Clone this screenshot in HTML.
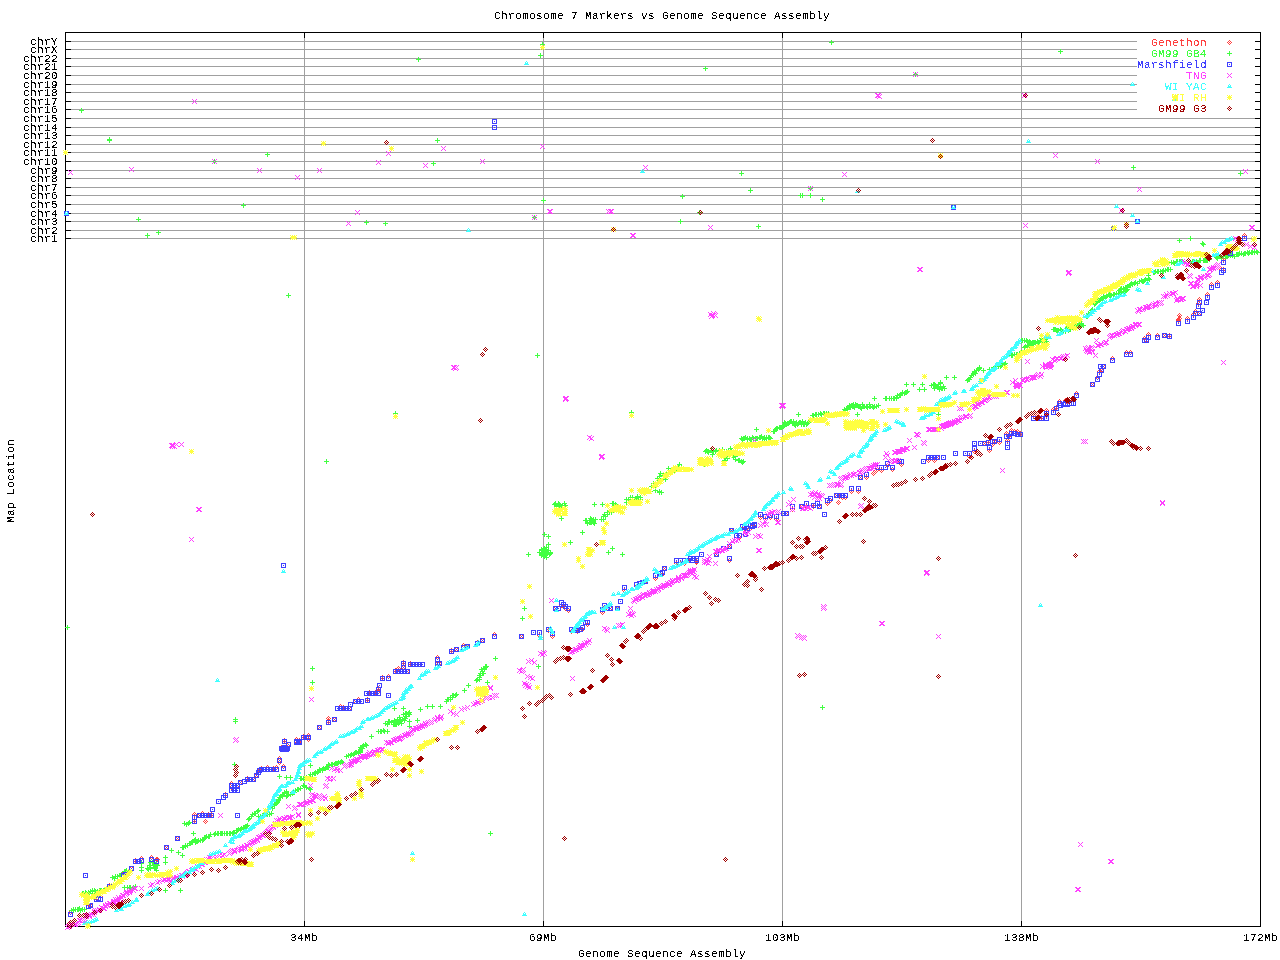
<!DOCTYPE html>
<html lang="en"><head><meta charset="utf-8">
<title>Chromosome 7 Markers vs Genome Sequence Assembly</title>
<style>
html,body{margin:0;padding:0;background:#fff}
body{width:1280px;height:960px;overflow:hidden;position:relative}
svg,#m{position:absolute;left:0;top:0;display:block;width:1280px;height:960px}
text{font-family:"Liberation Mono",monospace;font-size:11px;letter-spacing:0.4px;fill:#000}
.g{fill:#a0a0a0}.k{fill:#000}
i{position:absolute;display:block;width:5px;height:5px}
.a{background:linear-gradient(#ff4040,#ff4040) 2px 0px/1px 1px no-repeat,linear-gradient(#ff4040,#ff4040) 1px 1px/1px 1px no-repeat,linear-gradient(#ff4040,#ff4040) 3px 1px/1px 1px no-repeat,linear-gradient(#ff4040,#ff4040) 0px 2px/1px 1px no-repeat,linear-gradient(#ff4040,#ff4040) 2px 2px/1px 1px no-repeat,linear-gradient(#ff4040,#ff4040) 4px 2px/1px 1px no-repeat,linear-gradient(#ff4040,#ff4040) 1px 3px/1px 1px no-repeat,linear-gradient(#ff4040,#ff4040) 3px 3px/1px 1px no-repeat,linear-gradient(#ff4040,#ff4040) 2px 4px/1px 1px no-repeat}
.b{background:linear-gradient(#40ff40,#40ff40) 2px 0px/1px 1px no-repeat,linear-gradient(#40ff40,#40ff40) 2px 1px/1px 1px no-repeat,linear-gradient(#40ff40,#40ff40) 0px 2px/5px 1px no-repeat,linear-gradient(#40ff40,#40ff40) 2px 3px/1px 1px no-repeat,linear-gradient(#40ff40,#40ff40) 2px 4px/1px 1px no-repeat}
.c{background:linear-gradient(#4040ff,#4040ff) 0px 0px/5px 1px no-repeat,linear-gradient(#4040ff,#4040ff) 0px 1px/1px 1px no-repeat,linear-gradient(#4040ff,#4040ff) 4px 1px/1px 1px no-repeat,linear-gradient(#4040ff,#4040ff) 0px 2px/1px 1px no-repeat,linear-gradient(#4040ff,#4040ff) 2px 2px/1px 1px no-repeat,linear-gradient(#4040ff,#4040ff) 4px 2px/1px 1px no-repeat,linear-gradient(#4040ff,#4040ff) 0px 3px/1px 1px no-repeat,linear-gradient(#4040ff,#4040ff) 4px 3px/1px 1px no-repeat,linear-gradient(#4040ff,#4040ff) 0px 4px/5px 1px no-repeat}
.d{background:linear-gradient(#ff40ff,#ff40ff) 0px 0px/1px 1px no-repeat,linear-gradient(#ff40ff,#ff40ff) 4px 0px/1px 1px no-repeat,linear-gradient(#ff40ff,#ff40ff) 1px 1px/1px 1px no-repeat,linear-gradient(#ff40ff,#ff40ff) 3px 1px/1px 1px no-repeat,linear-gradient(#ff40ff,#ff40ff) 2px 2px/1px 1px no-repeat,linear-gradient(#ff40ff,#ff40ff) 1px 3px/1px 1px no-repeat,linear-gradient(#ff40ff,#ff40ff) 3px 3px/1px 1px no-repeat,linear-gradient(#ff40ff,#ff40ff) 0px 4px/1px 1px no-repeat,linear-gradient(#ff40ff,#ff40ff) 4px 4px/1px 1px no-repeat}
.e{background:linear-gradient(#40ffff,#40ffff) 2px 0px/1px 1px no-repeat,linear-gradient(#40ffff,#40ffff) 1px 1px/1px 1px no-repeat,linear-gradient(#40ffff,#40ffff) 3px 1px/1px 1px no-repeat,linear-gradient(#40ffff,#40ffff) 1px 2px/3px 1px no-repeat,linear-gradient(#40ffff,#40ffff) 0px 3px/5px 1px no-repeat}
.f{background:linear-gradient(#ffff40,#ffff40) 0px 0px/1px 1px no-repeat,linear-gradient(#ffff40,#ffff40) 2px 0px/1px 1px no-repeat,linear-gradient(#ffff40,#ffff40) 4px 0px/1px 1px no-repeat,linear-gradient(#ffff40,#ffff40) 1px 1px/3px 1px no-repeat,linear-gradient(#ffff40,#ffff40) 0px 2px/5px 1px no-repeat,linear-gradient(#ffff40,#ffff40) 1px 3px/3px 1px no-repeat,linear-gradient(#ffff40,#ffff40) 0px 4px/1px 1px no-repeat,linear-gradient(#ffff40,#ffff40) 2px 4px/1px 1px no-repeat,linear-gradient(#ffff40,#ffff40) 4px 4px/1px 1px no-repeat}
.g{background:linear-gradient(#a00000,#a00000) 2px 0px/1px 1px no-repeat,linear-gradient(#a00000,#a00000) 1px 1px/1px 1px no-repeat,linear-gradient(#a00000,#a00000) 3px 1px/1px 1px no-repeat,linear-gradient(#a00000,#a00000) 0px 2px/1px 1px no-repeat,linear-gradient(#a00000,#a00000) 2px 2px/1px 1px no-repeat,linear-gradient(#a00000,#a00000) 4px 2px/1px 1px no-repeat,linear-gradient(#a00000,#a00000) 1px 3px/1px 1px no-repeat,linear-gradient(#a00000,#a00000) 3px 3px/1px 1px no-repeat,linear-gradient(#a00000,#a00000) 2px 4px/1px 1px no-repeat}
</style></head><body>
<svg width="1280" height="960" viewBox="0 0 1280 960" shape-rendering="crispEdges">
<rect width="1280" height="960" fill="#fff"/>
<path class="g" d="M66 41h1071v1h-1071zM66 49h1071v1h-1071zM66 58h1071v1h-1071zM66 66h1071v1h-1071zM66 75h1071v1h-1071zM66 84h1071v1h-1071zM66 92h1071v1h-1071zM66 101h1071v1h-1071zM66 109h1071v1h-1071zM66 118h1194v1h-1194zM66 127h1194v1h-1194zM66 135h1194v1h-1194zM66 144h1194v1h-1194zM66 152h1194v1h-1194zM66 161h1194v1h-1194zM66 170h1194v1h-1194zM66 178h1194v1h-1194zM66 187h1194v1h-1194zM66 195h1194v1h-1194zM66 204h1194v1h-1194zM66 213h1194v1h-1194zM66 221h1194v1h-1194zM66 230h1194v1h-1194zM66 238h1194v1h-1194zM304 33h1v893h-1zM543 33h1v893h-1zM782 33h1v893h-1zM1021 33h1v893h-1z"/>
<path class="k" d="M65 32h1196v1h-1196zM65 926h1196v1h-1196zM65 32h1v895h-1zM1260 32h1v895h-1zM66 41h5v1h-5zM1255 41h5v1h-5zM66 49h5v1h-5zM1255 49h5v1h-5zM66 58h5v1h-5zM1255 58h5v1h-5zM66 66h5v1h-5zM1255 66h5v1h-5zM66 75h5v1h-5zM1255 75h5v1h-5zM66 84h5v1h-5zM1255 84h5v1h-5zM66 92h5v1h-5zM1255 92h5v1h-5zM66 101h5v1h-5zM1255 101h5v1h-5zM66 109h5v1h-5zM1255 109h5v1h-5zM66 118h5v1h-5zM1255 118h5v1h-5zM66 127h5v1h-5zM1255 127h5v1h-5zM66 135h5v1h-5zM1255 135h5v1h-5zM66 144h5v1h-5zM1255 144h5v1h-5zM66 152h5v1h-5zM1255 152h5v1h-5zM66 161h5v1h-5zM1255 161h5v1h-5zM66 170h5v1h-5zM1255 170h5v1h-5zM66 178h5v1h-5zM1255 178h5v1h-5zM66 187h5v1h-5zM1255 187h5v1h-5zM66 195h5v1h-5zM1255 195h5v1h-5zM66 204h5v1h-5zM1255 204h5v1h-5zM66 213h5v1h-5zM1255 213h5v1h-5zM66 221h5v1h-5zM1255 221h5v1h-5zM66 230h5v1h-5zM1255 230h5v1h-5zM66 238h5v1h-5zM1255 238h5v1h-5zM304 33h1v5h-1zM304 921h1v5h-1zM543 33h1v5h-1zM543 921h1v5h-1zM782 33h1v5h-1zM782 921h1v5h-1zM1021 33h1v5h-1zM1021 921h1v5h-1z"/>
</svg>
<div id="m">
<i class=a style=left:68px;top:910px></i><i class=a style=left:94px;top:896px></i><i class=a style=left:96px;top:894px></i><i class=a style=left:98px;top:894px></i><i class=a style=left:86px;top:902px></i><i class=a style=left:88px;top:903px></i><i class=a style=left:107px;top:883px></i><i class=a style=left:121px;top:871px></i><i class=a style=left:129px;top:866px></i><i class=a style=left:133px;top:858px></i><i class=a style=left:139px;top:856px></i><i class=a style=left:149px;top:855px></i><i class=a style=left:154px;top:857px></i><i class=a style=left:164px;top:845px></i><i class=a style=left:175px;top:836px></i><i class=a style=left:192px;top:812px></i><i class=a style=left:192px;top:818px></i><i class=a style=left:197px;top:813px></i><i class=a style=left:200px;top:811px></i><i class=a style=left:203px;top:813px></i><i class=a style=left:206px;top:812px></i><i class=a style=left:209px;top:812px></i><i class=a style=left:223px;top:792px></i><i class=a style=left:229px;top:781px></i><i class=a style=left:232px;top:783px></i><i class=a style=left:235px;top:783px></i><i class=a style=left:229px;top:785px></i><i class=a style=left:232px;top:788px></i><i class=a style=left:238px;top:780px></i><i class=a style=left:245px;top:776px></i><i class=a style=left:251px;top:777px></i><i class=a style=left:254px;top:773px></i><i class=a style=left:256px;top:769px></i><i class=a style=left:257px;top:767px></i><i class=a style=left:259px;top:766px></i><i class=a style=left:262px;top:767px></i><i class=a style=left:265px;top:765px></i><i class=a style=left:268px;top:767px></i><i class=a style=left:271px;top:766px></i><i class=a style=left:274px;top:765px></i><i class=a style=left:281px;top:764px></i><i class=a style=left:277px;top:756px></i><i class=a style=left:279px;top:745px></i><i class=a style=left:281px;top:746px></i><i class=a style=left:283px;top:746px></i><i class=a style=left:285px;top:743px></i><i class=a style=left:284px;top:747px></i><i class=a style=left:282px;top:738px></i><i class=a style=left:294px;top:737px></i><i class=a style=left:297px;top:739px></i><i class=a style=left:294px;top:739px></i><i class=a style=left:297px;top:738px></i><i class=a style=left:301px;top:734px></i><i class=a style=left:304px;top:735px></i><i class=a style=left:306px;top:733px></i><i class=a style=left:317px;top:725px></i><i class=a style=left:326px;top:719px></i><i class=a style=left:332px;top:717px></i><i class=a style=left:338px;top:704px></i><i class=a style=left:341px;top:705px></i><i class=a style=left:344px;top:706px></i><i class=a style=left:347px;top:706px></i><i class=a style=left:353px;top:699px></i><i class=a style=left:356px;top:697px></i><i class=a style=left:365px;top:697px></i><i class=a style=left:367px;top:690px></i><i class=a style=left:370px;top:691px></i><i class=a style=left:373px;top:690px></i><i class=a style=left:376px;top:689px></i><i class=a style=left:376px;top:686px></i><i class=a style=left:380px;top:675px></i><i class=a style=left:386px;top:674px></i><i class=a style=left:393px;top:668px></i><i class=a style=left:396px;top:666px></i><i class=a style=left:399px;top:669px></i><i class=a style=left:402px;top:669px></i><i class=a style=left:405px;top:669px></i><i class=a style=left:401px;top:660px></i><i class=a style=left:401px;top:665px></i><i class=a style=left:408px;top:661px></i><i class=a style=left:411px;top:662px></i><i class=a style=left:414px;top:662px></i><i class=a style=left:435px;top:655px></i><i class=a style=left:435px;top:661px></i><i class=a style=left:437px;top:661px></i><i class=a style=left:449px;top:648px></i><i class=a style=left:454px;top:647px></i><i class=a style=left:461px;top:643px></i><i class=a style=left:465px;top:644px></i><i class=a style=left:475px;top:640px></i><i class=a style=left:480px;top:638px></i><i class=a style=left:492px;top:632px></i><i class=a style=left:519px;top:634px></i><i class=a style=left:537px;top:633px></i><i class=a style=left:546px;top:628px></i><i class=a style=left:550px;top:634px></i><i class=a style=left:553px;top:606px></i><i class=a style=left:559px;top:603px></i><i class=a style=left:561px;top:604px></i><i class=a style=left:563px;top:606px></i><i class=a style=left:566px;top:608px></i><i class=a style=left:569px;top:629px></i><i class=a style=left:572px;top:628px></i><i class=a style=left:575px;top:629px></i><i class=a style=left:580px;top:627px></i><i class=a style=left:585px;top:622px></i><i class=a style=left:600px;top:610px></i><i class=a style=left:602px;top:605px></i><i class=a style=left:605px;top:606px></i><i class=a style=left:608px;top:606px></i><i class=a style=left:615px;top:606px></i><i class=a style=left:622px;top:588px></i><i class=a style=left:634px;top:584px></i><i class=a style=left:637px;top:581px></i><i class=a style=left:640px;top:580px></i><i class=a style=left:643px;top:579px></i><i class=a style=left:653px;top:576px></i><i class=a style=left:660px;top:572px></i><i class=a style=left:662px;top:566px></i><i class=a style=left:674px;top:561px></i><i class=a style=left:678px;top:561px></i><i class=a style=left:682px;top:561px></i><i class=a style=left:686px;top:558px></i><i class=a style=left:694px;top:560px></i><i class=a style=left:691px;top:556px></i><i class=a style=left:694px;top:559px></i><i class=a style=left:714px;top:552px></i><i class=a style=left:727px;top:544px></i><i class=a style=left:727px;top:558px></i><i class=a style=left:729px;top:528px></i><i class=a style=left:737px;top:535px></i><i class=a style=left:742px;top:526px></i><i class=a style=left:745px;top:529px></i><i class=a style=left:750px;top:524px></i><i class=a style=left:740px;top:526px></i><i class=a style=left:748px;top:526px></i><i class=a style=left:752px;top:524px></i><i class=a style=left:758px;top:515px></i><i class=a style=left:763px;top:517px></i><i class=a style=left:768px;top:515px></i><i class=a style=left:774px;top:517px></i><i class=a style=left:784px;top:511px></i><i class=a style=left:790px;top:507px></i><i class=a style=left:799px;top:504px></i><i class=a style=left:804px;top:504px></i><i class=a style=left:811px;top:504px></i><i class=a style=left:817px;top:504px></i><i class=a style=left:825px;top:501px></i><i class=a style=left:828px;top:498px></i><i class=a style=left:834px;top:493px></i><i class=a style=left:837px;top:494px></i><i class=a style=left:840px;top:495px></i><i class=a style=left:843px;top:495px></i><i class=a style=left:849px;top:489px></i><i class=a style=left:856px;top:489px></i><i class=a style=left:858px;top:475px></i><i class=a style=left:864px;top:475px></i><i class=a style=left:875px;top:467px></i><i class=a style=left:879px;top:468px></i><i class=a style=left:885px;top:463px></i><i class=a style=left:890px;top:467px></i><i class=a style=left:897px;top:460px></i><i class=a style=left:899px;top:462px></i><i class=a style=left:926px;top:458px></i><i class=a style=left:932px;top:458px></i><i class=a style=left:935px;top:455px></i><i class=a style=left:967px;top:454px></i><i class=a style=left:972px;top:449px></i><i class=a style=left:982px;top:441px></i><i class=a style=left:986px;top:441px></i><i class=a style=left:990px;top:442px></i><i class=a style=left:992px;top:439px></i><i class=a style=left:987px;top:448px></i><i class=a style=left:997px;top:440px></i><i class=a style=left:1004px;top:431px></i><i class=a style=left:1007px;top:433px></i><i class=a style=left:1005px;top:438px></i><i class=a style=left:1009px;top:428px></i><i class=a style=left:1012px;top:429px></i><i class=a style=left:1015px;top:429px></i><i class=a style=left:1018px;top:431px></i><i class=a style=left:1031px;top:413px></i><i class=a style=left:1035px;top:413px></i><i class=a style=left:1039px;top:415px></i><i class=a style=left:1044px;top:408px></i><i class=a style=left:1044px;top:413px></i><i class=a style=left:1051px;top:407px></i><i class=a style=left:1054px;top:405px></i><i class=a style=left:1063px;top:398px></i><i class=a style=left:1067px;top:399px></i><i class=a style=left:1071px;top:398px></i><i class=a style=left:1074px;top:391px></i><i class=a style=left:1090px;top:382px></i><i class=a style=left:1095px;top:375px></i><i class=a style=left:1097px;top:369px></i><i class=a style=left:1099px;top:368px></i><i class=a style=left:1101px;top:364px></i><i class=a style=left:1110px;top:356px></i><i class=a style=left:1124px;top:350px></i><i class=a style=left:1128px;top:350px></i><i class=a style=left:1142px;top:336px></i><i class=a style=left:1144px;top:338px></i><i class=a style=left:1146px;top:332px></i><i class=a style=left:1155px;top:333px></i><i class=a style=left:1162px;top:333px></i><i class=a style=left:1167px;top:333px></i><i class=a style=left:1176px;top:318px></i><i class=a style=left:1185px;top:316px></i><i class=a style=left:1191px;top:312px></i><i class=a style=left:1193px;top:309px></i><i class=a style=left:1197px;top:311px></i><i class=a style=left:1196px;top:301px></i><i class=a style=left:1197px;top:297px></i><i class=a style=left:1205px;top:292px></i><i class=a style=left:1209px;top:282px></i><i class=a style=left:1215px;top:280px></i><i class=a style=left:1219px;top:267px></i><i class=a style=left:1221px;top:267px></i><i class=a style=left:1221px;top:257px></i><i class=a style=left:1228px;top:250px></i><i class=a style=left:1242px;top:233px></i><i class=a style=left:1057px;top:399px></i><i class=a style=left:1065px;top:400px></i><i class=a style=left:203px;top:819px></i><i class=a style=left:277px;top:760px></i><i class=a style=left:326px;top:716px></i><i class=a style=left:306px;top:737px></i><i class=a style=left:836px;top:500px></i><i class=a style=left:872px;top:470px></i><i class=a style=left:871px;top:471px></i><i class=a style=left:1177px;top:313px></i><i class=a style=left:1177px;top:316px></i><i class=a style=left:1176px;top:317px></i><i class=a style=left:155px;top:857px></i><i class=a style=left:64px;top:211px></i>
<i class=b style=left:69px;top:908px></i><i class=b style=left:71px;top:908px></i><i class=b style=left:71px;top:907px></i><i class=b style=left:73px;top:907px></i><i class=b style=left:75px;top:907px></i><i class=b style=left:76px;top:907px></i><i class=b style=left:77px;top:906px></i><i class=b style=left:78px;top:908px></i><i class=b style=left:80px;top:907px></i><i class=b style=left:80px;top:907px></i><i class=b style=left:82px;top:907px></i><i class=b style=left:80px;top:891px></i><i class=b style=left:81px;top:891px></i><i class=b style=left:83px;top:890px></i><i class=b style=left:84px;top:891px></i><i class=b style=left:86px;top:890px></i><i class=b style=left:87px;top:891px></i><i class=b style=left:88px;top:889px></i><i class=b style=left:90px;top:889px></i><i class=b style=left:90px;top:888px></i><i class=b style=left:92px;top:888px></i><i class=b style=left:92px;top:889px></i><i class=b style=left:93px;top:889px></i><i class=b style=left:95px;top:889px></i><i class=b style=left:97px;top:888px></i><i class=b style=left:98px;top:888px></i><i class=b style=left:99px;top:888px></i><i class=b style=left:101px;top:888px></i><i class=b style=left:103px;top:888px></i><i class=b style=left:104px;top:886px></i><i class=b style=left:105px;top:887px></i><i class=b style=left:110px;top:875px></i><i class=b style=left:112px;top:876px></i><i class=b style=left:113px;top:874px></i><i class=b style=left:113px;top:874px></i><i class=b style=left:115px;top:874px></i><i class=b style=left:117px;top:873px></i><i class=b style=left:118px;top:873px></i><i class=b style=left:118px;top:873px></i><i class=b style=left:119px;top:872px></i><i class=b style=left:119px;top:872px></i><i class=b style=left:121px;top:871px></i><i class=b style=left:122px;top:869px></i><i class=b style=left:123px;top:869px></i><i class=b style=left:124px;top:868px></i><i class=b style=left:122px;top:885px></i><i class=b style=left:125px;top:885px></i><i class=b style=left:127px;top:885px></i><i class=b style=left:128px;top:885px></i><i class=b style=left:131px;top:885px></i><i class=b style=left:133px;top:884px></i><i class=b style=left:139px;top:861px></i><i class=b style=left:139px;top:865px></i><i class=b style=left:139px;top:868px></i><i class=b style=left:163px;top:855px></i><i class=b style=left:163px;top:860px></i><i class=b style=left:169px;top:848px></i><i class=b style=left:176px;top:850px></i><i class=b style=left:180px;top:853px></i><i class=b style=left:191px;top:831px></i><i class=b style=left:178px;top:888px></i><i class=b style=left:163px;top:888px></i><i class=b style=left:148px;top:866px></i><i class=b style=left:153px;top:866px></i><i class=b style=left:150px;top:860px></i><i class=b style=left:154px;top:862px></i><i class=b style=left:154px;top:868px></i><i class=b style=left:154px;top:863px></i><i class=b style=left:155px;top:863px></i><i class=b style=left:148px;top:865px></i><i class=b style=left:152px;top:865px></i><i class=b style=left:151px;top:863px></i><i class=b style=left:154px;top:863px></i><i class=b style=left:152px;top:860px></i><i class=b style=left:146px;top:867px></i><i class=b style=left:147px;top:863px></i><i class=b style=left:145px;top:866px></i><i class=b style=left:148px;top:860px></i><i class=b style=left:180px;top:845px></i><i class=b style=left:181px;top:845px></i><i class=b style=left:183px;top:844px></i><i class=b style=left:183px;top:843px></i><i class=b style=left:185px;top:843px></i><i class=b style=left:185px;top:843px></i><i class=b style=left:187px;top:841px></i><i class=b style=left:188px;top:841px></i><i class=b style=left:189px;top:840px></i><i class=b style=left:190px;top:840px></i><i class=b style=left:190px;top:839px></i><i class=b style=left:192px;top:838px></i><i class=b style=left:193px;top:837px></i><i class=b style=left:182px;top:821px></i><i class=b style=left:184px;top:822px></i><i class=b style=left:186px;top:821px></i><i class=b style=left:187px;top:820px></i><i class=b style=left:193px;top:840px></i><i class=b style=left:194px;top:839px></i><i class=b style=left:195px;top:839px></i><i class=b style=left:196px;top:838px></i><i class=b style=left:198px;top:838px></i><i class=b style=left:200px;top:838px></i><i class=b style=left:200px;top:838px></i><i class=b style=left:201px;top:837px></i><i class=b style=left:202px;top:835px></i><i class=b style=left:203px;top:835px></i><i class=b style=left:204px;top:834px></i><i class=b style=left:206px;top:834px></i><i class=b style=left:207px;top:834px></i><i class=b style=left:208px;top:832px></i><i class=b style=left:212px;top:832px></i><i class=b style=left:213px;top:831px></i><i class=b style=left:215px;top:831px></i><i class=b style=left:216px;top:831px></i><i class=b style=left:218px;top:831px></i><i class=b style=left:219px;top:831px></i><i class=b style=left:220px;top:831px></i><i class=b style=left:222px;top:831px></i><i class=b style=left:222px;top:831px></i><i class=b style=left:224px;top:831px></i><i class=b style=left:225px;top:831px></i><i class=b style=left:227px;top:831px></i><i class=b style=left:228px;top:831px></i><i class=b style=left:230px;top:831px></i><i class=b style=left:231px;top:830px></i><i class=b style=left:232px;top:831px></i><i class=b style=left:234px;top:828px></i><i class=b style=left:235px;top:828px></i><i class=b style=left:236px;top:827px></i><i class=b style=left:238px;top:827px></i><i class=b style=left:239px;top:826px></i><i class=b style=left:241px;top:825px></i><i class=b style=left:242px;top:825px></i><i class=b style=left:243px;top:824px></i><i class=b style=left:244px;top:824px></i><i class=b style=left:245px;top:823px></i><i class=b style=left:246px;top:817px></i><i class=b style=left:247px;top:816px></i><i class=b style=left:249px;top:814px></i><i class=b style=left:250px;top:812px></i><i class=b style=left:252px;top:811px></i><i class=b style=left:253px;top:811px></i><i class=b style=left:255px;top:809px></i><i class=b style=left:256px;top:808px></i><i class=b style=left:256px;top:814px></i><i class=b style=left:258px;top:814px></i><i class=b style=left:260px;top:813px></i><i class=b style=left:261px;top:813px></i><i class=b style=left:264px;top:812px></i><i class=b style=left:265px;top:812px></i><i class=b style=left:267px;top:812px></i><i class=b style=left:269px;top:811px></i><i class=b style=left:270px;top:806px></i><i class=b style=left:269px;top:804px></i><i class=b style=left:270px;top:804px></i><i class=b style=left:272px;top:803px></i><i class=b style=left:272px;top:802px></i><i class=b style=left:273px;top:801px></i><i class=b style=left:274px;top:801px></i><i class=b style=left:275px;top:800px></i><i class=b style=left:275px;top:799px></i><i class=b style=left:276px;top:798px></i><i class=b style=left:276px;top:797px></i><i class=b style=left:277px;top:795px></i><i class=b style=left:278px;top:795px></i><i class=b style=left:280px;top:794px></i><i class=b style=left:280px;top:793px></i><i class=b style=left:280px;top:792px></i><i class=b style=left:282px;top:791px></i><i class=b style=left:282px;top:790px></i><i class=b style=left:284px;top:790px></i><i class=b style=left:284px;top:789px></i><i class=b style=left:284px;top:794px></i><i class=b style=left:285px;top:793px></i><i class=b style=left:286px;top:792px></i><i class=b style=left:288px;top:792px></i><i class=b style=left:288px;top:792px></i><i class=b style=left:290px;top:791px></i><i class=b style=left:291px;top:790px></i><i class=b style=left:292px;top:790px></i><i class=b style=left:293px;top:788px></i><i class=b style=left:295px;top:787px></i><i class=b style=left:296px;top:787px></i><i class=b style=left:296px;top:787px></i><i class=b style=left:298px;top:786px></i><i class=b style=left:277px;top:774px></i><i class=b style=left:284px;top:775px></i><i class=b style=left:288px;top:775px></i><i class=b style=left:232px;top:762px></i><i class=b style=left:308px;top:763px></i><i class=b style=left:298px;top:776px></i><i class=b style=left:299px;top:776px></i><i class=b style=left:301px;top:776px></i><i class=b style=left:302px;top:777px></i><i class=b style=left:304px;top:775px></i><i class=b style=left:306px;top:776px></i><i class=b style=left:307px;top:776px></i><i class=b style=left:301px;top:783px></i><i class=b style=left:302px;top:784px></i><i class=b style=left:304px;top:785px></i><i class=b style=left:307px;top:786px></i><i class=b style=left:308px;top:787px></i><i class=b style=left:307px;top:774px></i><i class=b style=left:308px;top:772px></i><i class=b style=left:310px;top:772px></i><i class=b style=left:310px;top:772px></i><i class=b style=left:312px;top:771px></i><i class=b style=left:313px;top:771px></i><i class=b style=left:313px;top:770px></i><i class=b style=left:315px;top:770px></i><i class=b style=left:316px;top:769px></i><i class=b style=left:317px;top:767px></i><i class=b style=left:318px;top:768px></i><i class=b style=left:320px;top:768px></i><i class=b style=left:320px;top:767px></i><i class=b style=left:321px;top:766px></i><i class=b style=left:323px;top:766px></i><i class=b style=left:324px;top:765px></i><i class=b style=left:325px;top:765px></i><i class=b style=left:326px;top:765px></i><i class=b style=left:326px;top:763px></i><i class=b style=left:326px;top:762px></i><i class=b style=left:327px;top:763px></i><i class=b style=left:329px;top:762px></i><i class=b style=left:330px;top:762px></i><i class=b style=left:332px;top:762px></i><i class=b style=left:333px;top:761px></i><i class=b style=left:334px;top:761px></i><i class=b style=left:335px;top:761px></i><i class=b style=left:336px;top:760px></i><i class=b style=left:338px;top:760px></i><i class=b style=left:339px;top:759px></i><i class=b style=left:340px;top:760px></i><i class=b style=left:344px;top:754px></i><i class=b style=left:349px;top:752px></i><i class=b style=left:354px;top:750px></i><i class=b style=left:356px;top:751px></i><i class=b style=left:357px;top:749px></i><i class=b style=left:358px;top:748px></i><i class=b style=left:359px;top:746px></i><i class=b style=left:360px;top:746px></i><i class=b style=left:364px;top:743px></i><i class=b style=left:310px;top:666px></i><i class=b style=left:310px;top:680px></i><i class=b style=left:369px;top:734px></i><i class=b style=left:344px;top:754px></i><i class=b style=left:346px;top:753px></i><i class=b style=left:348px;top:753px></i><i class=b style=left:349px;top:752px></i><i class=b style=left:349px;top:752px></i><i class=b style=left:351px;top:752px></i><i class=b style=left:352px;top:751px></i><i class=b style=left:353px;top:750px></i><i class=b style=left:356px;top:750px></i><i class=b style=left:356px;top:749px></i><i class=b style=left:358px;top:750px></i><i class=b style=left:358px;top:749px></i><i class=b style=left:358px;top:747px></i><i class=b style=left:359px;top:745px></i><i class=b style=left:358px;top:745px></i><i class=b style=left:360px;top:744px></i><i class=b style=left:361px;top:743px></i><i class=b style=left:363px;top:742px></i><i class=b style=left:376px;top:729px></i><i class=b style=left:378px;top:729px></i><i class=b style=left:379px;top:729px></i><i class=b style=left:381px;top:728px></i><i class=b style=left:382px;top:729px></i><i class=b style=left:385px;top:729px></i><i class=b style=left:386px;top:719px></i><i class=b style=left:387px;top:720px></i><i class=b style=left:392px;top:719px></i><i class=b style=left:383px;top:721px></i><i class=b style=left:392px;top:720px></i><i class=b style=left:385px;top:722px></i><i class=b style=left:392px;top:718px></i><i class=b style=left:383px;top:721px></i><i class=b style=left:387px;top:720px></i><i class=b style=left:387px;top:719px></i><i class=b style=left:391px;top:722px></i><i class=b style=left:389px;top:720px></i><i class=b style=left:392px;top:722px></i><i class=b style=left:393px;top:722px></i><i class=b style=left:394px;top:722px></i><i class=b style=left:394px;top:720px></i><i class=b style=left:396px;top:721px></i><i class=b style=left:397px;top:720px></i><i class=b style=left:395px;top:717px></i><i class=b style=left:399px;top:721px></i><i class=b style=left:398px;top:718px></i><i class=b style=left:397px;top:715px></i><i class=b style=left:400px;top:717px></i><i class=b style=left:400px;top:717px></i><i class=b style=left:402px;top:718px></i><i class=b style=left:402px;top:716px></i><i class=b style=left:403px;top:716px></i><i class=b style=left:401px;top:712px></i><i class=b style=left:403px;top:714px></i><i class=b style=left:404px;top:714px></i><i class=b style=left:403px;top:711px></i><i class=b style=left:404px;top:711px></i><i class=b style=left:407px;top:712px></i><i class=b style=left:406px;top:711px></i><i class=b style=left:407px;top:710px></i><i class=b style=left:392px;top:706px></i><i class=b style=left:401px;top:706px></i><i class=b style=left:407px;top:719px></i><i class=b style=left:407px;top:724px></i><i class=b style=left:415px;top:718px></i><i class=b style=left:418px;top:707px></i><i class=b style=left:425px;top:704px></i><i class=b style=left:430px;top:704px></i><i class=b style=left:438px;top:704px></i><i class=b style=left:462px;top:688px></i><i class=b style=left:466px;top:683px></i><i class=b style=left:485px;top:680px></i><i class=b style=left:493px;top:656px></i><i class=b style=left:444px;top:699px></i><i class=b style=left:445px;top:697px></i><i class=b style=left:446px;top:697px></i><i class=b style=left:448px;top:697px></i><i class=b style=left:448px;top:695px></i><i class=b style=left:450px;top:695px></i><i class=b style=left:450px;top:693px></i><i class=b style=left:451px;top:693px></i><i class=b style=left:453px;top:693px></i><i class=b style=left:454px;top:692px></i><i class=b style=left:474px;top:678px></i><i class=b style=left:475px;top:677px></i><i class=b style=left:477px;top:677px></i><i class=b style=left:477px;top:675px></i><i class=b style=left:477px;top:675px></i><i class=b style=left:477px;top:673px></i><i class=b style=left:478px;top:673px></i><i class=b style=left:478px;top:671px></i><i class=b style=left:480px;top:671px></i><i class=b style=left:478px;top:671px></i><i class=b style=left:481px;top:671px></i><i class=b style=left:480px;top:669px></i><i class=b style=left:479px;top:667px></i><i class=b style=left:482px;top:667px></i><i class=b style=left:482px;top:666px></i><i class=b style=left:483px;top:665px></i><i class=b style=left:483px;top:664px></i><i class=b style=left:484px;top:664px></i><i class=b style=left:522px;top:606px></i><i class=b style=left:520px;top:616px></i><i class=b style=left:536px;top:664px></i><i class=b style=left:526px;top:552px></i><i class=b style=left:542px;top:532px></i><i class=b style=left:546px;top:534px></i><i class=b style=left:546px;top:542px></i><i class=b style=left:568px;top:540px></i><i class=b style=left:559px;top:516px></i><i class=b style=left:580px;top:530px></i><i class=b style=left:592px;top:502px></i><i class=b style=left:600px;top:502px></i><i class=b style=left:648px;top:489px></i><i class=b style=left:653px;top:484px></i><i class=b style=left:657px;top:489px></i><i class=b style=left:704px;top:448px></i><i class=b style=left:710px;top:452px></i><i class=b style=left:702px;top:462px></i><i class=b style=left:706px;top:450px></i><i class=b style=left:722px;top:458px></i><i class=b style=left:606px;top:550px></i><i class=b style=left:610px;top:546px></i><i class=b style=left:620px;top:552px></i><i class=b style=left:535px;top:353px></i><i class=b style=left:629px;top:410px></i><i class=b style=left:544px;top:551px></i><i class=b style=left:539px;top:548px></i><i class=b style=left:537px;top:550px></i><i class=b style=left:540px;top:550px></i><i class=b style=left:548px;top:550px></i><i class=b style=left:540px;top:552px></i><i class=b style=left:546px;top:548px></i><i class=b style=left:543px;top:553px></i><i class=b style=left:539px;top:552px></i><i class=b style=left:541px;top:549px></i><i class=b style=left:544px;top:555px></i><i class=b style=left:540px;top:548px></i><i class=b style=left:540px;top:552px></i><i class=b style=left:543px;top:553px></i><i class=b style=left:539px;top:553px></i><i class=b style=left:541px;top:547px></i><i class=b style=left:544px;top:548px></i><i class=b style=left:542px;top:554px></i><i class=b style=left:547px;top:552px></i><i class=b style=left:544px;top:545px></i><i class=b style=left:541px;top:553px></i><i class=b style=left:542px;top:552px></i><i class=b style=left:544px;top:549px></i><i class=b style=left:541px;top:550px></i><i class=b style=left:548px;top:551px></i><i class=b style=left:539px;top:547px></i><i class=b style=left:542px;top:546px></i><i class=b style=left:544px;top:547px></i><i class=b style=left:543px;top:548px></i><i class=b style=left:543px;top:550px></i><i class=b style=left:540px;top:551px></i><i class=b style=left:548px;top:551px></i><i class=b style=left:548px;top:550px></i><i class=b style=left:543px;top:549px></i><i class=b style=left:556px;top:503px></i><i class=b style=left:563px;top:503px></i><i class=b style=left:559px;top:505px></i><i class=b style=left:556px;top:501px></i><i class=b style=left:556px;top:501px></i><i class=b style=left:558px;top:503px></i><i class=b style=left:554px;top:504px></i><i class=b style=left:557px;top:502px></i><i class=b style=left:562px;top:501px></i><i class=b style=left:560px;top:503px></i><i class=b style=left:552px;top:502px></i><i class=b style=left:557px;top:503px></i><i class=b style=left:553px;top:502px></i><i class=b style=left:553px;top:501px></i><i class=b style=left:553px;top:502px></i><i class=b style=left:558px;top:505px></i><i class=b style=left:559px;top:505px></i><i class=b style=left:562px;top:503px></i><i class=b style=left:589px;top:520px></i><i class=b style=left:592px;top:521px></i><i class=b style=left:584px;top:518px></i><i class=b style=left:588px;top:516px></i><i class=b style=left:589px;top:519px></i><i class=b style=left:589px;top:520px></i><i class=b style=left:588px;top:520px></i><i class=b style=left:583px;top:518px></i><i class=b style=left:591px;top:520px></i><i class=b style=left:593px;top:517px></i><i class=b style=left:585px;top:521px></i><i class=b style=left:591px;top:517px></i><i class=b style=left:588px;top:516px></i><i class=b style=left:589px;top:517px></i><i class=b style=left:590px;top:518px></i><i class=b style=left:587px;top:520px></i><i class=b style=left:599px;top:517px></i><i class=b style=left:601px;top:517px></i><i class=b style=left:601px;top:517px></i><i class=b style=left:601px;top:514px></i><i class=b style=left:603px;top:514px></i><i class=b style=left:602px;top:512px></i><i class=b style=left:605px;top:512px></i><i class=b style=left:605px;top:510px></i><i class=b style=left:607px;top:510px></i><i class=b style=left:607px;top:509px></i><i class=b style=left:609px;top:510px></i><i class=b style=left:610px;top:501px></i><i class=b style=left:611px;top:501px></i><i class=b style=left:613px;top:502px></i><i class=b style=left:614px;top:503px></i><i class=b style=left:615px;top:504px></i><i class=b style=left:624px;top:500px></i><i class=b style=left:624px;top:497px></i><i class=b style=left:626px;top:497px></i><i class=b style=left:628px;top:497px></i><i class=b style=left:628px;top:495px></i><i class=b style=left:630px;top:495px></i><i class=b style=left:632px;top:499px></i><i class=b style=left:633px;top:497px></i><i class=b style=left:634px;top:496px></i><i class=b style=left:635px;top:494px></i><i class=b style=left:638px;top:497px></i><i class=b style=left:638px;top:495px></i><i class=b style=left:655px;top:476px></i><i class=b style=left:658px;top:478px></i><i class=b style=left:657px;top:474px></i><i class=b style=left:658px;top:471px></i><i class=b style=left:661px;top:473px></i><i class=b style=left:663px;top:475px></i><i class=b style=left:664px;top:472px></i><i class=b style=left:669px;top:470px></i><i class=b style=left:670px;top:469px></i><i class=b style=left:670px;top:467px></i><i class=b style=left:672px;top:468px></i><i class=b style=left:673px;top:465px></i><i class=b style=left:676px;top:466px></i><i class=b style=left:676px;top:465px></i><i class=b style=left:677px;top:462px></i><i class=b style=left:679px;top:465px></i><i class=b style=left:703px;top:449px></i><i class=b style=left:705px;top:449px></i><i class=b style=left:706px;top:449px></i><i class=b style=left:709px;top:448px></i><i class=b style=left:711px;top:449px></i><i class=b style=left:713px;top:449px></i><i class=b style=left:714px;top:448px></i><i class=b style=left:717px;top:448px></i><i class=b style=left:718px;top:450px></i><i class=b style=left:720px;top:447px></i><i class=b style=left:722px;top:450px></i><i class=b style=left:724px;top:449px></i><i class=b style=left:726px;top:449px></i><i class=b style=left:728px;top:446px></i><i class=b style=left:723px;top:455px></i><i class=b style=left:725px;top:456px></i><i class=b style=left:731px;top:455px></i><i class=b style=left:733px;top:457px></i><i class=b style=left:736px;top:458px></i><i class=b style=left:739px;top:459px></i><i class=b style=left:741px;top:459px></i><i class=b style=left:653px;top:488px></i><i class=b style=left:657px;top:490px></i><i class=b style=left:659px;top:490px></i><i class=b style=left:651px;top:481px></i><i class=b style=left:649px;top:484px></i><i class=b style=left:663px;top:477px></i><i class=b style=left:666px;top:466px></i><i class=b style=left:720px;top:449px></i><i class=b style=left:729px;top:448px></i><i class=b style=left:737px;top:458px></i><i class=b style=left:740px;top:460px></i><i class=b style=left:724px;top:449px></i><i class=b style=left:733px;top:454px></i><i class=b style=left:754px;top:427px></i><i class=b style=left:796px;top:412px></i><i class=b style=left:872px;top:396px></i><i class=b style=left:855px;top:412px></i><i class=b style=left:739px;top:436px></i><i class=b style=left:740px;top:437px></i><i class=b style=left:741px;top:436px></i><i class=b style=left:742px;top:436px></i><i class=b style=left:743px;top:435px></i><i class=b style=left:745px;top:437px></i><i class=b style=left:745px;top:436px></i><i class=b style=left:747px;top:436px></i><i class=b style=left:748px;top:437px></i><i class=b style=left:749px;top:437px></i><i class=b style=left:750px;top:435px></i><i class=b style=left:751px;top:436px></i><i class=b style=left:753px;top:436px></i><i class=b style=left:754px;top:436px></i><i class=b style=left:755px;top:436px></i><i class=b style=left:757px;top:435px></i><i class=b style=left:758px;top:435px></i><i class=b style=left:759px;top:434px></i><i class=b style=left:760px;top:436px></i><i class=b style=left:762px;top:437px></i><i class=b style=left:762px;top:435px></i><i class=b style=left:764px;top:435px></i><i class=b style=left:764px;top:436px></i><i class=b style=left:766px;top:435px></i><i class=b style=left:767px;top:435px></i><i class=b style=left:768px;top:436px></i><i class=b style=left:771px;top:429px></i><i class=b style=left:772px;top:429px></i><i class=b style=left:773px;top:427px></i><i class=b style=left:774px;top:426px></i><i class=b style=left:775px;top:426px></i><i class=b style=left:775px;top:426px></i><i class=b style=left:777px;top:425px></i><i class=b style=left:778px;top:425px></i><i class=b style=left:779px;top:425px></i><i class=b style=left:780px;top:424px></i><i class=b style=left:781px;top:424px></i><i class=b style=left:782px;top:423px></i><i class=b style=left:782px;top:420px></i><i class=b style=left:783px;top:421px></i><i class=b style=left:784px;top:422px></i><i class=b style=left:785px;top:421px></i><i class=b style=left:786px;top:421px></i><i class=b style=left:787px;top:420px></i><i class=b style=left:788px;top:419px></i><i class=b style=left:789px;top:419px></i><i class=b style=left:790px;top:421px></i><i class=b style=left:791px;top:419px></i><i class=b style=left:792px;top:422px></i><i class=b style=left:793px;top:423px></i><i class=b style=left:794px;top:420px></i><i class=b style=left:795px;top:422px></i><i class=b style=left:796px;top:421px></i><i class=b style=left:797px;top:420px></i><i class=b style=left:798px;top:420px></i><i class=b style=left:799px;top:422px></i><i class=b style=left:800px;top:419px></i><i class=b style=left:801px;top:422px></i><i class=b style=left:802px;top:422px></i><i class=b style=left:803px;top:420px></i><i class=b style=left:804px;top:422px></i><i class=b style=left:805px;top:421px></i><i class=b style=left:806px;top:420px></i><i class=b style=left:807px;top:419px></i><i class=b style=left:808px;top:418px></i><i class=b style=left:810px;top:413px></i><i class=b style=left:811px;top:413px></i><i class=b style=left:813px;top:412px></i><i class=b style=left:814px;top:412px></i><i class=b style=left:816px;top:412px></i><i class=b style=left:818px;top:411px></i><i class=b style=left:819px;top:412px></i><i class=b style=left:821px;top:411px></i><i class=b style=left:822px;top:411px></i><i class=b style=left:824px;top:411px></i><i class=b style=left:826px;top:411px></i><i class=b style=left:827px;top:412px></i><i class=b style=left:842px;top:407px></i><i class=b style=left:843px;top:408px></i><i class=b style=left:844px;top:406px></i><i class=b style=left:845px;top:406px></i><i class=b style=left:846px;top:405px></i><i class=b style=left:847px;top:405px></i><i class=b style=left:848px;top:405px></i><i class=b style=left:850px;top:404px></i><i class=b style=left:851px;top:403px></i><i class=b style=left:851px;top:402px></i><i class=b style=left:853px;top:402px></i><i class=b style=left:847px;top:403px></i><i class=b style=left:848px;top:404px></i><i class=b style=left:849px;top:403px></i><i class=b style=left:850px;top:403px></i><i class=b style=left:851px;top:404px></i><i class=b style=left:852px;top:405px></i><i class=b style=left:853px;top:403px></i><i class=b style=left:854px;top:403px></i><i class=b style=left:855px;top:403px></i><i class=b style=left:856px;top:404px></i><i class=b style=left:857px;top:404px></i><i class=b style=left:858px;top:405px></i><i class=b style=left:859px;top:406px></i><i class=b style=left:860px;top:402px></i><i class=b style=left:861px;top:404px></i><i class=b style=left:862px;top:404px></i><i class=b style=left:864px;top:404px></i><i class=b style=left:864px;top:404px></i><i class=b style=left:865px;top:405px></i><i class=b style=left:867px;top:402px></i><i class=b style=left:867px;top:404px></i><i class=b style=left:868px;top:404px></i><i class=b style=left:870px;top:404px></i><i class=b style=left:870px;top:404px></i><i class=b style=left:871px;top:405px></i><i class=b style=left:872px;top:404px></i><i class=b style=left:874px;top:404px></i><i class=b style=left:874px;top:404px></i><i class=b style=left:876px;top:403px></i><i class=b style=left:883px;top:396px></i><i class=b style=left:884px;top:396px></i><i class=b style=left:887px;top:396px></i><i class=b style=left:889px;top:396px></i><i class=b style=left:891px;top:396px></i><i class=b style=left:892px;top:396px></i><i class=b style=left:894px;top:396px></i><i class=b style=left:894px;top:395px></i><i class=b style=left:895px;top:393px></i><i class=b style=left:897px;top:393px></i><i class=b style=left:898px;top:393px></i><i class=b style=left:898px;top:392px></i><i class=b style=left:900px;top:391px></i><i class=b style=left:900px;top:390px></i><i class=b style=left:902px;top:391px></i><i class=b style=left:903px;top:390px></i><i class=b style=left:904px;top:390px></i><i class=b style=left:905px;top:389px></i><i class=b style=left:904px;top:382px></i><i class=b style=left:911px;top:382px></i><i class=b style=left:920px;top:382px></i><i class=b style=left:917px;top:387px></i><i class=b style=left:922px;top:387px></i><i class=b style=left:936px;top:412px></i><i class=b style=left:938px;top:380px></i><i class=b style=left:942px;top:386px></i><i class=b style=left:944px;top:375px></i><i class=b style=left:952px;top:375px></i><i class=b style=left:981px;top:368px></i><i class=b style=left:931px;top:383px></i><i class=b style=left:933px;top:383px></i><i class=b style=left:936px;top:385px></i><i class=b style=left:936px;top:382px></i><i class=b style=left:929px;top:383px></i><i class=b style=left:931px;top:382px></i><i class=b style=left:938px;top:385px></i><i class=b style=left:938px;top:381px></i><i class=b style=left:937px;top:387px></i><i class=b style=left:933px;top:383px></i><i class=b style=left:940px;top:386px></i><i class=b style=left:935px;top:385px></i><i class=b style=left:935px;top:384px></i><i class=b style=left:939px;top:386px></i><i class=b style=left:941px;top:384px></i><i class=b style=left:931px;top:383px></i><i class=b style=left:932px;top:382px></i><i class=b style=left:932px;top:386px></i><i class=b style=left:965px;top:378px></i><i class=b style=left:966px;top:377px></i><i class=b style=left:967px;top:377px></i><i class=b style=left:968px;top:375px></i><i class=b style=left:968px;top:375px></i><i class=b style=left:969px;top:373px></i><i class=b style=left:969px;top:373px></i><i class=b style=left:971px;top:372px></i><i class=b style=left:971px;top:371px></i><i class=b style=left:972px;top:370px></i><i class=b style=left:973px;top:371px></i><i class=b style=left:972px;top:369px></i><i class=b style=left:974px;top:368px></i><i class=b style=left:974px;top:368px></i><i class=b style=left:976px;top:367px></i><i class=b style=left:977px;top:366px></i><i class=b style=left:977px;top:365px></i><i class=b style=left:987px;top:367px></i><i class=b style=left:989px;top:367px></i><i class=b style=left:991px;top:366px></i><i class=b style=left:991px;top:366px></i><i class=b style=left:992px;top:365px></i><i class=b style=left:994px;top:364px></i><i class=b style=left:996px;top:364px></i><i class=b style=left:998px;top:364px></i><i class=b style=left:999px;top:363px></i><i class=b style=left:1000px;top:362px></i><i class=b style=left:1002px;top:362px></i><i class=b style=left:1003px;top:361px></i><i class=b style=left:1009px;top:353px></i><i class=b style=left:1010px;top:353px></i><i class=b style=left:1012px;top:352px></i><i class=b style=left:1014px;top:352px></i><i class=b style=left:1015px;top:352px></i><i class=b style=left:1017px;top:352px></i><i class=b style=left:1017px;top:351px></i><i class=b style=left:1019px;top:350px></i><i class=b style=left:1020px;top:350px></i><i class=b style=left:1019px;top:338px></i><i class=b style=left:1020px;top:338px></i><i class=b style=left:1022px;top:338px></i><i class=b style=left:1024px;top:338px></i><i class=b style=left:1025px;top:339px></i><i class=b style=left:1027px;top:339px></i><i class=b style=left:1028px;top:340px></i><i class=b style=left:1030px;top:340px></i><i class=b style=left:1032px;top:340px></i><i class=b style=left:1033px;top:340px></i><i class=b style=left:1036px;top:340px></i><i class=b style=left:1022px;top:345px></i><i class=b style=left:1023px;top:344px></i><i class=b style=left:1025px;top:343px></i><i class=b style=left:1026px;top:343px></i><i class=b style=left:1027px;top:343px></i><i class=b style=left:1029px;top:343px></i><i class=b style=left:1030px;top:341px></i><i class=b style=left:1031px;top:340px></i><i class=b style=left:1033px;top:341px></i><i class=b style=left:1033px;top:340px></i><i class=b style=left:1035px;top:339px></i><i class=b style=left:1037px;top:340px></i><i class=b style=left:1038px;top:338px></i><i class=b style=left:1039px;top:339px></i><i class=b style=left:1040px;top:338px></i><i class=b style=left:1041px;top:337px></i><i class=b style=left:1043px;top:337px></i><i class=b style=left:1051px;top:327px></i><i class=b style=left:1053px;top:327px></i><i class=b style=left:1054px;top:328px></i><i class=b style=left:1056px;top:328px></i><i class=b style=left:1058px;top:327px></i><i class=b style=left:1066px;top:328px></i><i class=b style=left:1067px;top:327px></i><i class=b style=left:1068px;top:327px></i><i class=b style=left:1069px;top:325px></i><i class=b style=left:1070px;top:325px></i><i class=b style=left:1071px;top:325px></i><i class=b style=left:1073px;top:324px></i><i class=b style=left:1074px;top:324px></i><i class=b style=left:1076px;top:324px></i><i class=b style=left:1077px;top:323px></i><i class=b style=left:1078px;top:324px></i><i class=b style=left:1079px;top:322px></i><i class=b style=left:1081px;top:323px></i><i class=b style=left:1084px;top:314px></i><i class=b style=left:1085px;top:314px></i><i class=b style=left:1086px;top:312px></i><i class=b style=left:1086px;top:311px></i><i class=b style=left:1088px;top:310px></i><i class=b style=left:1089px;top:308px></i><i class=b style=left:1090px;top:307px></i><i class=b style=left:1092px;top:302px></i><i class=b style=left:1093px;top:301px></i><i class=b style=left:1094px;top:300px></i><i class=b style=left:1095px;top:299px></i><i class=b style=left:1096px;top:298px></i><i class=b style=left:1097px;top:298px></i><i class=b style=left:1098px;top:297px></i><i class=b style=left:1099px;top:296px></i><i class=b style=left:1100px;top:296px></i><i class=b style=left:1101px;top:296px></i><i class=b style=left:1101px;top:294px></i><i class=b style=left:1103px;top:295px></i><i class=b style=left:1104px;top:294px></i><i class=b style=left:1104px;top:293px></i><i class=b style=left:1106px;top:292px></i><i class=b style=left:1107px;top:292px></i><i class=b style=left:1107px;top:293px></i><i class=b style=left:1108px;top:293px></i><i class=b style=left:1109px;top:293px></i><i class=b style=left:1111px;top:292px></i><i class=b style=left:1112px;top:292px></i><i class=b style=left:1114px;top:292px></i><i class=b style=left:1114px;top:291px></i><i class=b style=left:1116px;top:291px></i><i class=b style=left:1117px;top:291px></i><i class=b style=left:1118px;top:291px></i><i class=b style=left:1119px;top:290px></i><i class=b style=left:1121px;top:290px></i><i class=b style=left:1122px;top:289px></i><i class=b style=left:1123px;top:289px></i><i class=b style=left:1124px;top:288px></i><i class=b style=left:1125px;top:287px></i><i class=b style=left:1039px;top:336px></i><i class=b style=left:1042px;top:338px></i><i class=b style=left:1044px;top:339px></i><i class=b style=left:1051px;top:327px></i><i class=b style=left:1052px;top:327px></i><i class=b style=left:1054px;top:328px></i><i class=b style=left:1055px;top:328px></i><i class=b style=left:1058px;top:328px></i><i class=b style=left:1059px;top:328px></i><i class=b style=left:1061px;top:329px></i><i class=b style=left:1063px;top:329px></i><i class=b style=left:1064px;top:326px></i><i class=b style=left:1065px;top:325px></i><i class=b style=left:1066px;top:325px></i><i class=b style=left:1068px;top:324px></i><i class=b style=left:1069px;top:324px></i><i class=b style=left:1070px;top:323px></i><i class=b style=left:1071px;top:323px></i><i class=b style=left:1073px;top:323px></i><i class=b style=left:1074px;top:323px></i><i class=b style=left:1076px;top:322px></i><i class=b style=left:1077px;top:321px></i><i class=b style=left:1077px;top:321px></i><i class=b style=left:1079px;top:321px></i><i class=b style=left:1117px;top:288px></i><i class=b style=left:1118px;top:287px></i><i class=b style=left:1119px;top:286px></i><i class=b style=left:1121px;top:286px></i><i class=b style=left:1123px;top:285px></i><i class=b style=left:1124px;top:285px></i><i class=b style=left:1125px;top:284px></i><i class=b style=left:1127px;top:283px></i><i class=b style=left:1128px;top:283px></i><i class=b style=left:1128px;top:282px></i><i class=b style=left:1129px;top:281px></i><i class=b style=left:1130px;top:282px></i><i class=b style=left:1132px;top:281px></i><i class=b style=left:1133px;top:280px></i><i class=b style=left:1133px;top:280px></i><i class=b style=left:1135px;top:281px></i><i class=b style=left:1137px;top:279px></i><i class=b style=left:1137px;top:279px></i><i class=b style=left:1139px;top:278px></i><i class=b style=left:1140px;top:279px></i><i class=b style=left:1141px;top:279px></i><i class=b style=left:1142px;top:278px></i><i class=b style=left:1143px;top:277px></i><i class=b style=left:1145px;top:278px></i><i class=b style=left:1146px;top:276px></i><i class=b style=left:1147px;top:277px></i><i class=b style=left:1146px;top:273px></i><i class=b style=left:1177px;top:238px></i><i class=b style=left:1188px;top:236px></i><i class=b style=left:1201px;top:242px></i><i class=b style=left:1200px;top:241px></i><i class=b style=left:1151px;top:270px></i><i class=b style=left:1152px;top:270px></i><i class=b style=left:1153px;top:269px></i><i class=b style=left:1155px;top:269px></i><i class=b style=left:1156px;top:269px></i><i class=b style=left:1158px;top:269px></i><i class=b style=left:1160px;top:269px></i><i class=b style=left:1161px;top:269px></i><i class=b style=left:1161px;top:268px></i><i class=b style=left:1163px;top:268px></i><i class=b style=left:1165px;top:267px></i><i class=b style=left:1166px;top:267px></i><i class=b style=left:1168px;top:267px></i><i class=b style=left:1169px;top:260px></i><i class=b style=left:1171px;top:260px></i><i class=b style=left:1172px;top:261px></i><i class=b style=left:1174px;top:259px></i><i class=b style=left:1175px;top:259px></i><i class=b style=left:1177px;top:259px></i><i class=b style=left:1178px;top:259px></i><i class=b style=left:1179px;top:259px></i><i class=b style=left:1180px;top:259px></i><i class=b style=left:1188px;top:260px></i><i class=b style=left:1190px;top:259px></i><i class=b style=left:1191px;top:259px></i><i class=b style=left:1192px;top:260px></i><i class=b style=left:1194px;top:259px></i><i class=b style=left:1195px;top:260px></i><i class=b style=left:1197px;top:258px></i><i class=b style=left:1197px;top:258px></i><i class=b style=left:1198px;top:258px></i><i class=b style=left:1201px;top:258px></i><i class=b style=left:1202px;top:258px></i><i class=b style=left:1203px;top:258px></i><i class=b style=left:1204px;top:258px></i><i class=b style=left:1205px;top:258px></i><i class=b style=left:1207px;top:257px></i><i class=b style=left:1214px;top:255px></i><i class=b style=left:1215px;top:256px></i><i class=b style=left:1217px;top:254px></i><i class=b style=left:1218px;top:254px></i><i class=b style=left:1219px;top:255px></i><i class=b style=left:1221px;top:254px></i><i class=b style=left:1223px;top:254px></i><i class=b style=left:1224px;top:254px></i><i class=b style=left:1225px;top:254px></i><i class=b style=left:1226px;top:253px></i><i class=b style=left:1228px;top:253px></i><i class=b style=left:1229px;top:252px></i><i class=b style=left:1230px;top:253px></i><i class=b style=left:1232px;top:254px></i><i class=b style=left:1234px;top:252px></i><i class=b style=left:1235px;top:252px></i><i class=b style=left:1236px;top:252px></i><i class=b style=left:1237px;top:251px></i><i class=b style=left:1239px;top:251px></i><i class=b style=left:1241px;top:252px></i><i class=b style=left:1242px;top:251px></i><i class=b style=left:1243px;top:251px></i><i class=b style=left:1245px;top:250px></i><i class=b style=left:1246px;top:251px></i><i class=b style=left:1247px;top:250px></i><i class=b style=left:1249px;top:250px></i><i class=b style=left:1250px;top:250px></i><i class=b style=left:1252px;top:249px></i><i class=b style=left:1252px;top:250px></i><i class=b style=left:1254px;top:249px></i><i class=b style=left:1255px;top:250px></i><i class=b style=left:286px;top:293px></i><i class=b style=left:324px;top:459px></i><i class=b style=left:393px;top:411px></i><i class=b style=left:65px;top:625px></i><i class=b style=left:233px;top:717px></i><i class=b style=left:233px;top:719px></i><i class=b style=left:488px;top:831px></i><i class=b style=left:820px;top:705px></i><i class=b style=left:79px;top:108px></i><i class=b style=left:107px;top:137px></i><i class=b style=left:107px;top:138px></i><i class=b style=left:212px;top:159px></i><i class=b style=left:265px;top:152px></i><i class=b style=left:241px;top:203px></i><i class=b style=left:136px;top:217px></i><i class=b style=left:145px;top:233px></i><i class=b style=left:156px;top:230px></i><i class=b style=left:364px;top:220px></i><i class=b style=left:383px;top:221px></i><i class=b style=left:416px;top:57px></i><i class=b style=left:435px;top:138px></i><i class=b style=left:431px;top:161px></i><i class=b style=left:538px;top:53px></i><i class=b style=left:540px;top:42px></i><i class=b style=left:541px;top:198px></i><i class=b style=left:532px;top:215px></i><i class=b style=left:703px;top:66px></i><i class=b style=left:829px;top:40px></i><i class=b style=left:913px;top:72px></i><i class=b style=left:739px;top:171px></i><i class=b style=left:748px;top:188px></i><i class=b style=left:680px;top:194px></i><i class=b style=left:808px;top:186px></i><i class=b style=left:798px;top:193px></i><i class=b style=left:800px;top:193px></i><i class=b style=left:808px;top:193px></i><i class=b style=left:820px;top:197px></i><i class=b style=left:697px;top:210px></i><i class=b style=left:678px;top:219px></i><i class=b style=left:756px;top:224px></i><i class=b style=left:1058px;top:49px></i><i class=b style=left:1131px;top:165px></i><i class=b style=left:1238px;top:171px></i>
<i class=c style=left:68px;top:912px></i><i class=c style=left:83px;top:873px></i><i class=c style=left:94px;top:897px></i><i class=c style=left:96px;top:896px></i><i class=c style=left:98px;top:897px></i><i class=c style=left:86px;top:904px></i><i class=c style=left:88px;top:903px></i><i class=c style=left:107px;top:884px></i><i class=c style=left:121px;top:873px></i><i class=c style=left:123px;top:872px></i><i class=c style=left:129px;top:866px></i><i class=c style=left:133px;top:859px></i><i class=c style=left:136px;top:859px></i><i class=c style=left:139px;top:858px></i><i class=c style=left:149px;top:857px></i><i class=c style=left:154px;top:859px></i><i class=c style=left:164px;top:845px></i><i class=c style=left:175px;top:836px></i><i class=c style=left:192px;top:815px></i><i class=c style=left:192px;top:819px></i><i class=c style=left:197px;top:813px></i><i class=c style=left:200px;top:813px></i><i class=c style=left:203px;top:813px></i><i class=c style=left:206px;top:813px></i><i class=c style=left:209px;top:813px></i><i class=c style=left:210px;top:807px></i><i class=c style=left:216px;top:799px></i><i class=c style=left:221px;top:795px></i><i class=c style=left:223px;top:793px></i><i class=c style=left:229px;top:783px></i><i class=c style=left:232px;top:783px></i><i class=c style=left:235px;top:783px></i><i class=c style=left:229px;top:788px></i><i class=c style=left:232px;top:788px></i><i class=c style=left:235px;top:788px></i><i class=c style=left:235px;top:813px></i><i class=c style=left:238px;top:780px></i><i class=c style=left:242px;top:779px></i><i class=c style=left:245px;top:777px></i><i class=c style=left:248px;top:777px></i><i class=c style=left:251px;top:777px></i><i class=c style=left:254px;top:773px></i><i class=c style=left:256px;top:770px></i><i class=c style=left:257px;top:768px></i><i class=c style=left:259px;top:767px></i><i class=c style=left:262px;top:767px></i><i class=c style=left:265px;top:767px></i><i class=c style=left:268px;top:767px></i><i class=c style=left:271px;top:767px></i><i class=c style=left:274px;top:767px></i><i class=c style=left:281px;top:766px></i><i class=c style=left:277px;top:758px></i><i class=c style=left:279px;top:746px></i><i class=c style=left:281px;top:746px></i><i class=c style=left:283px;top:746px></i><i class=c style=left:285px;top:746px></i><i class=c style=left:280px;top:747px></i><i class=c style=left:282px;top:745px></i><i class=c style=left:284px;top:747px></i><i class=c style=left:282px;top:739px></i><i class=c style=left:286px;top:742px></i><i class=c style=left:294px;top:739px></i><i class=c style=left:297px;top:739px></i><i class=c style=left:294px;top:740px></i><i class=c style=left:297px;top:740px></i><i class=c style=left:301px;top:735px></i><i class=c style=left:304px;top:735px></i><i class=c style=left:306px;top:735px></i><i class=c style=left:317px;top:725px></i><i class=c style=left:326px;top:720px></i><i class=c style=left:332px;top:717px></i><i class=c style=left:335px;top:706px></i><i class=c style=left:338px;top:706px></i><i class=c style=left:341px;top:706px></i><i class=c style=left:344px;top:706px></i><i class=c style=left:347px;top:706px></i><i class=c style=left:348px;top:702px></i><i class=c style=left:353px;top:699px></i><i class=c style=left:356px;top:699px></i><i class=c style=left:359px;top:699px></i><i class=c style=left:365px;top:698px></i><i class=c style=left:364px;top:691px></i><i class=c style=left:367px;top:691px></i><i class=c style=left:370px;top:691px></i><i class=c style=left:373px;top:691px></i><i class=c style=left:376px;top:691px></i><i class=c style=left:376px;top:687px></i><i class=c style=left:377px;top:683px></i><i class=c style=left:380px;top:676px></i><i class=c style=left:386px;top:676px></i><i class=c style=left:386px;top:693px></i><i class=c style=left:393px;top:669px></i><i class=c style=left:396px;top:669px></i><i class=c style=left:399px;top:669px></i><i class=c style=left:402px;top:669px></i><i class=c style=left:405px;top:669px></i><i class=c style=left:401px;top:661px></i><i class=c style=left:401px;top:665px></i><i class=c style=left:408px;top:662px></i><i class=c style=left:411px;top:662px></i><i class=c style=left:414px;top:662px></i><i class=c style=left:417px;top:662px></i><i class=c style=left:420px;top:662px></i><i class=c style=left:435px;top:657px></i><i class=c style=left:435px;top:661px></i><i class=c style=left:437px;top:661px></i><i class=c style=left:449px;top:649px></i><i class=c style=left:454px;top:647px></i><i class=c style=left:461px;top:645px></i><i class=c style=left:465px;top:644px></i><i class=c style=left:475px;top:641px></i><i class=c style=left:480px;top:638px></i><i class=c style=left:492px;top:634px></i><i class=c style=left:519px;top:634px></i><i class=c style=left:531px;top:630px></i><i class=c style=left:537px;top:630px></i><i class=c style=left:546px;top:627px></i><i class=c style=left:550px;top:631px></i><i class=c style=left:553px;top:606px></i><i class=c style=left:556px;top:606px></i><i class=c style=left:559px;top:600px></i><i class=c style=left:561px;top:602px></i><i class=c style=left:563px;top:604px></i><i class=c style=left:566px;top:606px></i><i class=c style=left:569px;top:627px></i><i class=c style=left:572px;top:628px></i><i class=c style=left:575px;top:628px></i><i class=c style=left:578px;top:627px></i><i class=c style=left:580px;top:625px></i><i class=c style=left:583px;top:620px></i><i class=c style=left:585px;top:620px></i><i class=c style=left:600px;top:607px></i><i class=c style=left:602px;top:603px></i><i class=c style=left:605px;top:606px></i><i class=c style=left:608px;top:606px></i><i class=c style=left:615px;top:606px></i><i class=c style=left:618px;top:599px></i><i class=c style=left:622px;top:585px></i><i class=c style=left:634px;top:582px></i><i class=c style=left:637px;top:581px></i><i class=c style=left:640px;top:580px></i><i class=c style=left:643px;top:579px></i><i class=c style=left:653px;top:573px></i><i class=c style=left:658px;top:571px></i><i class=c style=left:660px;top:570px></i><i class=c style=left:662px;top:566px></i><i class=c style=left:674px;top:558px></i><i class=c style=left:678px;top:558px></i><i class=c style=left:682px;top:558px></i><i class=c style=left:686px;top:558px></i><i class=c style=left:690px;top:558px></i><i class=c style=left:694px;top:558px></i><i class=c style=left:688px;top:556px></i><i class=c style=left:691px;top:556px></i><i class=c style=left:694px;top:556px></i><i class=c style=left:699px;top:552px></i><i class=c style=left:714px;top:552px></i><i class=c style=left:721px;top:546px></i><i class=c style=left:727px;top:544px></i><i class=c style=left:727px;top:556px></i><i class=c style=left:729px;top:528px></i><i class=c style=left:734px;top:533px></i><i class=c style=left:737px;top:533px></i><i class=c style=left:742px;top:525px></i><i class=c style=left:745px;top:526px></i><i class=c style=left:743px;top:532px></i><i class=c style=left:750px;top:524px></i><i class=c style=left:752px;top:522px></i><i class=c style=left:740px;top:524px></i><i class=c style=left:748px;top:523px></i><i class=c style=left:752px;top:523px></i><i class=c style=left:758px;top:512px></i><i class=c style=left:763px;top:514px></i><i class=c style=left:768px;top:513px></i><i class=c style=left:774px;top:514px></i><i class=c style=left:781px;top:511px></i><i class=c style=left:784px;top:511px></i><i class=c style=left:790px;top:504px></i><i class=c style=left:799px;top:504px></i><i class=c style=left:804px;top:501px></i><i class=c style=left:811px;top:503px></i><i class=c style=left:815px;top:501px></i><i class=c style=left:817px;top:504px></i><i class=c style=left:822px;top:512px></i><i class=c style=left:825px;top:498px></i><i class=c style=left:828px;top:496px></i><i class=c style=left:834px;top:493px></i><i class=c style=left:837px;top:493px></i><i class=c style=left:840px;top:493px></i><i class=c style=left:843px;top:493px></i><i class=c style=left:849px;top:486px></i><i class=c style=left:856px;top:486px></i><i class=c style=left:858px;top:475px></i><i class=c style=left:864px;top:472px></i><i class=c style=left:875px;top:465px></i><i class=c style=left:879px;top:465px></i><i class=c style=left:883px;top:465px></i><i class=c style=left:885px;top:461px></i><i class=c style=left:890px;top:465px></i><i class=c style=left:897px;top:459px></i><i class=c style=left:899px;top:459px></i><i class=c style=left:921px;top:459px></i><i class=c style=left:926px;top:455px></i><i class=c style=left:929px;top:455px></i><i class=c style=left:932px;top:455px></i><i class=c style=left:935px;top:455px></i><i class=c style=left:941px;top:455px></i><i class=c style=left:953px;top:451px></i><i class=c style=left:963px;top:451px></i><i class=c style=left:967px;top:451px></i><i class=c style=left:972px;top:441px></i><i class=c style=left:972px;top:446px></i><i class=c style=left:978px;top:441px></i><i class=c style=left:982px;top:441px></i><i class=c style=left:986px;top:440px></i><i class=c style=left:990px;top:439px></i><i class=c style=left:992px;top:439px></i><i class=c style=left:987px;top:445px></i><i class=c style=left:997px;top:437px></i><i class=c style=left:1004px;top:434px></i><i class=c style=left:1007px;top:434px></i><i class=c style=left:1005px;top:441px></i><i class=c style=left:1005px;top:445px></i><i class=c style=left:1009px;top:431px></i><i class=c style=left:1012px;top:431px></i><i class=c style=left:1015px;top:432px></i><i class=c style=left:1018px;top:432px></i><i class=c style=left:1031px;top:416px></i><i class=c style=left:1035px;top:416px></i><i class=c style=left:1039px;top:416px></i><i class=c style=left:1044px;top:411px></i><i class=c style=left:1044px;top:416px></i><i class=c style=left:1051px;top:410px></i><i class=c style=left:1054px;top:406px></i><i class=c style=left:1058px;top:403px></i><i class=c style=left:1063px;top:401px></i><i class=c style=left:1067px;top:401px></i><i class=c style=left:1071px;top:401px></i><i class=c style=left:1074px;top:393px></i><i class=c style=left:1090px;top:382px></i><i class=c style=left:1095px;top:377px></i><i class=c style=left:1097px;top:372px></i><i class=c style=left:1099px;top:368px></i><i class=c style=left:1101px;top:364px></i><i class=c style=left:1098px;top:364px></i><i class=c style=left:1110px;top:358px></i><i class=c style=left:1124px;top:352px></i><i class=c style=left:1128px;top:352px></i><i class=c style=left:1142px;top:338px></i><i class=c style=left:1144px;top:338px></i><i class=c style=left:1146px;top:335px></i><i class=c style=left:1155px;top:335px></i><i class=c style=left:1162px;top:333px></i><i class=c style=left:1167px;top:334px></i><i class=c style=left:1176px;top:321px></i><i class=c style=left:1185px;top:319px></i><i class=c style=left:1191px;top:315px></i><i class=c style=left:1193px;top:311px></i><i class=c style=left:1197px;top:311px></i><i class=c style=left:1200px;top:308px></i><i class=c style=left:1196px;top:304px></i><i class=c style=left:1197px;top:300px></i><i class=c style=left:1204px;top:300px></i><i class=c style=left:1205px;top:295px></i><i class=c style=left:1209px;top:285px></i><i class=c style=left:1215px;top:283px></i><i class=c style=left:1219px;top:270px></i><i class=c style=left:1221px;top:268px></i><i class=c style=left:1221px;top:260px></i><i class=c style=left:1228px;top:251px></i><i class=c style=left:1242px;top:236px></i><i class=c style=left:1057px;top:401px></i><i class=c style=left:1061px;top:402px></i><i class=c style=left:1065px;top:402px></i><i class=c style=left:1069px;top:401px></i><i class=c style=left:281px;top:563px></i><i class=c style=left:64px;top:211px></i><i class=c style=left:492px;top:119px></i><i class=c style=left:492px;top:125px></i><i class=c style=left:951px;top:205px></i><i class=c style=left:1135px;top:219px></i><i class=c style=left:1111px;top:226px></i>
<i class=d style=left:65px;top:925px></i><i class=d style=left:66px;top:924px></i><i class=d style=left:67px;top:924px></i><i class=d style=left:69px;top:922px></i><i class=d style=left:70px;top:922px></i><i class=d style=left:72px;top:922px></i><i class=d style=left:73px;top:922px></i><i class=d style=left:73px;top:921px></i><i class=d style=left:75px;top:921px></i><i class=d style=left:76px;top:920px></i><i class=d style=left:77px;top:918px></i><i class=d style=left:78px;top:918px></i><i class=d style=left:80px;top:918px></i><i class=d style=left:81px;top:917px></i><i class=d style=left:82px;top:916px></i><i class=d style=left:84px;top:914px></i><i class=d style=left:84px;top:913px></i><i class=d style=left:86px;top:913px></i><i class=d style=left:87px;top:914px></i><i class=d style=left:87px;top:913px></i><i class=d style=left:89px;top:912px></i><i class=d style=left:91px;top:912px></i><i class=d style=left:92px;top:910px></i><i class=d style=left:92px;top:909px></i><i class=d style=left:93px;top:908px></i><i class=d style=left:95px;top:908px></i><i class=d style=left:97px;top:908px></i><i class=d style=left:97px;top:907px></i><i class=d style=left:99px;top:905px></i><i class=d style=left:101px;top:906px></i><i class=d style=left:102px;top:906px></i><i class=d style=left:103px;top:904px></i><i class=d style=left:103px;top:903px></i><i class=d style=left:105px;top:903px></i><i class=d style=left:105px;top:902px></i><i class=d style=left:107px;top:901px></i><i class=d style=left:108px;top:901px></i><i class=d style=left:111px;top:900px></i><i class=d style=left:111px;top:899px></i><i class=d style=left:112px;top:899px></i><i class=d style=left:114px;top:899px></i><i class=d style=left:113px;top:897px></i><i class=d style=left:115px;top:897px></i><i class=d style=left:116px;top:895px></i><i class=d style=left:118px;top:897px></i><i class=d style=left:119px;top:895px></i><i class=d style=left:120px;top:893px></i><i class=d style=left:121px;top:893px></i><i class=d style=left:123px;top:892px></i><i class=d style=left:124px;top:891px></i><i class=d style=left:124px;top:890px></i><i class=d style=left:125px;top:890px></i><i class=d style=left:127px;top:889px></i><i class=d style=left:127px;top:890px></i><i class=d style=left:128px;top:888px></i><i class=d style=left:131px;top:888px></i><i class=d style=left:132px;top:886px></i><i class=d style=left:133px;top:886px></i><i class=d style=left:148px;top:883px></i><i class=d style=left:150px;top:882px></i><i class=d style=left:155px;top:880px></i><i class=d style=left:157px;top:879px></i><i class=d style=left:160px;top:878px></i><i class=d style=left:162px;top:877px></i><i class=d style=left:163px;top:877px></i><i class=d style=left:164px;top:878px></i><i class=d style=left:166px;top:877px></i><i class=d style=left:167px;top:877px></i><i class=d style=left:169px;top:877px></i><i class=d style=left:170px;top:876px></i><i class=d style=left:170px;top:878px></i><i class=d style=left:171px;top:876px></i><i class=d style=left:172px;top:876px></i><i class=d style=left:174px;top:875px></i><i class=d style=left:175px;top:875px></i><i class=d style=left:177px;top:874px></i><i class=d style=left:179px;top:873px></i><i class=d style=left:180px;top:874px></i><i class=d style=left:180px;top:873px></i><i class=d style=left:182px;top:873px></i><i class=d style=left:183px;top:872px></i><i class=d style=left:184px;top:871px></i><i class=d style=left:185px;top:870px></i><i class=d style=left:186px;top:869px></i><i class=d style=left:187px;top:869px></i><i class=d style=left:189px;top:868px></i><i class=d style=left:189px;top:868px></i><i class=d style=left:190px;top:867px></i><i class=d style=left:192px;top:866px></i><i class=d style=left:194px;top:867px></i><i class=d style=left:195px;top:864px></i><i class=d style=left:197px;top:864px></i><i class=d style=left:199px;top:862px></i><i class=d style=left:200px;top:862px></i><i class=d style=left:200px;top:862px></i><i class=d style=left:202px;top:860px></i><i class=d style=left:203px;top:860px></i><i class=d style=left:204px;top:857px></i><i class=d style=left:206px;top:857px></i><i class=d style=left:207px;top:855px></i><i class=d style=left:208px;top:855px></i><i class=d style=left:211px;top:854px></i><i class=d style=left:214px;top:854px></i><i class=d style=left:217px;top:853px></i><i class=d style=left:217px;top:853px></i><i class=d style=left:220px;top:853px></i><i class=d style=left:222px;top:852px></i><i class=d style=left:227px;top:851px></i><i class=d style=left:139px;top:886px></i><i class=d style=left:218px;top:813px></i><i class=d style=left:228px;top:850px></i><i class=d style=left:229px;top:849px></i><i class=d style=left:230px;top:848px></i><i class=d style=left:232px;top:849px></i><i class=d style=left:232px;top:848px></i><i class=d style=left:235px;top:848px></i><i class=d style=left:236px;top:847px></i><i class=d style=left:237px;top:846px></i><i class=d style=left:239px;top:847px></i><i class=d style=left:239px;top:845px></i><i class=d style=left:241px;top:846px></i><i class=d style=left:242px;top:845px></i><i class=d style=left:243px;top:846px></i><i class=d style=left:242px;top:844px></i><i class=d style=left:244px;top:843px></i><i class=d style=left:245px;top:843px></i><i class=d style=left:247px;top:842px></i><i class=d style=left:248px;top:841px></i><i class=d style=left:249px;top:840px></i><i class=d style=left:250px;top:840px></i><i class=d style=left:251px;top:839px></i><i class=d style=left:252px;top:839px></i><i class=d style=left:253px;top:838px></i><i class=d style=left:255px;top:838px></i><i class=d style=left:255px;top:837px></i><i class=d style=left:256px;top:835px></i><i class=d style=left:257px;top:835px></i><i class=d style=left:258px;top:834px></i><i class=d style=left:260px;top:833px></i><i class=d style=left:261px;top:833px></i><i class=d style=left:262px;top:832px></i><i class=d style=left:262px;top:832px></i><i class=d style=left:263px;top:831px></i><i class=d style=left:264px;top:830px></i><i class=d style=left:265px;top:829px></i><i class=d style=left:266px;top:829px></i><i class=d style=left:266px;top:828px></i><i class=d style=left:267px;top:827px></i><i class=d style=left:268px;top:826px></i><i class=d style=left:269px;top:825px></i><i class=d style=left:271px;top:825px></i><i class=d style=left:271px;top:824px></i><i class=d style=left:273px;top:823px></i><i class=d style=left:272px;top:822px></i><i class=d style=left:273px;top:821px></i><i class=d style=left:274px;top:818px></i><i class=d style=left:276px;top:818px></i><i class=d style=left:277px;top:816px></i><i class=d style=left:278px;top:817px></i><i class=d style=left:280px;top:817px></i><i class=d style=left:282px;top:816px></i><i class=d style=left:282px;top:816px></i><i class=d style=left:284px;top:815px></i><i class=d style=left:286px;top:815px></i><i class=d style=left:287px;top:815px></i><i class=d style=left:288px;top:815px></i><i class=d style=left:290px;top:814px></i><i class=d style=left:286px;top:804px></i><i class=d style=left:293px;top:805px></i><i class=d style=left:296px;top:812px></i><i class=d style=left:286px;top:804px></i><i class=d style=left:292px;top:806px></i><i class=d style=left:296px;top:813px></i><i class=d style=left:297px;top:802px></i><i class=d style=left:298px;top:802px></i><i class=d style=left:299px;top:802px></i><i class=d style=left:301px;top:802px></i><i class=d style=left:303px;top:801px></i><i class=d style=left:304px;top:800px></i><i class=d style=left:305px;top:800px></i><i class=d style=left:307px;top:799px></i><i class=d style=left:308px;top:799px></i><i class=d style=left:310px;top:798px></i><i class=d style=left:311px;top:798px></i><i class=d style=left:309px;top:793px></i><i class=d style=left:310px;top:792px></i><i class=d style=left:312px;top:793px></i><i class=d style=left:313px;top:794px></i><i class=d style=left:314px;top:794px></i><i class=d style=left:317px;top:793px></i><i class=d style=left:318px;top:794px></i><i class=d style=left:319px;top:795px></i><i class=d style=left:320px;top:796px></i><i class=d style=left:322px;top:794px></i><i class=d style=left:323px;top:796px></i><i class=d style=left:308px;top:783px></i><i class=d style=left:323px;top:784px></i><i class=d style=left:324px;top:783px></i><i class=d style=left:327px;top:777px></i><i class=d style=left:325px;top:776px></i><i class=d style=left:328px;top:776px></i><i class=d style=left:331px;top:776px></i><i class=d style=left:329px;top:766px></i><i class=d style=left:332px;top:767px></i><i class=d style=left:335px;top:768px></i><i class=d style=left:338px;top:768px></i><i class=d style=left:334px;top:766px></i><i class=d style=left:342px;top:764px></i><i class=d style=left:343px;top:763px></i><i class=d style=left:344px;top:762px></i><i class=d style=left:345px;top:763px></i><i class=d style=left:347px;top:763px></i><i class=d style=left:348px;top:762px></i><i class=d style=left:349px;top:762px></i><i class=d style=left:349px;top:760px></i><i class=d style=left:349px;top:759px></i><i class=d style=left:351px;top:759px></i><i class=d style=left:352px;top:759px></i><i class=d style=left:353px;top:758px></i><i class=d style=left:353px;top:758px></i><i class=d style=left:354px;top:757px></i><i class=d style=left:355px;top:757px></i><i class=d style=left:356px;top:758px></i><i class=d style=left:357px;top:757px></i><i class=d style=left:358px;top:755px></i><i class=d style=left:359px;top:755px></i><i class=d style=left:360px;top:754px></i><i class=d style=left:361px;top:754px></i><i class=d style=left:362px;top:754px></i><i class=d style=left:362px;top:755px></i><i class=d style=left:363px;top:754px></i><i class=d style=left:364px;top:754px></i><i class=d style=left:365px;top:753px></i><i class=d style=left:366px;top:752px></i><i class=d style=left:367px;top:752px></i><i class=d style=left:367px;top:750px></i><i class=d style=left:369px;top:752px></i><i class=d style=left:370px;top:751px></i><i class=d style=left:371px;top:751px></i><i class=d style=left:372px;top:750px></i><i class=d style=left:372px;top:750px></i><i class=d style=left:372px;top:749px></i><i class=d style=left:374px;top:750px></i><i class=d style=left:375px;top:748px></i><i class=d style=left:376px;top:748px></i><i class=d style=left:377px;top:747px></i><i class=d style=left:378px;top:748px></i><i class=d style=left:379px;top:747px></i><i class=d style=left:380px;top:747px></i><i class=d style=left:384px;top:740px></i><i class=d style=left:386px;top:741px></i><i class=d style=left:386px;top:740px></i><i class=d style=left:388px;top:740px></i><i class=d style=left:389px;top:740px></i><i class=d style=left:391px;top:738px></i><i class=d style=left:392px;top:738px></i><i class=d style=left:393px;top:737px></i><i class=d style=left:394px;top:737px></i><i class=d style=left:395px;top:736px></i><i class=d style=left:397px;top:736px></i><i class=d style=left:397px;top:737px></i><i class=d style=left:398px;top:736px></i><i class=d style=left:399px;top:735px></i><i class=d style=left:400px;top:734px></i><i class=d style=left:402px;top:733px></i><i class=d style=left:403px;top:733px></i><i class=d style=left:404px;top:732px></i><i class=d style=left:406px;top:732px></i><i class=d style=left:406px;top:731px></i><i class=d style=left:408px;top:731px></i><i class=d style=left:409px;top:730px></i><i class=d style=left:409px;top:728px></i><i class=d style=left:410px;top:727px></i><i class=d style=left:411px;top:727px></i><i class=d style=left:413px;top:726px></i><i class=d style=left:414px;top:726px></i><i class=d style=left:415px;top:726px></i><i class=d style=left:416px;top:725px></i><i class=d style=left:417px;top:725px></i><i class=d style=left:418px;top:724px></i><i class=d style=left:420px;top:724px></i><i class=d style=left:420px;top:723px></i><i class=d style=left:422px;top:723px></i><i class=d style=left:423px;top:722px></i><i class=d style=left:423px;top:722px></i><i class=d style=left:423px;top:721px></i><i class=d style=left:425px;top:721px></i><i class=d style=left:426px;top:720px></i><i class=d style=left:428px;top:720px></i><i class=d style=left:429px;top:719px></i><i class=d style=left:429px;top:719px></i><i class=d style=left:432px;top:718px></i><i class=d style=left:432px;top:718px></i><i class=d style=left:433px;top:717px></i><i class=d style=left:435px;top:716px></i><i class=d style=left:435px;top:715px></i><i class=d style=left:438px;top:716px></i><i class=d style=left:438px;top:715px></i><i class=d style=left:439px;top:714px></i><i class=d style=left:448px;top:709px></i><i class=d style=left:454px;top:712px></i><i class=d style=left:451px;top:711px></i><i class=d style=left:459px;top:707px></i><i class=d style=left:462px;top:706px></i><i class=d style=left:465px;top:705px></i><i class=d style=left:488px;top:686px></i><i class=d style=left:517px;top:668px></i><i class=d style=left:471px;top:702px></i><i class=d style=left:473px;top:701px></i><i class=d style=left:475px;top:700px></i><i class=d style=left:476px;top:700px></i><i class=d style=left:478px;top:699px></i><i class=d style=left:480px;top:698px></i><i class=d style=left:484px;top:696px></i><i class=d style=left:485px;top:695px></i><i class=d style=left:487px;top:695px></i><i class=d style=left:490px;top:695px></i><i class=d style=left:492px;top:693px></i><i class=d style=left:494px;top:693px></i><i class=d style=left:488px;top:685px></i><i class=d style=left:492px;top:693px></i><i class=d style=left:520px;top:668px></i><i class=d style=left:521px;top:667px></i><i class=d style=left:519px;top:669px></i><i class=d style=left:526px;top:659px></i><i class=d style=left:532px;top:660px></i><i class=d style=left:529px;top:658px></i><i class=d style=left:525px;top:674px></i><i class=d style=left:530px;top:676px></i><i class=d style=left:528px;top:675px></i><i class=d style=left:523px;top:683px></i><i class=d style=left:525px;top:684px></i><i class=d style=left:524px;top:682px></i><i class=d style=left:527px;top:685px></i><i class=d style=left:522px;top:681px></i><i class=d style=left:526px;top:683px></i><i class=d style=left:538px;top:651px></i><i class=d style=left:540px;top:652px></i><i class=d style=left:542px;top:651px></i><i class=d style=left:541px;top:650px></i><i class=d style=left:549px;top:598px></i><i class=d style=left:568px;top:650px></i><i class=d style=left:569px;top:649px></i><i class=d style=left:570px;top:649px></i><i class=d style=left:572px;top:648px></i><i class=d style=left:573px;top:647px></i><i class=d style=left:574px;top:647px></i><i class=d style=left:576px;top:646px></i><i class=d style=left:577px;top:645px></i><i class=d style=left:578px;top:645px></i><i class=d style=left:578px;top:643px></i><i class=d style=left:579px;top:643px></i><i class=d style=left:581px;top:643px></i><i class=d style=left:582px;top:641px></i><i class=d style=left:583px;top:642px></i><i class=d style=left:584px;top:640px></i><i class=d style=left:586px;top:640px></i><i class=d style=left:587px;top:638px></i><i class=d style=left:570px;top:676px></i><i class=d style=left:602px;top:626px></i><i class=d style=left:605px;top:628px></i><i class=d style=left:604px;top:627px></i><i class=d style=left:616px;top:623px></i><i class=d style=left:618px;top:623px></i><i class=d style=left:620px;top:622px></i><i class=d style=left:626px;top:612px></i><i class=d style=left:629px;top:613px></i><i class=d style=left:631px;top:612px></i><i class=d style=left:628px;top:606px></i><i class=d style=left:628px;top:611px></i><i class=d style=left:630px;top:611px></i><i class=d style=left:631px;top:598px></i><i class=d style=left:632px;top:599px></i><i class=d style=left:633px;top:597px></i><i class=d style=left:634px;top:597px></i><i class=d style=left:635px;top:596px></i><i class=d style=left:636px;top:596px></i><i class=d style=left:637px;top:595px></i><i class=d style=left:638px;top:594px></i><i class=d style=left:640px;top:595px></i><i class=d style=left:640px;top:593px></i><i class=d style=left:641px;top:592px></i><i class=d style=left:642px;top:593px></i><i class=d style=left:643px;top:593px></i><i class=d style=left:644px;top:592px></i><i class=d style=left:645px;top:592px></i><i class=d style=left:646px;top:592px></i><i class=d style=left:647px;top:591px></i><i class=d style=left:647px;top:591px></i><i class=d style=left:647px;top:590px></i><i class=d style=left:649px;top:590px></i><i class=d style=left:650px;top:589px></i><i class=d style=left:651px;top:589px></i><i class=d style=left:651px;top:588px></i><i class=d style=left:653px;top:589px></i><i class=d style=left:654px;top:587px></i><i class=d style=left:655px;top:588px></i><i class=d style=left:656px;top:587px></i><i class=d style=left:656px;top:586px></i><i class=d style=left:658px;top:585px></i><i class=d style=left:659px;top:585px></i><i class=d style=left:659px;top:585px></i><i class=d style=left:660px;top:584px></i><i class=d style=left:661px;top:583px></i><i class=d style=left:662px;top:583px></i><i class=d style=left:664px;top:583px></i><i class=d style=left:664px;top:583px></i><i class=d style=left:666px;top:582px></i><i class=d style=left:665px;top:581px></i><i class=d style=left:667px;top:582px></i><i class=d style=left:667px;top:581px></i><i class=d style=left:668px;top:580px></i><i class=d style=left:669px;top:580px></i><i class=d style=left:670px;top:579px></i><i class=d style=left:670px;top:578px></i><i class=d style=left:672px;top:578px></i><i class=d style=left:674px;top:578px></i><i class=d style=left:675px;top:578px></i><i class=d style=left:676px;top:577px></i><i class=d style=left:676px;top:576px></i><i class=d style=left:676px;top:575px></i><i class=d style=left:679px;top:576px></i><i class=d style=left:679px;top:575px></i><i class=d style=left:680px;top:574px></i><i class=d style=left:681px;top:573px></i><i class=d style=left:682px;top:573px></i><i class=d style=left:683px;top:573px></i><i class=d style=left:684px;top:573px></i><i class=d style=left:685px;top:572px></i><i class=d style=left:685px;top:572px></i><i class=d style=left:686px;top:571px></i><i class=d style=left:687px;top:570px></i><i class=d style=left:688px;top:570px></i><i class=d style=left:688px;top:569px></i><i class=d style=left:690px;top:569px></i><i class=d style=left:690px;top:568px></i><i class=d style=left:691px;top:569px></i><i class=d style=left:692px;top:567px></i><i class=d style=left:694px;top:575px></i><i class=d style=left:702px;top:560px></i><i class=d style=left:704px;top:560px></i><i class=d style=left:706px;top:561px></i><i class=d style=left:713px;top:561px></i><i class=d style=left:688px;top:568px></i><i class=d style=left:690px;top:571px></i><i class=d style=left:692px;top:574px></i><i class=d style=left:694px;top:575px></i><i class=d style=left:689px;top:570px></i><i class=d style=left:702px;top:558px></i><i class=d style=left:704px;top:559px></i><i class=d style=left:707px;top:558px></i><i class=d style=left:707px;top:554px></i><i class=d style=left:705px;top:557px></i><i class=d style=left:713px;top:549px></i><i class=d style=left:714px;top:549px></i><i class=d style=left:716px;top:549px></i><i class=d style=left:716px;top:548px></i><i class=d style=left:717px;top:548px></i><i class=d style=left:719px;top:548px></i><i class=d style=left:720px;top:548px></i><i class=d style=left:722px;top:547px></i><i class=d style=left:723px;top:546px></i><i class=d style=left:724px;top:546px></i><i class=d style=left:727px;top:541px></i><i class=d style=left:730px;top:539px></i><i class=d style=left:732px;top:538px></i><i class=d style=left:734px;top:538px></i><i class=d style=left:736px;top:537px></i><i class=d style=left:742px;top:530px></i><i class=d style=left:744px;top:531px></i><i class=d style=left:746px;top:530px></i><i class=d style=left:743px;top:532px></i><i class=d style=left:753px;top:534px></i><i class=d style=left:756px;top:533px></i><i class=d style=left:758px;top:534px></i><i class=d style=left:758px;top:523px></i><i class=d style=left:761px;top:522px></i><i class=d style=left:764px;top:522px></i><i class=d style=left:760px;top:521px></i><i class=d style=left:763px;top:519px></i><i class=d style=left:775px;top:520px></i><i class=d style=left:776px;top:520px></i><i class=d style=left:756px;top:548px></i><i class=d style=left:757px;top:548px></i><i class=d style=left:765px;top:512px></i><i class=d style=left:767px;top:511px></i><i class=d style=left:769px;top:510px></i><i class=d style=left:770px;top:510px></i><i class=d style=left:772px;top:509px></i><i class=d style=left:775px;top:510px></i><i class=d style=left:776px;top:509px></i><i class=d style=left:786px;top:502px></i><i class=d style=left:791px;top:497px></i><i class=d style=left:790px;top:507px></i><i class=d style=left:788px;top:500px></i><i class=d style=left:776px;top:520px></i><i class=d style=left:800px;top:506px></i><i class=d style=left:801px;top:506px></i><i class=d style=left:803px;top:506px></i><i class=d style=left:805px;top:505px></i><i class=d style=left:806px;top:505px></i><i class=d style=left:808px;top:506px></i><i class=d style=left:815px;top:494px></i><i class=d style=left:814px;top:493px></i><i class=d style=left:810px;top:493px></i><i class=d style=left:813px;top:494px></i><i class=d style=left:816px;top:491px></i><i class=d style=left:817px;top:493px></i><i class=d style=left:812px;top:491px></i><i class=d style=left:820px;top:494px></i><i class=d style=left:819px;top:493px></i><i class=d style=left:815px;top:496px></i><i class=d style=left:808px;top:492px></i><i class=d style=left:812px;top:492px></i><i class=d style=left:813px;top:490px></i><i class=d style=left:817px;top:496px></i><i class=d style=left:810px;top:491px></i><i class=d style=left:812px;top:495px></i><i class=d style=left:827px;top:483px></i><i class=d style=left:829px;top:483px></i><i class=d style=left:831px;top:483px></i><i class=d style=left:832px;top:482px></i><i class=d style=left:834px;top:482px></i><i class=d style=left:835px;top:482px></i><i class=d style=left:836px;top:482px></i><i class=d style=left:838px;top:483px></i><i class=d style=left:839px;top:482px></i><i class=d style=left:838px;top:477px></i><i class=d style=left:839px;top:476px></i><i class=d style=left:841px;top:476px></i><i class=d style=left:842px;top:475px></i><i class=d style=left:843px;top:475px></i><i class=d style=left:844px;top:475px></i><i class=d style=left:845px;top:474px></i><i class=d style=left:847px;top:473px></i><i class=d style=left:848px;top:472px></i><i class=d style=left:849px;top:473px></i><i class=d style=left:851px;top:472px></i><i class=d style=left:852px;top:472px></i><i class=d style=left:853px;top:471px></i><i class=d style=left:857px;top:470px></i><i class=d style=left:858px;top:470px></i><i class=d style=left:859px;top:469px></i><i class=d style=left:860px;top:468px></i><i class=d style=left:862px;top:468px></i><i class=d style=left:863px;top:467px></i><i class=d style=left:863px;top:467px></i><i class=d style=left:864px;top:466px></i><i class=d style=left:866px;top:466px></i><i class=d style=left:867px;top:466px></i><i class=d style=left:869px;top:466px></i><i class=d style=left:869px;top:464px></i><i class=d style=left:871px;top:465px></i><i class=d style=left:871px;top:463px></i><i class=d style=left:873px;top:463px></i><i class=d style=left:873px;top:462px></i><i class=d style=left:875px;top:462px></i><i class=d style=left:859px;top:503px></i><i class=d style=left:858px;top:504px></i><i class=d style=left:884px;top:451px></i><i class=d style=left:883px;top:455px></i><i class=d style=left:885px;top:453px></i><i class=d style=left:887px;top:459px></i><i class=d style=left:889px;top:459px></i><i class=d style=left:890px;top:458px></i><i class=d style=left:892px;top:459px></i><i class=d style=left:893px;top:458px></i><i class=d style=left:894px;top:458px></i><i class=d style=left:896px;top:458px></i><i class=d style=left:892px;top:450px></i><i class=d style=left:893px;top:450px></i><i class=d style=left:895px;top:449px></i><i class=d style=left:896px;top:449px></i><i class=d style=left:897px;top:449px></i><i class=d style=left:898px;top:449px></i><i class=d style=left:900px;top:448px></i><i class=d style=left:900px;top:447px></i><i class=d style=left:901px;top:447px></i><i class=d style=left:902px;top:447px></i><i class=d style=left:904px;top:446px></i><i class=d style=left:905px;top:446px></i><i class=d style=left:907px;top:438px></i><i class=d style=left:912px;top:445px></i><i class=d style=left:915px;top:432px></i><i class=d style=left:916px;top:433px></i><i class=d style=left:914px;top:432px></i><i class=d style=left:921px;top:440px></i><i class=d style=left:922px;top:441px></i><i class=d style=left:926px;top:427px></i><i class=d style=left:927px;top:427px></i><i class=d style=left:928px;top:427px></i><i class=d style=left:930px;top:427px></i><i class=d style=left:931px;top:427px></i><i class=d style=left:932px;top:427px></i><i class=d style=left:933px;top:427px></i><i class=d style=left:935px;top:427px></i><i class=d style=left:936px;top:427px></i><i class=d style=left:939px;top:424px></i><i class=d style=left:940px;top:424px></i><i class=d style=left:941px;top:423px></i><i class=d style=left:942px;top:423px></i><i class=d style=left:944px;top:422px></i><i class=d style=left:945px;top:422px></i><i class=d style=left:946px;top:422px></i><i class=d style=left:947px;top:421px></i><i class=d style=left:948px;top:422px></i><i class=d style=left:949px;top:421px></i><i class=d style=left:950px;top:420px></i><i class=d style=left:952px;top:419px></i><i class=d style=left:953px;top:420px></i><i class=d style=left:954px;top:419px></i><i class=d style=left:957px;top:406px></i><i class=d style=left:939px;top:426px></i><i class=d style=left:939px;top:424px></i><i class=d style=left:941px;top:424px></i><i class=d style=left:941px;top:423px></i><i class=d style=left:943px;top:423px></i><i class=d style=left:944px;top:423px></i><i class=d style=left:945px;top:422px></i><i class=d style=left:946px;top:421px></i><i class=d style=left:948px;top:421px></i><i class=d style=left:948px;top:420px></i><i class=d style=left:950px;top:420px></i><i class=d style=left:952px;top:420px></i><i class=d style=left:952px;top:420px></i><i class=d style=left:954px;top:419px></i><i class=d style=left:955px;top:418px></i><i class=d style=left:956px;top:418px></i><i class=d style=left:957px;top:418px></i><i class=d style=left:958px;top:416px></i><i class=d style=left:959px;top:415px></i><i class=d style=left:961px;top:415px></i><i class=d style=left:963px;top:414px></i><i class=d style=left:964px;top:414px></i><i class=d style=left:967px;top:414px></i><i class=d style=left:968px;top:413px></i><i class=d style=left:959px;top:406px></i><i class=d style=left:970px;top:406px></i><i class=d style=left:971px;top:405px></i><i class=d style=left:972px;top:404px></i><i class=d style=left:973px;top:404px></i><i class=d style=left:974px;top:404px></i><i class=d style=left:975px;top:402px></i><i class=d style=left:976px;top:402px></i><i class=d style=left:977px;top:401px></i><i class=d style=left:979px;top:400px></i><i class=d style=left:979px;top:399px></i><i class=d style=left:980px;top:400px></i><i class=d style=left:982px;top:398px></i><i class=d style=left:983px;top:398px></i><i class=d style=left:984px;top:397px></i><i class=d style=left:985px;top:396px></i><i class=d style=left:986px;top:395px></i><i class=d style=left:987px;top:395px></i><i class=d style=left:988px;top:394px></i><i class=d style=left:990px;top:394px></i><i class=d style=left:992px;top:394px></i><i class=d style=left:994px;top:394px></i><i class=d style=left:1004px;top:390px></i><i class=d style=left:1005px;top:390px></i><i class=d style=left:1013px;top:382px></i><i class=d style=left:1014px;top:383px></i><i class=d style=left:1014px;top:384px></i><i class=d style=left:1017px;top:382px></i><i class=d style=left:1014px;top:382px></i><i class=d style=left:1013px;top:378px></i><i class=d style=left:1018px;top:383px></i><i class=d style=left:1017px;top:383px></i><i class=d style=left:1015px;top:384px></i><i class=d style=left:1014px;top:384px></i><i class=d style=left:1010px;top:380px></i><i class=d style=left:1015px;top:383px></i><i class=d style=left:1014px;top:383px></i><i class=d style=left:1013px;top:382px></i><i class=d style=left:1020px;top:378px></i><i class=d style=left:1021px;top:378px></i><i class=d style=left:1022px;top:377px></i><i class=d style=left:1024px;top:377px></i><i class=d style=left:1025px;top:377px></i><i class=d style=left:1026px;top:376px></i><i class=d style=left:1028px;top:376px></i><i class=d style=left:1029px;top:375px></i><i class=d style=left:1030px;top:375px></i><i class=d style=left:1031px;top:375px></i><i class=d style=left:1032px;top:375px></i><i class=d style=left:1034px;top:374px></i><i class=d style=left:1035px;top:373px></i><i class=d style=left:1036px;top:372px></i><i class=d style=left:1038px;top:374px></i><i class=d style=left:1039px;top:372px></i><i class=d style=left:1025px;top:359px></i><i class=d style=left:1047px;top:362px></i><i class=d style=left:1048px;top:362px></i><i class=d style=left:1046px;top:364px></i><i class=d style=left:1043px;top:362px></i><i class=d style=left:1048px;top:362px></i><i class=d style=left:1046px;top:363px></i><i class=d style=left:1043px;top:364px></i><i class=d style=left:1044px;top:365px></i><i class=d style=left:1047px;top:363px></i><i class=d style=left:1040px;top:364px></i><i class=d style=left:1049px;top:362px></i><i class=d style=left:1048px;top:363px></i><i class=d style=left:1043px;top:363px></i><i class=d style=left:1048px;top:365px></i><i class=d style=left:1049px;top:362px></i><i class=d style=left:1049px;top:361px></i><i class=d style=left:1050px;top:357px></i><i class=d style=left:1052px;top:358px></i><i class=d style=left:1053px;top:357px></i><i class=d style=left:1054px;top:356px></i><i class=d style=left:1055px;top:356px></i><i class=d style=left:1058px;top:356px></i><i class=d style=left:1059px;top:356px></i><i class=d style=left:1060px;top:355px></i><i class=d style=left:1061px;top:354px></i><i class=d style=left:1063px;top:354px></i><i class=d style=left:1065px;top:353px></i><i class=d style=left:1085px;top:346px></i><i class=d style=left:1085px;top:349px></i><i class=d style=left:1083px;top:346px></i><i class=d style=left:1089px;top:347px></i><i class=d style=left:1086px;top:347px></i><i class=d style=left:1083px;top:346px></i><i class=d style=left:1087px;top:349px></i><i class=d style=left:1087px;top:346px></i><i class=d style=left:1090px;top:346px></i><i class=d style=left:1089px;top:345px></i><i class=d style=left:1089px;top:347px></i><i class=d style=left:1090px;top:349px></i><i class=d style=left:1087px;top:346px></i><i class=d style=left:1087px;top:350px></i><i class=d style=left:1086px;top:345px></i><i class=d style=left:1084px;top:348px></i><i class=d style=left:1093px;top:353px></i><i class=d style=left:1094px;top:338px></i><i class=d style=left:1095px;top:343px></i><i class=d style=left:1096px;top:343px></i><i class=d style=left:1098px;top:342px></i><i class=d style=left:1099px;top:342px></i><i class=d style=left:1102px;top:341px></i><i class=d style=left:1103px;top:340px></i><i class=d style=left:1104px;top:340px></i><i class=d style=left:1107px;top:335px></i><i class=d style=left:1108px;top:334px></i><i class=d style=left:1109px;top:333px></i><i class=d style=left:1110px;top:333px></i><i class=d style=left:1112px;top:333px></i><i class=d style=left:1112px;top:333px></i><i class=d style=left:1114px;top:332px></i><i class=d style=left:1115px;top:332px></i><i class=d style=left:1116px;top:331px></i><i class=d style=left:1117px;top:331px></i><i class=d style=left:1119px;top:330px></i><i class=d style=left:1120px;top:329px></i><i class=d style=left:1120px;top:329px></i><i class=d style=left:1121px;top:328px></i><i class=d style=left:1123px;top:329px></i><i class=d style=left:1124px;top:327px></i><i class=d style=left:1125px;top:327px></i><i class=d style=left:1126px;top:326px></i><i class=d style=left:1127px;top:326px></i><i class=d style=left:1129px;top:326px></i><i class=d style=left:1129px;top:325px></i><i class=d style=left:1130px;top:324px></i><i class=d style=left:1131px;top:324px></i><i class=d style=left:1133px;top:323px></i><i class=d style=left:1133px;top:322px></i><i class=d style=left:1134px;top:322px></i><i class=d style=left:1136px;top:322px></i><i class=d style=left:1137px;top:322px></i><i class=d style=left:1135px;top:308px></i><i class=d style=left:1136px;top:309px></i><i class=d style=left:1137px;top:307px></i><i class=d style=left:1138px;top:307px></i><i class=d style=left:1140px;top:307px></i><i class=d style=left:1141px;top:306px></i><i class=d style=left:1141px;top:306px></i><i class=d style=left:1143px;top:305px></i><i class=d style=left:1144px;top:305px></i><i class=d style=left:1145px;top:305px></i><i class=d style=left:1146px;top:304px></i><i class=d style=left:1147px;top:304px></i><i class=d style=left:1149px;top:304px></i><i class=d style=left:1150px;top:303px></i><i class=d style=left:1151px;top:302px></i><i class=d style=left:1153px;top:303px></i><i class=d style=left:1153px;top:301px></i><i class=d style=left:1154px;top:302px></i><i class=d style=left:1156px;top:301px></i><i class=d style=left:1157px;top:300px></i><i class=d style=left:1158px;top:301px></i><i class=d style=left:1159px;top:300px></i><i class=d style=left:1161px;top:294px></i><i class=d style=left:1163px;top:294px></i><i class=d style=left:1164px;top:292px></i><i class=d style=left:1165px;top:293px></i><i class=d style=left:1167px;top:291px></i><i class=d style=left:1168px;top:292px></i><i class=d style=left:1170px;top:291px></i><i class=d style=left:1171px;top:291px></i><i class=d style=left:1173px;top:290px></i><i class=d style=left:1175px;top:296px></i><i class=d style=left:1174px;top:298px></i><i class=d style=left:1175px;top:297px></i><i class=d style=left:1176px;top:297px></i><i class=d style=left:1178px;top:297px></i><i class=d style=left:1179px;top:297px></i><i class=d style=left:1180px;top:296px></i><i class=d style=left:1181px;top:296px></i><i class=d style=left:1187px;top:273px></i><i class=d style=left:1188px;top:274px></i><i class=d style=left:1193px;top:281px></i><i class=d style=left:1195px;top:282px></i><i class=d style=left:1190px;top:284px></i><i class=d style=left:1190px;top:284px></i><i class=d style=left:1194px;top:282px></i><i class=d style=left:1190px;top:284px></i><i class=d style=left:1194px;top:284px></i><i class=d style=left:1198px;top:283px></i><i class=d style=left:1191px;top:283px></i><i class=d style=left:1191px;top:284px></i><i class=d style=left:1194px;top:284px></i><i class=d style=left:1198px;top:283px></i><i class=d style=left:1189px;top:281px></i><i class=d style=left:1188px;top:281px></i><i class=d style=left:1195px;top:277px></i><i class=d style=left:1196px;top:277px></i><i class=d style=left:1198px;top:276px></i><i class=d style=left:1198px;top:275px></i><i class=d style=left:1199px;top:275px></i><i class=d style=left:1201px;top:274px></i><i class=d style=left:1202px;top:275px></i><i class=d style=left:1203px;top:274px></i><i class=d style=left:1205px;top:273px></i><i class=d style=left:1206px;top:273px></i><i class=d style=left:1207px;top:272px></i><i class=d style=left:1207px;top:267px></i><i class=d style=left:1208px;top:267px></i><i class=d style=left:1209px;top:266px></i><i class=d style=left:1211px;top:266px></i><i class=d style=left:1211px;top:265px></i><i class=d style=left:1213px;top:265px></i><i class=d style=left:1214px;top:264px></i><i class=d style=left:1215px;top:263px></i><i class=d style=left:1216px;top:262px></i><i class=d style=left:1180px;top:259px></i><i class=d style=left:1182px;top:260px></i><i class=d style=left:1183px;top:261px></i><i class=d style=left:1185px;top:262px></i><i class=d style=left:1186px;top:262px></i><i class=d style=left:1188px;top:262px></i><i class=d style=left:1066px;top:270px></i><i class=d style=left:1067px;top:270px></i><i class=d style=left:1066px;top:271px></i><i class=d style=left:1221px;top:360px></i><i class=d style=left:1233px;top:236px></i><i class=d style=left:1235px;top:237px></i><i class=d style=left:1237px;top:238px></i><i class=d style=left:1244px;top:242px></i><i class=d style=left:1248px;top:244px></i><i class=d style=left:1252px;top:245px></i><i class=d style=left:1081px;top:439px></i><i class=d style=left:1083px;top:439px></i><i class=d style=left:1000px;top:468px></i><i class=d style=left:170px;top:443px></i><i class=d style=left:171px;top:443px></i><i class=d style=left:170px;top:444px></i><i class=d style=left:169px;top:443px></i><i class=d style=left:172px;top:444px></i><i class=d style=left:179px;top:442px></i><i class=d style=left:174px;top:442px></i><i class=d style=left:196px;top:507px></i><i class=d style=left:197px;top:507px></i><i class=d style=left:189px;top:537px></i><i class=d style=left:234px;top:737px></i><i class=d style=left:309px;top:697px></i><i class=d style=left:233px;top:738px></i><i class=d style=left:451px;top:365px></i><i class=d style=left:453px;top:366px></i><i class=d style=left:452px;top:365px></i><i class=d style=left:454px;top:365px></i><i class=d style=left:563px;top:396px></i><i class=d style=left:564px;top:396px></i><i class=d style=left:563px;top:397px></i><i class=d style=left:587px;top:435px></i><i class=d style=left:589px;top:436px></i><i class=d style=left:599px;top:454px></i><i class=d style=left:600px;top:454px></i><i class=d style=left:599px;top:455px></i><i class=d style=left:708px;top:312px></i><i class=d style=left:710px;top:313px></i><i class=d style=left:712px;top:312px></i><i class=d style=left:709px;top:314px></i><i class=d style=left:711px;top:311px></i><i class=d style=left:713px;top:313px></i><i class=d style=left:917px;top:267px></i><i class=d style=left:918px;top:267px></i><i class=d style=left:1160px;top:500px></i><i class=d style=left:1160px;top:501px></i><i class=d style=left:821px;top:604px></i><i class=d style=left:821px;top:606px></i><i class=d style=left:822px;top:605px></i><i class=d style=left:924px;top:570px></i><i class=d style=left:925px;top:570px></i><i class=d style=left:924px;top:571px></i><i class=d style=left:879px;top:621px></i><i class=d style=left:880px;top:621px></i><i class=d style=left:936px;top:634px></i><i class=d style=left:796px;top:634px></i><i class=d style=left:799px;top:635px></i><i class=d style=left:802px;top:636px></i><i class=d style=left:801px;top:635px></i><i class=d style=left:795px;top:633px></i><i class=d style=left:1078px;top:842px></i><i class=d style=left:1108px;top:859px></i><i class=d style=left:1109px;top:859px></i><i class=d style=left:1075px;top:887px></i><i class=d style=left:1076px;top:887px></i><i class=d style=left:218px;top:813px></i><i class=d style=left:779px;top:403px></i><i class=d style=left:780px;top:403px></i><i class=d style=left:781px;top:403px></i><i class=d style=left:780px;top:404px></i><i class=d style=left:752px;top:438px></i><i class=d style=left:68px;top:170px></i><i class=d style=left:129px;top:167px></i><i class=d style=left:192px;top:99px></i><i class=d style=left:212px;top:159px></i><i class=d style=left:257px;top:168px></i><i class=d style=left:295px;top:175px></i><i class=d style=left:317px;top:168px></i><i class=d style=left:355px;top:210px></i><i class=d style=left:346px;top:221px></i><i class=d style=left:386px;top:151px></i><i class=d style=left:376px;top:160px></i><i class=d style=left:441px;top:146px></i><i class=d style=left:423px;top:163px></i><i class=d style=left:480px;top:159px></i><i class=d style=left:540px;top:144px></i><i class=d style=left:532px;top:215px></i><i class=d style=left:643px;top:165px></i><i class=d style=left:913px;top:72px></i><i class=d style=left:875px;top:93px></i><i class=d style=left:877px;top:94px></i><i class=d style=left:876px;top:93px></i><i class=d style=left:842px;top:172px></i><i class=d style=left:808px;top:186px></i><i class=d style=left:708px;top:225px></i><i class=d style=left:1022px;top:93px></i><i class=d style=left:1053px;top:153px></i><i class=d style=left:1095px;top:159px></i><i class=d style=left:1243px;top:169px></i><i class=d style=left:1137px;top:187px></i><i class=d style=left:1119px;top:208px></i><i class=d style=left:1023px;top:223px></i><i class=d style=left:1111px;top:226px></i><i class=d style=left:606px;top:209px></i><i class=d style=left:608px;top:209px></i><i class=d style=left:609px;top:209px></i><i class=d style=left:547px;top:209px></i><i class=d style=left:548px;top:209px></i><i class=d style=left:630px;top:233px></i><i class=d style=left:631px;top:233px></i><i class=d style=left:1249px;top:225px></i><i class=d style=left:1250px;top:225px></i>
<i class=e style=left:82px;top:921px></i><i class=e style=left:85px;top:920px></i><i class=e style=left:87px;top:920px></i><i class=e style=left:90px;top:919px></i><i class=e style=left:92px;top:918px></i><i class=e style=left:94px;top:917px></i><i class=e style=left:114px;top:908px></i><i class=e style=left:118px;top:906px></i><i class=e style=left:119px;top:907px></i><i class=e style=left:122px;top:904px></i><i class=e style=left:124px;top:903px></i><i class=e style=left:126px;top:903px></i><i class=e style=left:127px;top:902px></i><i class=e style=left:130px;top:900px></i><i class=e style=left:134px;top:898px></i><i class=e style=left:134px;top:897px></i><i class=e style=left:145px;top:892px></i><i class=e style=left:147px;top:890px></i><i class=e style=left:150px;top:888px></i><i class=e style=left:153px;top:887px></i><i class=e style=left:155px;top:886px></i><i class=e style=left:170px;top:881px></i><i class=e style=left:171px;top:879px></i><i class=e style=left:174px;top:878px></i><i class=e style=left:176px;top:877px></i><i class=e style=left:178px;top:874px></i><i class=e style=left:180px;top:874px></i><i class=e style=left:181px;top:873px></i><i class=e style=left:183px;top:871px></i><i class=e style=left:184px;top:871px></i><i class=e style=left:187px;top:870px></i><i class=e style=left:189px;top:868px></i><i class=e style=left:189px;top:867px></i><i class=e style=left:191px;top:867px></i><i class=e style=left:193px;top:865px></i><i class=e style=left:195px;top:864px></i><i class=e style=left:196px;top:863px></i><i class=e style=left:197px;top:861px></i><i class=e style=left:200px;top:861px></i><i class=e style=left:208px;top:852px></i><i class=e style=left:211px;top:851px></i><i class=e style=left:214px;top:850px></i><i class=e style=left:217px;top:849px></i><i class=e style=left:223px;top:843px></i><i class=e style=left:230px;top:840px></i><i class=e style=left:228px;top:839px></i><i class=e style=left:229px;top:837px></i><i class=e style=left:230px;top:837px></i><i class=e style=left:232px;top:835px></i><i class=e style=left:232px;top:834px></i><i class=e style=left:234px;top:834px></i><i class=e style=left:236px;top:834px></i><i class=e style=left:237px;top:833px></i><i class=e style=left:238px;top:832px></i><i class=e style=left:240px;top:831px></i><i class=e style=left:242px;top:829px></i><i class=e style=left:243px;top:829px></i><i class=e style=left:245px;top:828px></i><i class=e style=left:247px;top:827px></i><i class=e style=left:248px;top:826px></i><i class=e style=left:250px;top:824px></i><i class=e style=left:250px;top:825px></i><i class=e style=left:251px;top:824px></i><i class=e style=left:252px;top:822px></i><i class=e style=left:254px;top:821px></i><i class=e style=left:255px;top:820px></i><i class=e style=left:257px;top:819px></i><i class=e style=left:257px;top:817px></i><i class=e style=left:258px;top:817px></i><i class=e style=left:259px;top:815px></i><i class=e style=left:260px;top:814px></i><i class=e style=left:262px;top:813px></i><i class=e style=left:263px;top:811px></i><i class=e style=left:263px;top:811px></i><i class=e style=left:264px;top:809px></i><i class=e style=left:265px;top:808px></i><i class=e style=left:266px;top:806px></i><i class=e style=left:267px;top:805px></i><i class=e style=left:267px;top:803px></i><i class=e style=left:269px;top:802px></i><i class=e style=left:269px;top:800px></i><i class=e style=left:271px;top:798px></i><i class=e style=left:271px;top:797px></i><i class=e style=left:271px;top:796px></i><i class=e style=left:272px;top:793px></i><i class=e style=left:274px;top:792px></i><i class=e style=left:274px;top:791px></i><i class=e style=left:275px;top:789px></i><i class=e style=left:276px;top:788px></i><i class=e style=left:277px;top:787px></i><i class=e style=left:277px;top:786px></i><i class=e style=left:279px;top:784px></i><i class=e style=left:280px;top:784px></i><i class=e style=left:282px;top:784px></i><i class=e style=left:284px;top:783px></i><i class=e style=left:285px;top:781px></i><i class=e style=left:286px;top:781px></i><i class=e style=left:288px;top:780px></i><i class=e style=left:290px;top:780px></i><i class=e style=left:290px;top:790px></i><i class=e style=left:291px;top:789px></i><i class=e style=left:293px;top:777px></i><i class=e style=left:294px;top:775px></i><i class=e style=left:295px;top:773px></i><i class=e style=left:295px;top:772px></i><i class=e style=left:296px;top:770px></i><i class=e style=left:296px;top:769px></i><i class=e style=left:297px;top:766px></i><i class=e style=left:297px;top:764px></i><i class=e style=left:299px;top:763px></i><i class=e style=left:298px;top:763px></i><i class=e style=left:300px;top:762px></i><i class=e style=left:301px;top:762px></i><i class=e style=left:302px;top:760px></i><i class=e style=left:304px;top:759px></i><i class=e style=left:305px;top:758px></i><i class=e style=left:307px;top:758px></i><i class=e style=left:312px;top:754px></i><i class=e style=left:314px;top:752px></i><i class=e style=left:316px;top:750px></i><i class=e style=left:318px;top:750px></i><i class=e style=left:319px;top:749px></i><i class=e style=left:322px;top:747px></i><i class=e style=left:323px;top:746px></i><i class=e style=left:323px;top:746px></i><i class=e style=left:326px;top:745px></i><i class=e style=left:327px;top:744px></i><i class=e style=left:329px;top:742px></i><i class=e style=left:330px;top:741px></i><i class=e style=left:333px;top:740px></i><i class=e style=left:334px;top:739px></i><i class=e style=left:338px;top:734px></i><i class=e style=left:340px;top:734px></i><i class=e style=left:342px;top:733px></i><i class=e style=left:345px;top:732px></i><i class=e style=left:346px;top:731px></i><i class=e style=left:349px;top:730px></i><i class=e style=left:350px;top:730px></i><i class=e style=left:351px;top:729px></i><i class=e style=left:353px;top:728px></i><i class=e style=left:355px;top:726px></i><i class=e style=left:357px;top:726px></i><i class=e style=left:359px;top:724px></i><i class=e style=left:360px;top:720px></i><i class=e style=left:361px;top:719px></i><i class=e style=left:365px;top:717px></i><i class=e style=left:366px;top:717px></i><i class=e style=left:369px;top:716px></i><i class=e style=left:370px;top:715px></i><i class=e style=left:373px;top:714px></i><i class=e style=left:375px;top:713px></i><i class=e style=left:377px;top:712px></i><i class=e style=left:379px;top:710px></i><i class=e style=left:381px;top:708px></i><i class=e style=left:383px;top:706px></i><i class=e style=left:385px;top:705px></i><i class=e style=left:386px;top:704px></i><i class=e style=left:388px;top:703px></i><i class=e style=left:390px;top:702px></i><i class=e style=left:392px;top:701px></i><i class=e style=left:394px;top:700px></i><i class=e style=left:398px;top:697px></i><i class=e style=left:400px;top:696px></i><i class=e style=left:401px;top:695px></i><i class=e style=left:401px;top:693px></i><i class=e style=left:401px;top:691px></i><i class=e style=left:403px;top:690px></i><i class=e style=left:404px;top:689px></i><i class=e style=left:404px;top:687px></i><i class=e style=left:406px;top:687px></i><i class=e style=left:407px;top:685px></i><i class=e style=left:408px;top:684px></i><i class=e style=left:409px;top:684px></i><i class=e style=left:417px;top:676px></i><i class=e style=left:419px;top:673px></i><i class=e style=left:420px;top:672px></i><i class=e style=left:422px;top:672px></i><i class=e style=left:423px;top:670px></i><i class=e style=left:424px;top:669px></i><i class=e style=left:426px;top:669px></i><i class=e style=left:433px;top:666px></i><i class=e style=left:434px;top:665px></i><i class=e style=left:436px;top:664px></i><i class=e style=left:445px;top:661px></i><i class=e style=left:447px;top:660px></i><i class=e style=left:450px;top:659px></i><i class=e style=left:450px;top:659px></i><i class=e style=left:451px;top:658px></i><i class=e style=left:453px;top:657px></i><i class=e style=left:455px;top:655px></i><i class=e style=left:459px;top:648px></i><i class=e style=left:461px;top:647px></i><i class=e style=left:463px;top:646px></i><i class=e style=left:465px;top:645px></i><i class=e style=left:473px;top:643px></i><i class=e style=left:475px;top:642px></i><i class=e style=left:476px;top:640px></i><i class=e style=left:538px;top:634px></i><i class=e style=left:538px;top:636px></i><i class=e style=left:548px;top:626px></i><i class=e style=left:550px;top:630px></i><i class=e style=left:549px;top:628px></i><i class=e style=left:554px;top:598px></i><i class=e style=left:554px;top:608px></i><i class=e style=left:570px;top:629px></i><i class=e style=left:571px;top:628px></i><i class=e style=left:572px;top:626px></i><i class=e style=left:574px;top:624px></i><i class=e style=left:574px;top:623px></i><i class=e style=left:575px;top:622px></i><i class=e style=left:576px;top:622px></i><i class=e style=left:577px;top:620px></i><i class=e style=left:578px;top:618px></i><i class=e style=left:580px;top:618px></i><i class=e style=left:580px;top:616px></i><i class=e style=left:582px;top:615px></i><i class=e style=left:582px;top:615px></i><i class=e style=left:583px;top:614px></i><i class=e style=left:584px;top:612px></i><i class=e style=left:585px;top:612px></i><i class=e style=left:587px;top:611px></i><i class=e style=left:587px;top:610px></i><i class=e style=left:589px;top:610px></i><i class=e style=left:590px;top:610px></i><i class=e style=left:592px;top:610px></i><i class=e style=left:600px;top:606px></i><i class=e style=left:602px;top:607px></i><i class=e style=left:603px;top:605px></i><i class=e style=left:604px;top:605px></i><i class=e style=left:606px;top:603px></i><i class=e style=left:607px;top:602px></i><i class=e style=left:608px;top:601px></i><i class=e style=left:615px;top:607px></i><i class=e style=left:611px;top:592px></i><i class=e style=left:616px;top:591px></i><i class=e style=left:612px;top:625px></i><i class=e style=left:621px;top:625px></i><i class=e style=left:620px;top:593px></i><i class=e style=left:621px;top:592px></i><i class=e style=left:623px;top:591px></i><i class=e style=left:624px;top:590px></i><i class=e style=left:626px;top:589px></i><i class=e style=left:629px;top:587px></i><i class=e style=left:630px;top:587px></i><i class=e style=left:634px;top:586px></i><i class=e style=left:635px;top:585px></i><i class=e style=left:635px;top:583px></i><i class=e style=left:637px;top:584px></i><i class=e style=left:638px;top:582px></i><i class=e style=left:640px;top:581px></i><i class=e style=left:641px;top:579px></i><i class=e style=left:643px;top:578px></i><i class=e style=left:644px;top:576px></i><i class=e style=left:645px;top:577px></i><i class=e style=left:652px;top:567px></i><i class=e style=left:658px;top:573px></i><i class=e style=left:655px;top:570px></i><i class=e style=left:654px;top:569px></i><i class=e style=left:668px;top:566px></i><i class=e style=left:670px;top:565px></i><i class=e style=left:671px;top:565px></i><i class=e style=left:673px;top:564px></i><i class=e style=left:675px;top:563px></i><i class=e style=left:677px;top:562px></i><i class=e style=left:679px;top:561px></i><i class=e style=left:679px;top:561px></i><i class=e style=left:682px;top:560px></i><i class=e style=left:684px;top:559px></i><i class=e style=left:684px;top:558px></i><i class=e style=left:685px;top:552px></i><i class=e style=left:687px;top:551px></i><i class=e style=left:688px;top:549px></i><i class=e style=left:690px;top:550px></i><i class=e style=left:691px;top:549px></i><i class=e style=left:693px;top:548px></i><i class=e style=left:694px;top:547px></i><i class=e style=left:696px;top:546px></i><i class=e style=left:697px;top:544px></i><i class=e style=left:699px;top:544px></i><i class=e style=left:700px;top:543px></i><i class=e style=left:700px;top:543px></i><i class=e style=left:701px;top:542px></i><i class=e style=left:703px;top:541px></i><i class=e style=left:705px;top:540px></i><i class=e style=left:707px;top:539px></i><i class=e style=left:708px;top:538px></i><i class=e style=left:710px;top:537px></i><i class=e style=left:712px;top:537px></i><i class=e style=left:713px;top:536px></i><i class=e style=left:714px;top:535px></i><i class=e style=left:715px;top:535px></i><i class=e style=left:717px;top:534px></i><i class=e style=left:719px;top:534px></i><i class=e style=left:720px;top:534px></i><i class=e style=left:722px;top:532px></i><i class=e style=left:724px;top:532px></i><i class=e style=left:724px;top:532px></i><i class=e style=left:726px;top:532px></i><i class=e style=left:728px;top:530px></i><i class=e style=left:730px;top:530px></i><i class=e style=left:730px;top:530px></i><i class=e style=left:733px;top:529px></i><i class=e style=left:734px;top:528px></i><i class=e style=left:737px;top:527px></i><i class=e style=left:738px;top:527px></i><i class=e style=left:742px;top:522px></i><i class=e style=left:743px;top:522px></i><i class=e style=left:745px;top:520px></i><i class=e style=left:746px;top:519px></i><i class=e style=left:748px;top:517px></i><i class=e style=left:749px;top:516px></i><i class=e style=left:750px;top:514px></i><i class=e style=left:752px;top:513px></i><i class=e style=left:753px;top:511px></i><i class=e style=left:753px;top:510px></i><i class=e style=left:761px;top:507px></i><i class=e style=left:762px;top:505px></i><i class=e style=left:763px;top:504px></i><i class=e style=left:765px;top:502px></i><i class=e style=left:766px;top:501px></i><i class=e style=left:768px;top:500px></i><i class=e style=left:770px;top:498px></i><i class=e style=left:770px;top:497px></i><i class=e style=left:773px;top:495px></i><i class=e style=left:773px;top:494px></i><i class=e style=left:775px;top:493px></i><i class=e style=left:776px;top:491px></i><i class=e style=left:781px;top:490px></i><i class=e style=left:789px;top:487px></i><i class=e style=left:788px;top:486px></i><i class=e style=left:803px;top:481px></i><i class=e style=left:806px;top:485px></i><i class=e style=left:805px;top:483px></i><i class=e style=left:817px;top:478px></i><i class=e style=left:818px;top:477px></i><i class=e style=left:826px;top:475px></i><i class=e style=left:828px;top:469px></i><i class=e style=left:830px;top:470px></i><i class=e style=left:832px;top:472px></i><i class=e style=left:834px;top:466px></i><i class=e style=left:835px;top:465px></i><i class=e style=left:837px;top:463px></i><i class=e style=left:839px;top:461px></i><i class=e style=left:841px;top:460px></i><i class=e style=left:843px;top:459px></i><i class=e style=left:844px;top:458px></i><i class=e style=left:845px;top:456px></i><i class=e style=left:848px;top:454px></i><i class=e style=left:849px;top:453px></i><i class=e style=left:851px;top:452px></i><i class=e style=left:857px;top:454px></i><i class=e style=left:856px;top:453px></i><i class=e style=left:858px;top:450px></i><i class=e style=left:858px;top:449px></i><i class=e style=left:860px;top:448px></i><i class=e style=left:861px;top:445px></i><i class=e style=left:863px;top:444px></i><i class=e style=left:864px;top:443px></i><i class=e style=left:864px;top:442px></i><i class=e style=left:865px;top:441px></i><i class=e style=left:867px;top:438px></i><i class=e style=left:868px;top:437px></i><i class=e style=left:869px;top:436px></i><i class=e style=left:869px;top:434px></i><i class=e style=left:871px;top:433px></i><i class=e style=left:872px;top:433px></i><i class=e style=left:873px;top:431px></i><i class=e style=left:874px;top:429px></i><i class=e style=left:882px;top:428px></i><i class=e style=left:884px;top:427px></i><i class=e style=left:886px;top:426px></i><i class=e style=left:887px;top:425px></i><i class=e style=left:894px;top:419px></i><i class=e style=left:896px;top:420px></i><i class=e style=left:899px;top:421px></i><i class=e style=left:901px;top:422px></i><i class=e style=left:901px;top:423px></i><i class=e style=left:919px;top:416px></i><i class=e style=left:920px;top:416px></i><i class=e style=left:922px;top:415px></i><i class=e style=left:923px;top:413px></i><i class=e style=left:925px;top:413px></i><i class=e style=left:928px;top:412px></i><i class=e style=left:928px;top:411px></i><i class=e style=left:931px;top:410px></i><i class=e style=left:931px;top:408px></i><i class=e style=left:934px;top:402px></i><i class=e style=left:936px;top:401px></i><i class=e style=left:937px;top:400px></i><i class=e style=left:939px;top:399px></i><i class=e style=left:941px;top:398px></i><i class=e style=left:943px;top:396px></i><i class=e style=left:945px;top:396px></i><i class=e style=left:947px;top:394px></i><i class=e style=left:952px;top:391px></i><i class=e style=left:953px;top:390px></i><i class=e style=left:938px;top:398px></i><i class=e style=left:940px;top:397px></i><i class=e style=left:943px;top:397px></i><i class=e style=left:945px;top:396px></i><i class=e style=left:946px;top:395px></i><i class=e style=left:961px;top:389px></i><i class=e style=left:962px;top:389px></i><i class=e style=left:969px;top:387px></i><i class=e style=left:970px;top:386px></i><i class=e style=left:971px;top:384px></i><i class=e style=left:974px;top:383px></i><i class=e style=left:978px;top:380px></i><i class=e style=left:978px;top:378px></i><i class=e style=left:980px;top:378px></i><i class=e style=left:982px;top:377px></i><i class=e style=left:983px;top:375px></i><i class=e style=left:984px;top:374px></i><i class=e style=left:985px;top:372px></i><i class=e style=left:986px;top:371px></i><i class=e style=left:987px;top:370px></i><i class=e style=left:989px;top:368px></i><i class=e style=left:990px;top:368px></i><i class=e style=left:991px;top:367px></i><i class=e style=left:992px;top:366px></i><i class=e style=left:993px;top:365px></i><i class=e style=left:994px;top:362px></i><i class=e style=left:995px;top:362px></i><i class=e style=left:997px;top:361px></i><i class=e style=left:998px;top:359px></i><i class=e style=left:999px;top:359px></i><i class=e style=left:1000px;top:356px></i><i class=e style=left:1002px;top:355px></i><i class=e style=left:1002px;top:355px></i><i class=e style=left:1003px;top:354px></i><i class=e style=left:1005px;top:353px></i><i class=e style=left:1006px;top:351px></i><i class=e style=left:1006px;top:350px></i><i class=e style=left:1008px;top:349px></i><i class=e style=left:1010px;top:347px></i><i class=e style=left:1009px;top:347px></i><i class=e style=left:1012px;top:345px></i><i class=e style=left:1013px;top:344px></i><i class=e style=left:1014px;top:342px></i><i class=e style=left:1014px;top:341px></i><i class=e style=left:1016px;top:340px></i><i class=e style=left:1017px;top:338px></i><i class=e style=left:1043px;top:335px></i><i class=e style=left:1045px;top:335px></i><i class=e style=left:1047px;top:335px></i><i class=e style=left:1056px;top:332px></i><i class=e style=left:1058px;top:331px></i><i class=e style=left:1059px;top:330px></i><i class=e style=left:1062px;top:328px></i><i class=e style=left:1064px;top:328px></i><i class=e style=left:1065px;top:327px></i><i class=e style=left:1082px;top:314px></i><i class=e style=left:1084px;top:314px></i><i class=e style=left:1085px;top:313px></i><i class=e style=left:1088px;top:312px></i><i class=e style=left:1089px;top:310px></i><i class=e style=left:1090px;top:310px></i><i class=e style=left:1092px;top:308px></i><i class=e style=left:1095px;top:306px></i><i class=e style=left:1096px;top:305px></i><i class=e style=left:1098px;top:303px></i><i class=e style=left:1099px;top:302px></i><i class=e style=left:1101px;top:300px></i><i class=e style=left:1103px;top:299px></i><i class=e style=left:1108px;top:298px></i><i class=e style=left:1109px;top:297px></i><i class=e style=left:1112px;top:296px></i><i class=e style=left:1114px;top:295px></i><i class=e style=left:1115px;top:294px></i><i class=e style=left:1118px;top:293px></i><i class=e style=left:1120px;top:293px></i><i class=e style=left:1122px;top:292px></i><i class=e style=left:1137px;top:288px></i><i class=e style=left:1135px;top:287px></i><i class=e style=left:1145px;top:281px></i><i class=e style=left:1150px;top:269px></i><i class=e style=left:1161px;top:275px></i><i class=e style=left:1192px;top:259px></i><i class=e style=left:1201px;top:267px></i><i class=e style=left:1175px;top:262px></i><i class=e style=left:1176px;top:261px></i><i class=e style=left:1179px;top:260px></i><i class=e style=left:1211px;top:253px></i><i class=e style=left:1212px;top:252px></i><i class=e style=left:1214px;top:252px></i><i class=e style=left:1215px;top:251px></i><i class=e style=left:1218px;top:242px></i><i class=e style=left:1220px;top:240px></i><i class=e style=left:1222px;top:240px></i><i class=e style=left:1224px;top:238px></i><i class=e style=left:1225px;top:238px></i><i class=e style=left:1227px;top:237px></i><i class=e style=left:1229px;top:236px></i><i class=e style=left:281px;top:569px></i><i class=e style=left:215px;top:678px></i><i class=e style=left:410px;top:851px></i><i class=e style=left:522px;top:912px></i><i class=e style=left:1038px;top:603px></i><i class=e style=left:64px;top:211px></i><i class=e style=left:466px;top:228px></i><i class=e style=left:524px;top:61px></i><i class=e style=left:640px;top:169px></i><i class=e style=left:855px;top:189px></i><i class=e style=left:951px;top:205px></i><i class=e style=left:1130px;top:82px></i><i class=e style=left:1026px;top:139px></i><i class=e style=left:1114px;top:204px></i><i class=e style=left:1130px;top:213px></i><i class=e style=left:1135px;top:219px></i><i class=e style=left:1172px;top:97px></i>
<i class=f style=left:85px;top:924px></i><i class=f style=left:86px;top:923px></i><i class=f style=left:81px;top:893px></i><i class=f style=left:83px;top:900px></i><i class=f style=left:83px;top:895px></i><i class=f style=left:84px;top:898px></i><i class=f style=left:85px;top:899px></i><i class=f style=left:85px;top:896px></i><i class=f style=left:79px;top:892px></i><i class=f style=left:84px;top:892px></i><i class=f style=left:84px;top:899px></i><i class=f style=left:85px;top:893px></i><i class=f style=left:84px;top:900px></i><i class=f style=left:89px;top:895px></i><i class=f style=left:91px;top:894px></i><i class=f style=left:92px;top:894px></i><i class=f style=left:93px;top:893px></i><i class=f style=left:94px;top:892px></i><i class=f style=left:96px;top:891px></i><i class=f style=left:97px;top:891px></i><i class=f style=left:98px;top:890px></i><i class=f style=left:99px;top:889px></i><i class=f style=left:101px;top:889px></i><i class=f style=left:102px;top:889px></i><i class=f style=left:104px;top:887px></i><i class=f style=left:105px;top:887px></i><i class=f style=left:106px;top:886px></i><i class=f style=left:108px;top:885px></i><i class=f style=left:108px;top:885px></i><i class=f style=left:110px;top:885px></i><i class=f style=left:110px;top:884px></i><i class=f style=left:111px;top:883px></i><i class=f style=left:113px;top:882px></i><i class=f style=left:114px;top:881px></i><i class=f style=left:115px;top:880px></i><i class=f style=left:117px;top:879px></i><i class=f style=left:118px;top:879px></i><i class=f style=left:119px;top:877px></i><i class=f style=left:120px;top:877px></i><i class=f style=left:122px;top:875px></i><i class=f style=left:123px;top:875px></i><i class=f style=left:124px;top:874px></i><i class=f style=left:124px;top:874px></i><i class=f style=left:125px;top:873px></i><i class=f style=left:126px;top:871px></i><i class=f style=left:126px;top:871px></i><i class=f style=left:127px;top:870px></i><i class=f style=left:128px;top:869px></i><i class=f style=left:136px;top:875px></i><i class=f style=left:165px;top:870px></i><i class=f style=left:174px;top:866px></i><i class=f style=left:168px;top:869px></i><i class=f style=left:144px;top:873px></i><i class=f style=left:145px;top:872px></i><i class=f style=left:147px;top:873px></i><i class=f style=left:148px;top:873px></i><i class=f style=left:150px;top:872px></i><i class=f style=left:152px;top:872px></i><i class=f style=left:153px;top:873px></i><i class=f style=left:155px;top:873px></i><i class=f style=left:157px;top:873px></i><i class=f style=left:158px;top:872px></i><i class=f style=left:159px;top:872px></i><i class=f style=left:161px;top:873px></i><i class=f style=left:162px;top:872px></i><i class=f style=left:164px;top:872px></i><i class=f style=left:166px;top:873px></i><i class=f style=left:167px;top:872px></i><i class=f style=left:168px;top:873px></i><i class=f style=left:189px;top:859px></i><i class=f style=left:190px;top:858px></i><i class=f style=left:192px;top:859px></i><i class=f style=left:194px;top:859px></i><i class=f style=left:195px;top:858px></i><i class=f style=left:196px;top:858px></i><i class=f style=left:198px;top:858px></i><i class=f style=left:199px;top:858px></i><i class=f style=left:201px;top:858px></i><i class=f style=left:204px;top:859px></i><i class=f style=left:206px;top:859px></i><i class=f style=left:207px;top:859px></i><i class=f style=left:208px;top:859px></i><i class=f style=left:210px;top:859px></i><i class=f style=left:211px;top:859px></i><i class=f style=left:214px;top:858px></i><i class=f style=left:215px;top:859px></i><i class=f style=left:216px;top:859px></i><i class=f style=left:217px;top:859px></i><i class=f style=left:219px;top:858px></i><i class=f style=left:221px;top:858px></i><i class=f style=left:222px;top:858px></i><i class=f style=left:224px;top:858px></i><i class=f style=left:225px;top:858px></i><i class=f style=left:227px;top:858px></i><i class=f style=left:228px;top:858px></i><i class=f style=left:230px;top:858px></i><i class=f style=left:230px;top:859px></i><i class=f style=left:231px;top:860px></i><i class=f style=left:233px;top:860px></i><i class=f style=left:234px;top:861px></i><i class=f style=left:236px;top:859px></i><i class=f style=left:238px;top:860px></i><i class=f style=left:238px;top:861px></i><i class=f style=left:240px;top:860px></i><i class=f style=left:241px;top:861px></i><i class=f style=left:243px;top:861px></i><i class=f style=left:244px;top:861px></i><i class=f style=left:247px;top:861px></i><i class=f style=left:247px;top:862px></i><i class=f style=left:249px;top:862px></i><i class=f style=left:248px;top:847px></i><i class=f style=left:248px;top:862px></i><i class=f style=left:260px;top:819px></i><i class=f style=left:263px;top:808px></i><i class=f style=left:256px;top:848px></i><i class=f style=left:258px;top:849px></i><i class=f style=left:258px;top:847px></i><i class=f style=left:260px;top:847px></i><i class=f style=left:261px;top:847px></i><i class=f style=left:263px;top:846px></i><i class=f style=left:264px;top:846px></i><i class=f style=left:265px;top:846px></i><i class=f style=left:267px;top:847px></i><i class=f style=left:268px;top:845px></i><i class=f style=left:268px;top:845px></i><i class=f style=left:269px;top:845px></i><i class=f style=left:270px;top:844px></i><i class=f style=left:272px;top:843px></i><i class=f style=left:273px;top:843px></i><i class=f style=left:274px;top:843px></i><i class=f style=left:276px;top:842px></i><i class=f style=left:276px;top:841px></i><i class=f style=left:272px;top:822px></i><i class=f style=left:273px;top:822px></i><i class=f style=left:275px;top:822px></i><i class=f style=left:276px;top:822px></i><i class=f style=left:278px;top:821px></i><i class=f style=left:278px;top:822px></i><i class=f style=left:280px;top:822px></i><i class=f style=left:281px;top:821px></i><i class=f style=left:283px;top:821px></i><i class=f style=left:285px;top:821px></i><i class=f style=left:286px;top:821px></i><i class=f style=left:287px;top:821px></i><i class=f style=left:286px;top:832px></i><i class=f style=left:284px;top:832px></i><i class=f style=left:286px;top:831px></i><i class=f style=left:282px;top:831px></i><i class=f style=left:283px;top:832px></i><i class=f style=left:282px;top:830px></i><i class=f style=left:282px;top:830px></i><i class=f style=left:286px;top:831px></i><i class=f style=left:282px;top:832px></i><i class=f style=left:280px;top:830px></i><i class=f style=left:291px;top:831px></i><i class=f style=left:289px;top:831px></i><i class=f style=left:290px;top:834px></i><i class=f style=left:291px;top:833px></i><i class=f style=left:289px;top:830px></i><i class=f style=left:288px;top:831px></i><i class=f style=left:289px;top:831px></i><i class=f style=left:294px;top:828px></i><i class=f style=left:291px;top:835px></i><i class=f style=left:295px;top:828px></i><i class=f style=left:293px;top:831px></i><i class=f style=left:291px;top:829px></i><i class=f style=left:289px;top:831px></i><i class=f style=left:292px;top:830px></i><i class=f style=left:293px;top:830px></i><i class=f style=left:292px;top:833px></i><i class=f style=left:290px;top:820px></i><i class=f style=left:291px;top:820px></i><i class=f style=left:293px;top:820px></i><i class=f style=left:295px;top:821px></i><i class=f style=left:296px;top:820px></i><i class=f style=left:297px;top:820px></i><i class=f style=left:298px;top:821px></i><i class=f style=left:299px;top:821px></i><i class=f style=left:302px;top:821px></i><i class=f style=left:302px;top:821px></i><i class=f style=left:304px;top:821px></i><i class=f style=left:305px;top:820px></i><i class=f style=left:307px;top:820px></i><i class=f style=left:308px;top:821px></i><i class=f style=left:308px;top:831px></i><i class=f style=left:305px;top:832px></i><i class=f style=left:306px;top:831px></i><i class=f style=left:307px;top:833px></i><i class=f style=left:310px;top:831px></i><i class=f style=left:307px;top:832px></i><i class=f style=left:304px;top:776px></i><i class=f style=left:305px;top:776px></i><i class=f style=left:307px;top:776px></i><i class=f style=left:309px;top:777px></i><i class=f style=left:311px;top:777px></i><i class=f style=left:312px;top:777px></i><i class=f style=left:308px;top:808px></i><i class=f style=left:315px;top:816px></i><i class=f style=left:309px;top:686px></i><i class=f style=left:318px;top:806px></i><i class=f style=left:320px;top:806px></i><i class=f style=left:321px;top:807px></i><i class=f style=left:323px;top:807px></i><i class=f style=left:324px;top:808px></i><i class=f style=left:326px;top:808px></i><i class=f style=left:336px;top:799px></i><i class=f style=left:336px;top:798px></i><i class=f style=left:329px;top:796px></i><i class=f style=left:334px;top:796px></i><i class=f style=left:332px;top:796px></i><i class=f style=left:335px;top:794px></i><i class=f style=left:333px;top:796px></i><i class=f style=left:337px;top:798px></i><i class=f style=left:334px;top:794px></i><i class=f style=left:336px;top:798px></i><i class=f style=left:334px;top:796px></i><i class=f style=left:334px;top:794px></i><i class=f style=left:335px;top:795px></i><i class=f style=left:336px;top:798px></i><i class=f style=left:336px;top:795px></i><i class=f style=left:336px;top:800px></i><i class=f style=left:335px;top:791px></i><i class=f style=left:352px;top:796px></i><i class=f style=left:359px;top:792px></i><i class=f style=left:357px;top:779px></i><i class=f style=left:357px;top:783px></i><i class=f style=left:358px;top:788px></i><i class=f style=left:358px;top:792px></i><i class=f style=left:359px;top:794px></i><i class=f style=left:356px;top:781px></i><i class=f style=left:365px;top:776px></i><i class=f style=left:366px;top:776px></i><i class=f style=left:367px;top:776px></i><i class=f style=left:369px;top:776px></i><i class=f style=left:370px;top:776px></i><i class=f style=left:371px;top:777px></i><i class=f style=left:373px;top:776px></i><i class=f style=left:375px;top:752px></i><i class=f style=left:376px;top:753px></i><i class=f style=left:383px;top:749px></i><i class=f style=left:384px;top:750px></i><i class=f style=left:386px;top:750px></i><i class=f style=left:387px;top:751px></i><i class=f style=left:388px;top:751px></i><i class=f style=left:390px;top:751px></i><i class=f style=left:392px;top:751px></i><i class=f style=left:392px;top:752px></i><i class=f style=left:393px;top:752px></i><i class=f style=left:396px;top:760px></i><i class=f style=left:403px;top:758px></i><i class=f style=left:399px;top:761px></i><i class=f style=left:407px;top:760px></i><i class=f style=left:395px;top:756px></i><i class=f style=left:402px;top:762px></i><i class=f style=left:400px;top:757px></i><i class=f style=left:396px;top:759px></i><i class=f style=left:395px;top:760px></i><i class=f style=left:402px;top:755px></i><i class=f style=left:400px;top:760px></i><i class=f style=left:393px;top:758px></i><i class=f style=left:397px;top:758px></i><i class=f style=left:405px;top:755px></i><i class=f style=left:404px;top:759px></i><i class=f style=left:407px;top:756px></i><i class=f style=left:394px;top:757px></i><i class=f style=left:403px;top:761px></i><i class=f style=left:404px;top:757px></i><i class=f style=left:406px;top:761px></i><i class=f style=left:402px;top:755px></i><i class=f style=left:392px;top:758px></i><i class=f style=left:403px;top:759px></i><i class=f style=left:397px;top:758px></i><i class=f style=left:406px;top:759px></i><i class=f style=left:403px;top:754px></i><i class=f style=left:405px;top:760px></i><i class=f style=left:405px;top:756px></i><i class=f style=left:404px;top:760px></i><i class=f style=left:405px;top:754px></i><i class=f style=left:390px;top:767px></i><i class=f style=left:407px;top:767px></i><i class=f style=left:407px;top:773px></i><i class=f style=left:419px;top:769px></i><i class=f style=left:417px;top:745px></i><i class=f style=left:418px;top:746px></i><i class=f style=left:419px;top:744px></i><i class=f style=left:420px;top:744px></i><i class=f style=left:422px;top:743px></i><i class=f style=left:422px;top:743px></i><i class=f style=left:423px;top:741px></i><i class=f style=left:424px;top:741px></i><i class=f style=left:424px;top:740px></i><i class=f style=left:424px;top:740px></i><i class=f style=left:426px;top:740px></i><i class=f style=left:427px;top:740px></i><i class=f style=left:429px;top:739px></i><i class=f style=left:429px;top:739px></i><i class=f style=left:431px;top:738px></i><i class=f style=left:432px;top:737px></i><i class=f style=left:443px;top:731px></i><i class=f style=left:444px;top:731px></i><i class=f style=left:445px;top:731px></i><i class=f style=left:446px;top:730px></i><i class=f style=left:447px;top:730px></i><i class=f style=left:449px;top:728px></i><i class=f style=left:449px;top:728px></i><i class=f style=left:451px;top:728px></i><i class=f style=left:452px;top:727px></i><i class=f style=left:453px;top:725px></i><i class=f style=left:454px;top:725px></i><i class=f style=left:460px;top:720px></i><i class=f style=left:451px;top:705px></i><i class=f style=left:476px;top:692px></i><i class=f style=left:481px;top:692px></i><i class=f style=left:480px;top:693px></i><i class=f style=left:484px;top:687px></i><i class=f style=left:477px;top:690px></i><i class=f style=left:474px;top:687px></i><i class=f style=left:483px;top:686px></i><i class=f style=left:483px;top:689px></i><i class=f style=left:481px;top:688px></i><i class=f style=left:480px;top:691px></i><i class=f style=left:477px;top:687px></i><i class=f style=left:477px;top:691px></i><i class=f style=left:476px;top:691px></i><i class=f style=left:478px;top:687px></i><i class=f style=left:483px;top:690px></i><i class=f style=left:483px;top:688px></i><i class=f style=left:484px;top:690px></i><i class=f style=left:476px;top:686px></i><i class=f style=left:482px;top:686px></i><i class=f style=left:483px;top:691px></i><i class=f style=left:479px;top:698px></i><i class=f style=left:493px;top:675px></i><i class=f style=left:520px;top:599px></i><i class=f style=left:528px;top:614px></i><i class=f style=left:527px;top:584px></i><i class=f style=left:535px;top:685px></i><i class=f style=left:576px;top:558px></i><i class=f style=left:554px;top:510px></i><i class=f style=left:562px;top:506px></i><i class=f style=left:557px;top:509px></i><i class=f style=left:558px;top:507px></i><i class=f style=left:554px;top:510px></i><i class=f style=left:552px;top:509px></i><i class=f style=left:556px;top:511px></i><i class=f style=left:556px;top:508px></i><i class=f style=left:558px;top:508px></i><i class=f style=left:563px;top:507px></i><i class=f style=left:555px;top:508px></i><i class=f style=left:561px;top:511px></i><i class=f style=left:563px;top:507px></i><i class=f style=left:563px;top:511px></i><i class=f style=left:554px;top:508px></i><i class=f style=left:555px;top:509px></i><i class=f style=left:563px;top:511px></i><i class=f style=left:556px;top:512px></i><i class=f style=left:562px;top:511px></i><i class=f style=left:554px;top:507px></i><i class=f style=left:562px;top:542px></i><i class=f style=left:576px;top:556px></i><i class=f style=left:580px;top:564px></i><i class=f style=left:587px;top:550px></i><i class=f style=left:588px;top:552px></i><i class=f style=left:590px;top:548px></i><i class=f style=left:585px;top:552px></i><i class=f style=left:587px;top:550px></i><i class=f style=left:587px;top:549px></i><i class=f style=left:587px;top:547px></i><i class=f style=left:588px;top:552px></i><i class=f style=left:586px;top:547px></i><i class=f style=left:600px;top:540px></i><i class=f style=left:601px;top:540px></i><i class=f style=left:600px;top:541px></i><i class=f style=left:599px;top:540px></i><i class=f style=left:601px;top:526px></i><i class=f style=left:602px;top:530px></i><i class=f style=left:604px;top:521px></i><i class=f style=left:605px;top:503px></i><i class=f style=left:608px;top:508px></i><i class=f style=left:618px;top:509px></i><i class=f style=left:614px;top:504px></i><i class=f style=left:613px;top:507px></i><i class=f style=left:618px;top:509px></i><i class=f style=left:618px;top:505px></i><i class=f style=left:612px;top:508px></i><i class=f style=left:622px;top:505px></i><i class=f style=left:615px;top:506px></i><i class=f style=left:616px;top:508px></i><i class=f style=left:617px;top:506px></i><i class=f style=left:616px;top:504px></i><i class=f style=left:614px;top:505px></i><i class=f style=left:620px;top:505px></i><i class=f style=left:616px;top:507px></i><i class=f style=left:614px;top:505px></i><i class=f style=left:620px;top:510px></i><i class=f style=left:612px;top:507px></i><i class=f style=left:612px;top:506px></i><i class=f style=left:614px;top:508px></i><i class=f style=left:611px;top:506px></i><i class=f style=left:638px;top:500px></i><i class=f style=left:631px;top:501px></i><i class=f style=left:636px;top:501px></i><i class=f style=left:631px;top:499px></i><i class=f style=left:635px;top:500px></i><i class=f style=left:637px;top:499px></i><i class=f style=left:630px;top:500px></i><i class=f style=left:630px;top:501px></i><i class=f style=left:635px;top:500px></i><i class=f style=left:637px;top:501px></i><i class=f style=left:630px;top:498px></i><i class=f style=left:631px;top:499px></i><i class=f style=left:628px;top:501px></i><i class=f style=left:636px;top:500px></i><i class=f style=left:627px;top:500px></i><i class=f style=left:630px;top:498px></i><i class=f style=left:629px;top:488px></i><i class=f style=left:645px;top:499px></i><i class=f style=left:637px;top:488px></i><i class=f style=left:647px;top:489px></i><i class=f style=left:639px;top:488px></i><i class=f style=left:647px;top:489px></i><i class=f style=left:646px;top:489px></i><i class=f style=left:643px;top:488px></i><i class=f style=left:640px;top:487px></i><i class=f style=left:639px;top:490px></i><i class=f style=left:641px;top:489px></i><i class=f style=left:644px;top:487px></i><i class=f style=left:644px;top:487px></i><i class=f style=left:643px;top:489px></i><i class=f style=left:642px;top:491px></i><i class=f style=left:644px;top:488px></i><i class=f style=left:642px;top:489px></i><i class=f style=left:641px;top:488px></i><i class=f style=left:651px;top:484px></i><i class=f style=left:652px;top:483px></i><i class=f style=left:653px;top:482px></i><i class=f style=left:654px;top:482px></i><i class=f style=left:655px;top:481px></i><i class=f style=left:656px;top:480px></i><i class=f style=left:657px;top:479px></i><i class=f style=left:658px;top:479px></i><i class=f style=left:659px;top:478px></i><i class=f style=left:662px;top:474px></i><i class=f style=left:664px;top:474px></i><i class=f style=left:663px;top:472px></i><i class=f style=left:665px;top:472px></i><i class=f style=left:666px;top:471px></i><i class=f style=left:667px;top:470px></i><i class=f style=left:668px;top:470px></i><i class=f style=left:670px;top:469px></i><i class=f style=left:671px;top:468px></i><i class=f style=left:671px;top:467px></i><i class=f style=left:672px;top:467px></i><i class=f style=left:673px;top:466px></i><i class=f style=left:673px;top:465px></i><i class=f style=left:677px;top:467px></i><i class=f style=left:678px;top:467px></i><i class=f style=left:679px;top:466px></i><i class=f style=left:682px;top:467px></i><i class=f style=left:683px;top:467px></i><i class=f style=left:684px;top:467px></i><i class=f style=left:685px;top:467px></i><i class=f style=left:687px;top:467px></i><i class=f style=left:687px;top:467px></i><i class=f style=left:689px;top:467px></i><i class=f style=left:697px;top:461px></i><i class=f style=left:701px;top:458px></i><i class=f style=left:703px;top:462px></i><i class=f style=left:706px;top:458px></i><i class=f style=left:701px;top:461px></i><i class=f style=left:706px;top:459px></i><i class=f style=left:701px;top:458px></i><i class=f style=left:704px;top:461px></i><i class=f style=left:700px;top:459px></i><i class=f style=left:700px;top:461px></i><i class=f style=left:703px;top:460px></i><i class=f style=left:698px;top:459px></i><i class=f style=left:703px;top:461px></i><i class=f style=left:706px;top:457px></i><i class=f style=left:697px;top:457px></i><i class=f style=left:705px;top:456px></i><i class=f style=left:698px;top:458px></i><i class=f style=left:700px;top:460px></i><i class=f style=left:700px;top:457px></i><i class=f style=left:708px;top:460px></i><i class=f style=left:708px;top:457px></i><i class=f style=left:706px;top:458px></i><i class=f style=left:704px;top:457px></i><i class=f style=left:709px;top:461px></i><i class=f style=left:703px;top:458px></i><i class=f style=left:700px;top:459px></i><i class=f style=left:716px;top:452px></i><i class=f style=left:718px;top:453px></i><i class=f style=left:719px;top:454px></i><i class=f style=left:720px;top:453px></i><i class=f style=left:721px;top:452px></i><i class=f style=left:723px;top:453px></i><i class=f style=left:724px;top:452px></i><i class=f style=left:726px;top:452px></i><i class=f style=left:727px;top:453px></i><i class=f style=left:728px;top:452px></i><i class=f style=left:721px;top:461px></i><i class=f style=left:629px;top:413px></i><i class=f style=left:718px;top:449px></i><i class=f style=left:719px;top:449px></i><i class=f style=left:720px;top:450px></i><i class=f style=left:722px;top:451px></i><i class=f style=left:723px;top:451px></i><i class=f style=left:724px;top:451px></i><i class=f style=left:726px;top:450px></i><i class=f style=left:727px;top:450px></i><i class=f style=left:728px;top:450px></i><i class=f style=left:730px;top:451px></i><i class=f style=left:731px;top:450px></i><i class=f style=left:732px;top:450px></i><i class=f style=left:733px;top:450px></i><i class=f style=left:735px;top:451px></i><i class=f style=left:736px;top:451px></i><i class=f style=left:737px;top:450px></i><i class=f style=left:738px;top:451px></i><i class=f style=left:740px;top:451px></i><i class=f style=left:722px;top:461px></i><i class=f style=left:733px;top:445px></i><i class=f style=left:734px;top:444px></i><i class=f style=left:736px;top:444px></i><i class=f style=left:737px;top:444px></i><i class=f style=left:738px;top:443px></i><i class=f style=left:739px;top:442px></i><i class=f style=left:740px;top:443px></i><i class=f style=left:742px;top:442px></i><i class=f style=left:743px;top:444px></i><i class=f style=left:744px;top:442px></i><i class=f style=left:745px;top:443px></i><i class=f style=left:747px;top:442px></i><i class=f style=left:747px;top:443px></i><i class=f style=left:749px;top:442px></i><i class=f style=left:750px;top:442px></i><i class=f style=left:751px;top:442px></i><i class=f style=left:752px;top:443px></i><i class=f style=left:754px;top:442px></i><i class=f style=left:755px;top:443px></i><i class=f style=left:756px;top:442px></i><i class=f style=left:757px;top:442px></i><i class=f style=left:758px;top:441px></i><i class=f style=left:759px;top:441px></i><i class=f style=left:760px;top:441px></i><i class=f style=left:762px;top:441px></i><i class=f style=left:763px;top:441px></i><i class=f style=left:764px;top:441px></i><i class=f style=left:765px;top:441px></i><i class=f style=left:767px;top:441px></i><i class=f style=left:768px;top:440px></i><i class=f style=left:769px;top:440px></i><i class=f style=left:771px;top:440px></i><i class=f style=left:772px;top:441px></i><i class=f style=left:773px;top:440px></i><i class=f style=left:774px;top:440px></i><i class=f style=left:766px;top:428px></i><i class=f style=left:780px;top:437px></i><i class=f style=left:781px;top:437px></i><i class=f style=left:782px;top:435px></i><i class=f style=left:783px;top:435px></i><i class=f style=left:784px;top:435px></i><i class=f style=left:785px;top:434px></i><i class=f style=left:785px;top:433px></i><i class=f style=left:787px;top:433px></i><i class=f style=left:788px;top:432px></i><i class=f style=left:789px;top:432px></i><i class=f style=left:789px;top:432px></i><i class=f style=left:791px;top:432px></i><i class=f style=left:791px;top:432px></i><i class=f style=left:793px;top:431px></i><i class=f style=left:794px;top:431px></i><i class=f style=left:795px;top:430px></i><i class=f style=left:796px;top:430px></i><i class=f style=left:797px;top:430px></i><i class=f style=left:797px;top:429px></i><i class=f style=left:798px;top:429px></i><i class=f style=left:800px;top:431px></i><i class=f style=left:801px;top:431px></i><i class=f style=left:802px;top:430px></i><i class=f style=left:804px;top:429px></i><i class=f style=left:804px;top:430px></i><i class=f style=left:806px;top:428px></i><i class=f style=left:807px;top:430px></i><i class=f style=left:808px;top:417px></i><i class=f style=left:809px;top:418px></i><i class=f style=left:810px;top:417px></i><i class=f style=left:812px;top:417px></i><i class=f style=left:813px;top:418px></i><i class=f style=left:814px;top:418px></i><i class=f style=left:816px;top:418px></i><i class=f style=left:817px;top:417px></i><i class=f style=left:818px;top:418px></i><i class=f style=left:819px;top:418px></i><i class=f style=left:820px;top:417px></i><i class=f style=left:822px;top:418px></i><i class=f style=left:823px;top:417px></i><i class=f style=left:825px;top:421px></i><i class=f style=left:823px;top:413px></i><i class=f style=left:825px;top:412px></i><i class=f style=left:825px;top:413px></i><i class=f style=left:827px;top:413px></i><i class=f style=left:828px;top:413px></i><i class=f style=left:829px;top:413px></i><i class=f style=left:831px;top:412px></i><i class=f style=left:832px;top:413px></i><i class=f style=left:834px;top:412px></i><i class=f style=left:835px;top:411px></i><i class=f style=left:836px;top:412px></i><i class=f style=left:837px;top:412px></i><i class=f style=left:839px;top:412px></i><i class=f style=left:840px;top:411px></i><i class=f style=left:841px;top:411px></i><i class=f style=left:843px;top:411px></i><i class=f style=left:844px;top:412px></i><i class=f style=left:845px;top:411px></i><i class=f style=left:865px;top:422px></i><i class=f style=left:875px;top:424px></i><i class=f style=left:869px;top:426px></i><i class=f style=left:858px;top:423px></i><i class=f style=left:844px;top:423px></i><i class=f style=left:849px;top:421px></i><i class=f style=left:859px;top:420px></i><i class=f style=left:862px;top:421px></i><i class=f style=left:869px;top:426px></i><i class=f style=left:851px;top:421px></i><i class=f style=left:843px;top:419px></i><i class=f style=left:844px;top:421px></i><i class=f style=left:864px;top:424px></i><i class=f style=left:855px;top:422px></i><i class=f style=left:852px;top:420px></i><i class=f style=left:874px;top:420px></i><i class=f style=left:855px;top:419px></i><i class=f style=left:859px;top:422px></i><i class=f style=left:843px;top:423px></i><i class=f style=left:858px;top:424px></i><i class=f style=left:859px;top:421px></i><i class=f style=left:863px;top:422px></i><i class=f style=left:870px;top:426px></i><i class=f style=left:871px;top:424px></i><i class=f style=left:850px;top:420px></i><i class=f style=left:870px;top:419px></i><i class=f style=left:870px;top:420px></i><i class=f style=left:850px;top:424px></i><i class=f style=left:846px;top:422px></i><i class=f style=left:857px;top:419px></i><i class=f style=left:845px;top:421px></i><i class=f style=left:862px;top:423px></i><i class=f style=left:844px;top:426px></i><i class=f style=left:848px;top:420px></i><i class=f style=left:852px;top:420px></i><i class=f style=left:853px;top:419px></i><i class=f style=left:849px;top:425px></i><i class=f style=left:846px;top:423px></i><i class=f style=left:856px;top:424px></i><i class=f style=left:846px;top:426px></i><i class=f style=left:852px;top:426px></i><i class=f style=left:848px;top:421px></i><i class=f style=left:870px;top:422px></i><i class=f style=left:864px;top:425px></i><i class=f style=left:864px;top:424px></i><i class=f style=left:869px;top:419px></i><i class=f style=left:848px;top:425px></i><i class=f style=left:868px;top:420px></i><i class=f style=left:871px;top:424px></i><i class=f style=left:854px;top:422px></i><i class=f style=left:852px;top:425px></i><i class=f style=left:849px;top:422px></i><i class=f style=left:861px;top:423px></i><i class=f style=left:858px;top:420px></i><i class=f style=left:863px;top:421px></i><i class=f style=left:861px;top:428px></i><i class=f style=left:880px;top:409px></i><i class=f style=left:904px;top:407px></i><i class=f style=left:883px;top:422px></i><i class=f style=left:952px;top:400px></i><i class=f style=left:936px;top:416px></i><i class=f style=left:936px;top:427px></i><i class=f style=left:922px;top:374px></i><i class=f style=left:887px;top:408px></i><i class=f style=left:888px;top:408px></i><i class=f style=left:889px;top:408px></i><i class=f style=left:891px;top:408px></i><i class=f style=left:892px;top:408px></i><i class=f style=left:894px;top:408px></i><i class=f style=left:895px;top:408px></i><i class=f style=left:917px;top:407px></i><i class=f style=left:918px;top:407px></i><i class=f style=left:920px;top:407px></i><i class=f style=left:921px;top:406px></i><i class=f style=left:922px;top:407px></i><i class=f style=left:924px;top:408px></i><i class=f style=left:925px;top:407px></i><i class=f style=left:926px;top:408px></i><i class=f style=left:927px;top:407px></i><i class=f style=left:928px;top:407px></i><i class=f style=left:930px;top:407px></i><i class=f style=left:931px;top:407px></i><i class=f style=left:932px;top:407px></i><i class=f style=left:934px;top:407px></i><i class=f style=left:935px;top:407px></i><i class=f style=left:936px;top:407px></i><i class=f style=left:938px;top:402px></i><i class=f style=left:939px;top:403px></i><i class=f style=left:941px;top:402px></i><i class=f style=left:942px;top:402px></i><i class=f style=left:944px;top:403px></i><i class=f style=left:945px;top:402px></i><i class=f style=left:946px;top:402px></i><i class=f style=left:947px;top:402px></i><i class=f style=left:949px;top:402px></i><i class=f style=left:959px;top:402px></i><i class=f style=left:960px;top:402px></i><i class=f style=left:962px;top:402px></i><i class=f style=left:963px;top:402px></i><i class=f style=left:964px;top:401px></i><i class=f style=left:966px;top:401px></i><i class=f style=left:967px;top:407px></i><i class=f style=left:979px;top:378px></i><i class=f style=left:994px;top:384px></i><i class=f style=left:1011px;top:393px></i><i class=f style=left:1015px;top:393px></i><i class=f style=left:1003px;top:365px></i><i class=f style=left:1045px;top:332px></i><i class=f style=left:971px;top:399px></i><i class=f style=left:971px;top:397px></i><i class=f style=left:972px;top:397px></i><i class=f style=left:974px;top:397px></i><i class=f style=left:974px;top:396px></i><i class=f style=left:976px;top:396px></i><i class=f style=left:977px;top:395px></i><i class=f style=left:980px;top:392px></i><i class=f style=left:976px;top:389px></i><i class=f style=left:982px;top:391px></i><i class=f style=left:980px;top:388px></i><i class=f style=left:981px;top:388px></i><i class=f style=left:978px;top:390px></i><i class=f style=left:984px;top:391px></i><i class=f style=left:981px;top:390px></i><i class=f style=left:975px;top:390px></i><i class=f style=left:978px;top:391px></i><i class=f style=left:985px;top:389px></i><i class=f style=left:987px;top:389px></i><i class=f style=left:976px;top:389px></i><i class=f style=left:985px;top:390px></i><i class=f style=left:985px;top:389px></i><i class=f style=left:983px;top:392px></i><i class=f style=left:990px;top:392px></i><i class=f style=left:992px;top:392px></i><i class=f style=left:993px;top:392px></i><i class=f style=left:994px;top:392px></i><i class=f style=left:996px;top:392px></i><i class=f style=left:998px;top:392px></i><i class=f style=left:999px;top:392px></i><i class=f style=left:1000px;top:392px></i><i class=f style=left:1002px;top:392px></i><i class=f style=left:1014px;top:358px></i><i class=f style=left:1014px;top:356px></i><i class=f style=left:1015px;top:356px></i><i class=f style=left:1016px;top:355px></i><i class=f style=left:1017px;top:354px></i><i class=f style=left:1017px;top:353px></i><i class=f style=left:1018px;top:353px></i><i class=f style=left:1020px;top:351px></i><i class=f style=left:1020px;top:350px></i><i class=f style=left:1020px;top:351px></i><i class=f style=left:1022px;top:350px></i><i class=f style=left:1022px;top:350px></i><i class=f style=left:1023px;top:350px></i><i class=f style=left:1025px;top:348px></i><i class=f style=left:1026px;top:349px></i><i class=f style=left:1027px;top:348px></i><i class=f style=left:1028px;top:347px></i><i class=f style=left:1029px;top:346px></i><i class=f style=left:1030px;top:346px></i><i class=f style=left:1031px;top:347px></i><i class=f style=left:1033px;top:347px></i><i class=f style=left:1034px;top:346px></i><i class=f style=left:1035px;top:345px></i><i class=f style=left:1036px;top:345px></i><i class=f style=left:1037px;top:344px></i><i class=f style=left:1039px;top:345px></i><i class=f style=left:1039px;top:345px></i><i class=f style=left:1041px;top:343px></i><i class=f style=left:1042px;top:344px></i><i class=f style=left:1043px;top:344px></i><i class=f style=left:1044px;top:343px></i><i class=f style=left:1045px;top:342px></i><i class=f style=left:1045px;top:318px></i><i class=f style=left:1047px;top:318px></i><i class=f style=left:1049px;top:318px></i><i class=f style=left:1050px;top:318px></i><i class=f style=left:1050px;top:318px></i><i class=f style=left:1052px;top:318px></i><i class=f style=left:1054px;top:317px></i><i class=f style=left:1076px;top:317px></i><i class=f style=left:1058px;top:320px></i><i class=f style=left:1067px;top:315px></i><i class=f style=left:1072px;top:318px></i><i class=f style=left:1074px;top:316px></i><i class=f style=left:1072px;top:320px></i><i class=f style=left:1062px;top:319px></i><i class=f style=left:1070px;top:319px></i><i class=f style=left:1061px;top:316px></i><i class=f style=left:1072px;top:319px></i><i class=f style=left:1055px;top:315px></i><i class=f style=left:1061px;top:319px></i><i class=f style=left:1054px;top:319px></i><i class=f style=left:1075px;top:315px></i><i class=f style=left:1060px;top:316px></i><i class=f style=left:1060px;top:317px></i><i class=f style=left:1053px;top:320px></i><i class=f style=left:1056px;top:316px></i><i class=f style=left:1052px;top:317px></i><i class=f style=left:1056px;top:317px></i><i class=f style=left:1076px;top:318px></i><i class=f style=left:1063px;top:316px></i><i class=f style=left:1066px;top:319px></i><i class=f style=left:1070px;top:316px></i><i class=f style=left:1072px;top:316px></i><i class=f style=left:1064px;top:317px></i><i class=f style=left:1054px;top:318px></i><i class=f style=left:1057px;top:318px></i><i class=f style=left:1078px;top:317px></i><i class=f style=left:1071px;top:317px></i><i class=f style=left:1073px;top:317px></i><i class=f style=left:1056px;top:319px></i><i class=f style=left:1066px;top:316px></i><i class=f style=left:1068px;top:317px></i><i class=f style=left:1071px;top:316px></i><i class=f style=left:1058px;top:318px></i><i class=f style=left:1066px;top:316px></i><i class=f style=left:1064px;top:317px></i><i class=f style=left:1078px;top:317px></i><i class=f style=left:1074px;top:318px></i><i class=f style=left:1066px;top:319px></i><i class=f style=left:1070px;top:317px></i><i class=f style=left:1064px;top:317px></i><i class=f style=left:1067px;top:318px></i><i class=f style=left:1072px;top:319px></i><i class=f style=left:1065px;top:322px></i><i class=f style=left:1067px;top:323px></i><i class=f style=left:1068px;top:324px></i><i class=f style=left:1069px;top:324px></i><i class=f style=left:1070px;top:324px></i><i class=f style=left:1071px;top:325px></i><i class=f style=left:1073px;top:326px></i><i class=f style=left:1079px;top:310px></i><i class=f style=left:1039px;top:333px></i><i class=f style=left:1041px;top:338px></i><i class=f style=left:1042px;top:343px></i><i class=f style=left:1043px;top:346px></i><i class=f style=left:1084px;top:303px></i><i class=f style=left:1085px;top:302px></i><i class=f style=left:1086px;top:301px></i><i class=f style=left:1087px;top:300px></i><i class=f style=left:1088px;top:300px></i><i class=f style=left:1088px;top:299px></i><i class=f style=left:1090px;top:299px></i><i class=f style=left:1090px;top:298px></i><i class=f style=left:1091px;top:298px></i><i class=f style=left:1092px;top:296px></i><i class=f style=left:1093px;top:296px></i><i class=f style=left:1094px;top:295px></i><i class=f style=left:1092px;top:292px></i><i class=f style=left:1093px;top:291px></i><i class=f style=left:1094px;top:291px></i><i class=f style=left:1095px;top:292px></i><i class=f style=left:1096px;top:291px></i><i class=f style=left:1097px;top:290px></i><i class=f style=left:1097px;top:289px></i><i class=f style=left:1099px;top:289px></i><i class=f style=left:1100px;top:289px></i><i class=f style=left:1101px;top:288px></i><i class=f style=left:1102px;top:289px></i><i class=f style=left:1103px;top:287px></i><i class=f style=left:1104px;top:287px></i><i class=f style=left:1106px;top:288px></i><i class=f style=left:1106px;top:287px></i><i class=f style=left:1106px;top:285px></i><i class=f style=left:1108px;top:286px></i><i class=f style=left:1109px;top:286px></i><i class=f style=left:1110px;top:284px></i><i class=f style=left:1111px;top:284px></i><i class=f style=left:1112px;top:283px></i><i class=f style=left:1113px;top:283px></i><i class=f style=left:1114px;top:284px></i><i class=f style=left:1113px;top:282px></i><i class=f style=left:1115px;top:282px></i><i class=f style=left:1116px;top:282px></i><i class=f style=left:1116px;top:280px></i><i class=f style=left:1118px;top:280px></i><i class=f style=left:1119px;top:280px></i><i class=f style=left:1120px;top:279px></i><i class=f style=left:1120px;top:278px></i><i class=f style=left:1121px;top:277px></i><i class=f style=left:1122px;top:277px></i><i class=f style=left:1123px;top:276px></i><i class=f style=left:1124px;top:275px></i><i class=f style=left:1125px;top:276px></i><i class=f style=left:1126px;top:274px></i><i class=f style=left:1127px;top:275px></i><i class=f style=left:1128px;top:273px></i><i class=f style=left:1128px;top:274px></i><i class=f style=left:1129px;top:273px></i><i class=f style=left:1131px;top:273px></i><i class=f style=left:1131px;top:272px></i><i class=f style=left:1132px;top:273px></i><i class=f style=left:1133px;top:272px></i><i class=f style=left:1135px;top:271px></i><i class=f style=left:1135px;top:271px></i><i class=f style=left:1137px;top:271px></i><i class=f style=left:1137px;top:269px></i><i class=f style=left:1139px;top:270px></i><i class=f style=left:1140px;top:271px></i><i class=f style=left:1140px;top:269px></i><i class=f style=left:1142px;top:269px></i><i class=f style=left:1142px;top:268px></i><i class=f style=left:1145px;top:269px></i><i class=f style=left:1145px;top:269px></i><i class=f style=left:1146px;top:268px></i><i class=f style=left:1147px;top:268px></i><i class=f style=left:1160px;top:262px></i><i class=f style=left:1163px;top:260px></i><i class=f style=left:1165px;top:261px></i><i class=f style=left:1155px;top:260px></i><i class=f style=left:1160px;top:258px></i><i class=f style=left:1162px;top:262px></i><i class=f style=left:1163px;top:258px></i><i class=f style=left:1163px;top:260px></i><i class=f style=left:1152px;top:261px></i><i class=f style=left:1164px;top:259px></i><i class=f style=left:1160px;top:257px></i><i class=f style=left:1163px;top:258px></i><i class=f style=left:1154px;top:262px></i><i class=f style=left:1160px;top:259px></i><i class=f style=left:1159px;top:260px></i><i class=f style=left:1162px;top:262px></i><i class=f style=left:1158px;top:259px></i><i class=f style=left:1155px;top:262px></i><i class=f style=left:1172px;top:253px></i><i class=f style=left:1173px;top:253px></i><i class=f style=left:1174px;top:251px></i><i class=f style=left:1175px;top:252px></i><i class=f style=left:1177px;top:253px></i><i class=f style=left:1177px;top:251px></i><i class=f style=left:1178px;top:251px></i><i class=f style=left:1180px;top:252px></i><i class=f style=left:1181px;top:252px></i><i class=f style=left:1181px;top:251px></i><i class=f style=left:1183px;top:252px></i><i class=f style=left:1184px;top:252px></i><i class=f style=left:1185px;top:251px></i><i class=f style=left:1186px;top:253px></i><i class=f style=left:1187px;top:252px></i><i class=f style=left:1189px;top:252px></i><i class=f style=left:1189px;top:252px></i><i class=f style=left:1191px;top:252px></i><i class=f style=left:1191px;top:252px></i><i class=f style=left:1193px;top:252px></i><i class=f style=left:1194px;top:252px></i><i class=f style=left:1195px;top:251px></i><i class=f style=left:1196px;top:251px></i><i class=f style=left:1198px;top:252px></i><i class=f style=left:1198px;top:252px></i><i class=f style=left:1200px;top:253px></i><i class=f style=left:1201px;top:252px></i><i class=f style=left:1202px;top:252px></i><i class=f style=left:1202px;top:253px></i><i class=f style=left:1204px;top:253px></i><i class=f style=left:1205px;top:252px></i><i class=f style=left:1212px;top:248px></i><i class=f style=left:1252px;top:236px></i><i class=f style=left:1251px;top:237px></i><i class=f style=left:1225px;top:244px></i><i class=f style=left:1227px;top:244px></i><i class=f style=left:1228px;top:244px></i><i class=f style=left:1229px;top:245px></i><i class=f style=left:1231px;top:246px></i><i class=f style=left:1232px;top:246px></i><i class=f style=left:1233px;top:246px></i><i class=f style=left:1235px;top:246px></i><i class=f style=left:189px;top:449px></i><i class=f style=left:393px;top:414px></i><i class=f style=left:410px;top:857px></i><i class=f style=left:756px;top:316px></i><i class=f style=left:757px;top:317px></i><i class=f style=left:63px;top:150px></i><i class=f style=left:321px;top:141px></i><i class=f style=left:290px;top:235px></i><i class=f style=left:292px;top:235px></i><i class=f style=left:389px;top:146px></i><i class=f style=left:540px;top:45px></i><i class=f style=left:611px;top:227px></i><i class=f style=left:938px;top:153px></i><i class=f style=left:1124px;top:222px></i><i class=f style=left:1111px;top:226px></i><i class=f style=left:1172px;top:95px></i><i class=f style=left:1173px;top:94px></i><i class=f style=left:1112px;top:225px></i>
<i class=g style=left:67px;top:921px></i><i class=g style=left:67px;top:923px></i><i class=g style=left:68px;top:920px></i><i class=g style=left:68px;top:924px></i><i class=g style=left:70px;top:922px></i><i class=g style=left:71px;top:919px></i><i class=g style=left:72px;top:918px></i><i class=g style=left:77px;top:913px></i><i class=g style=left:81px;top:913px></i><i class=g style=left:84px;top:912px></i><i class=g style=left:84px;top:914px></i><i class=g style=left:90px;top:512px></i><i class=g style=left:92px;top:910px></i><i class=g style=left:98px;top:908px></i><i class=g style=left:110px;top:902px></i><i class=g style=left:110px;top:904px></i><i class=g style=left:111px;top:903px></i><i class=g style=left:112px;top:904px></i><i class=g style=left:113px;top:905px></i><i class=g style=left:115px;top:903px></i><i class=g style=left:116px;top:902px></i><i class=g style=left:116px;top:904px></i><i class=g style=left:117px;top:903px></i><i class=g style=left:118px;top:902px></i><i class=g style=left:120px;top:900px></i><i class=g style=left:123px;top:899px></i><i class=g style=left:126px;top:898px></i><i class=g style=left:139px;top:893px></i><i class=g style=left:149px;top:891px></i><i class=g style=left:157px;top:887px></i><i class=g style=left:167px;top:883px></i><i class=g style=left:176px;top:878px></i><i class=g style=left:178px;top:878px></i><i class=g style=left:185px;top:873px></i><i class=g style=left:192px;top:872px></i><i class=g style=left:200px;top:870px></i><i class=g style=left:209px;top:867px></i><i class=g style=left:216px;top:868px></i><i class=g style=left:223px;top:865px></i><i class=g style=left:233px;top:767px></i><i class=g style=left:233px;top:773px></i><i class=g style=left:234px;top:764px></i><i class=g style=left:234px;top:770px></i><i class=g style=left:235px;top:859px></i><i class=g style=left:236px;top:858px></i><i class=g style=left:236px;top:860px></i><i class=g style=left:238px;top:860px></i><i class=g style=left:239px;top:857px></i><i class=g style=left:240px;top:858px></i><i class=g style=left:241px;top:859px></i><i class=g style=left:242px;top:858px></i><i class=g style=left:242px;top:860px></i><i class=g style=left:243px;top:857px></i><i class=g style=left:251px;top:853px></i><i class=g style=left:252px;top:852px></i><i class=g style=left:255px;top:851px></i><i class=g style=left:263px;top:831px></i><i class=g style=left:265px;top:833px></i><i class=g style=left:267px;top:831px></i><i class=g style=left:267px;top:835px></i><i class=g style=left:270px;top:836px></i><i class=g style=left:273px;top:837px></i><i class=g style=left:279px;top:839px></i><i class=g style=left:279px;top:843px></i><i class=g style=left:282px;top:826px></i><i class=g style=left:285px;top:839px></i><i class=g style=left:286px;top:840px></i><i class=g style=left:287px;top:839px></i><i class=g style=left:288px;top:838px></i><i class=g style=left:289px;top:825px></i><i class=g style=left:289px;top:839px></i><i class=g style=left:293px;top:823px></i><i class=g style=left:294px;top:822px></i><i class=g style=left:296px;top:822px></i><i class=g style=left:297px;top:823px></i><i class=g style=left:308px;top:812px></i><i class=g style=left:309px;top:857px></i><i class=g style=left:316px;top:810px></i><i class=g style=left:323px;top:811px></i><i class=g style=left:327px;top:805px></i><i class=g style=left:329px;top:805px></i><i class=g style=left:334px;top:804px></i><i class=g style=left:335px;top:803px></i><i class=g style=left:336px;top:802px></i><i class=g style=left:344px;top:796px></i><i class=g style=left:349px;top:793px></i><i class=g style=left:353px;top:791px></i><i class=g style=left:359px;top:787px></i><i class=g style=left:370px;top:782px></i><i class=g style=left:371px;top:781px></i><i class=g style=left:372px;top:780px></i><i class=g style=left:375px;top:779px></i><i class=g style=left:376px;top:778px></i><i class=g style=left:384px;top:140px></i><i class=g style=left:384px;top:772px></i><i class=g style=left:389px;top:773px></i><i class=g style=left:394px;top:772px></i><i class=g style=left:400px;top:768px></i><i class=g style=left:401px;top:767px></i><i class=g style=left:407px;top:761px></i><i class=g style=left:408px;top:762px></i><i class=g style=left:417px;top:757px></i><i class=g style=left:418px;top:756px></i><i class=g style=left:435px;top:737px></i><i class=g style=left:449px;top:745px></i><i class=g style=left:455px;top:745px></i><i class=g style=left:475px;top:729px></i><i class=g style=left:478px;top:418px></i><i class=g style=left:479px;top:727px></i><i class=g style=left:480px;top:352px></i><i class=g style=left:480px;top:726px></i><i class=g style=left:481px;top:725px></i><i class=g style=left:483px;top:347px></i><i class=g style=left:520px;top:706px></i><i class=g style=left:522px;top:714px></i><i class=g style=left:527px;top:701px></i><i class=g style=left:534px;top:702px></i><i class=g style=left:536px;top:700px></i><i class=g style=left:540px;top:698px></i><i class=g style=left:542px;top:696px></i><i class=g style=left:544px;top:694px></i><i class=g style=left:547px;top:693px></i><i class=g style=left:549px;top:695px></i><i class=g style=left:553px;top:659px></i><i class=g style=left:555px;top:657px></i><i class=g style=left:558px;top:656px></i><i class=g style=left:561px;top:645px></i><i class=g style=left:561px;top:655px></i><i class=g style=left:562px;top:836px></i><i class=g style=left:564px;top:646px></i><i class=g style=left:564px;top:656px></i><i class=g style=left:565px;top:647px></i><i class=g style=left:565px;top:657px></i><i class=g style=left:566px;top:646px></i><i class=g style=left:566px;top:656px></i><i class=g style=left:568px;top:692px></i><i class=g style=left:579px;top:689px></i><i class=g style=left:580px;top:688px></i><i class=g style=left:581px;top:689px></i><i class=g style=left:587px;top:685px></i><i class=g style=left:588px;top:684px></i><i class=g style=left:590px;top:668px></i><i class=g style=left:594px;top:542px></i><i class=g style=left:600px;top:678px></i><i class=g style=left:602px;top:676px></i><i class=g style=left:603px;top:675px></i><i class=g style=left:605px;top:653px></i><i class=g style=left:609px;top:657px></i><i class=g style=left:610px;top:662px></i><i class=g style=left:611px;top:227px></i><i class=g style=left:616px;top:658px></i><i class=g style=left:617px;top:659px></i><i class=g style=left:619px;top:643px></i><i class=g style=left:620px;top:644px></i><i class=g style=left:623px;top:639px></i><i class=g style=left:624px;top:638px></i><i class=g style=left:634px;top:634px></i><i class=g style=left:635px;top:633px></i><i class=g style=left:637px;top:635px></i><i class=g style=left:638px;top:636px></i><i class=g style=left:641px;top:629px></i><i class=g style=left:643px;top:627px></i><i class=g style=left:645px;top:625px></i><i class=g style=left:646px;top:624px></i><i class=g style=left:647px;top:623px></i><i class=g style=left:652px;top:624px></i><i class=g style=left:653px;top:623px></i><i class=g style=left:654px;top:624px></i><i class=g style=left:659px;top:621px></i><i class=g style=left:663px;top:619px></i><i class=g style=left:671px;top:613px></i><i class=g style=left:672px;top:614px></i><i class=g style=left:672px;top:616px></i><i class=g style=left:676px;top:610px></i><i class=g style=left:682px;top:608px></i><i class=g style=left:683px;top:607px></i><i class=g style=left:687px;top:605px></i><i class=g style=left:698px;top:210px></i><i class=g style=left:703px;top:591px></i><i class=g style=left:707px;top:595px></i><i class=g style=left:709px;top:601px></i><i class=g style=left:710px;top:446px></i><i class=g style=left:713px;top:597px></i><i class=g style=left:716px;top:598px></i><i class=g style=left:723px;top:857px></i><i class=g style=left:735px;top:573px></i><i class=g style=left:742px;top:582px></i><i class=g style=left:743px;top:581px></i><i class=g style=left:745px;top:579px></i><i class=g style=left:745px;top:583px></i><i class=g style=left:748px;top:572px></i><i class=g style=left:749px;top:571px></i><i class=g style=left:751px;top:573px></i><i class=g style=left:753px;top:575px></i><i class=g style=left:753px;top:577px></i><i class=g style=left:759px;top:587px></i><i class=g style=left:762px;top:566px></i><i class=g style=left:767px;top:565px></i><i class=g style=left:768px;top:564px></i><i class=g style=left:769px;top:565px></i><i class=g style=left:772px;top:562px></i><i class=g style=left:773px;top:561px></i><i class=g style=left:774px;top:562px></i><i class=g style=left:777px;top:561px></i><i class=g style=left:780px;top:560px></i><i class=g style=left:786px;top:558px></i><i class=g style=left:789px;top:555px></i><i class=g style=left:790px;top:540px></i><i class=g style=left:790px;top:554px></i><i class=g style=left:794px;top:544px></i><i class=g style=left:794px;top:556px></i><i class=g style=left:796px;top:536px></i><i class=g style=left:797px;top:673px></i><i class=g style=left:798px;top:544px></i><i class=g style=left:799px;top:555px></i><i class=g style=left:800px;top:544px></i><i class=g style=left:802px;top:672px></i><i class=g style=left:803px;top:537px></i><i class=g style=left:804px;top:536px></i><i class=g style=left:804px;top:538px></i><i class=g style=left:804px;top:540px></i><i class=g style=left:805px;top:537px></i><i class=g style=left:805px;top:539px></i><i class=g style=left:811px;top:551px></i><i class=g style=left:813px;top:551px></i><i class=g style=left:817px;top:549px></i><i class=g style=left:818px;top:548px></i><i class=g style=left:819px;top:547px></i><i class=g style=left:819px;top:555px></i><i class=g style=left:823px;top:545px></i><i class=g style=left:837px;top:519px></i><i class=g style=left:842px;top:514px></i><i class=g style=left:843px;top:513px></i><i class=g style=left:850px;top:512px></i><i class=g style=left:854px;top:512px></i><i class=g style=left:856px;top:188px></i><i class=g style=left:858px;top:512px></i><i class=g style=left:861px;top:539px></i><i class=g style=left:862px;top:496px></i><i class=g style=left:862px;top:508px></i><i class=g style=left:863px;top:507px></i><i class=g style=left:865px;top:505px></i><i class=g style=left:866px;top:504px></i><i class=g style=left:866px;top:506px></i><i class=g style=left:867px;top:499px></i><i class=g style=left:867px;top:505px></i><i class=g style=left:870px;top:504px></i><i class=g style=left:871px;top:503px></i><i class=g style=left:873px;top:503px></i><i class=g style=left:891px;top:483px></i><i class=g style=left:894px;top:482px></i><i class=g style=left:896px;top:482px></i><i class=g style=left:899px;top:481px></i><i class=g style=left:903px;top:479px></i><i class=g style=left:913px;top:477px></i><i class=g style=left:920px;top:476px></i><i class=g style=left:927px;top:473px></i><i class=g style=left:929px;top:471px></i><i class=g style=left:930px;top:138px></i><i class=g style=left:932px;top:470px></i><i class=g style=left:933px;top:469px></i><i class=g style=left:936px;top:556px></i><i class=g style=left:936px;top:674px></i><i class=g style=left:938px;top:154px></i><i class=g style=left:938px;top:466px></i><i class=g style=left:940px;top:466px></i><i class=g style=left:941px;top:465px></i><i class=g style=left:942px;top:464px></i><i class=g style=left:943px;top:463px></i><i class=g style=left:944px;top:464px></i><i class=g style=left:945px;top:463px></i><i class=g style=left:948px;top:462px></i><i class=g style=left:953px;top:461px></i><i class=g style=left:965px;top:459px></i><i class=g style=left:969px;top:455px></i><i class=g style=left:975px;top:449px></i><i class=g style=left:975px;top:451px></i><i class=g style=left:978px;top:452px></i><i class=g style=left:983px;top:433px></i><i class=g style=left:987px;top:435px></i><i class=g style=left:988px;top:434px></i><i class=g style=left:997px;top:427px></i><i class=g style=left:1004px;top:424px></i><i class=g style=left:1005px;top:423px></i><i class=g style=left:1008px;top:422px></i><i class=g style=left:1015px;top:419px></i><i class=g style=left:1016px;top:418px></i><i class=g style=left:1017px;top:417px></i><i class=g style=left:1023px;top:93px></i><i class=g style=left:1024px;top:414px></i><i class=g style=left:1025px;top:413px></i><i class=g style=left:1026px;top:412px></i><i class=g style=left:1029px;top:411px></i><i class=g style=left:1032px;top:410px></i><i class=g style=left:1034px;top:416px></i><i class=g style=left:1035px;top:415px></i><i class=g style=left:1036px;top:326px></i><i class=g style=left:1037px;top:409px></i><i class=g style=left:1038px;top:408px></i><i class=g style=left:1044px;top:412px></i><i class=g style=left:1056px;top:412px></i><i class=g style=left:1063px;top:357px></i><i class=g style=left:1064px;top:398px></i><i class=g style=left:1065px;top:397px></i><i class=g style=left:1067px;top:397px></i><i class=g style=left:1067px;top:399px></i><i class=g style=left:1068px;top:398px></i><i class=g style=left:1070px;top:396px></i><i class=g style=left:1071px;top:397px></i><i class=g style=left:1073px;top:553px></i><i class=g style=left:1077px;top:325px></i><i class=g style=left:1086px;top:330px></i><i class=g style=left:1088px;top:328px></i><i class=g style=left:1089px;top:329px></i><i class=g style=left:1091px;top:327px></i><i class=g style=left:1091px;top:329px></i><i class=g style=left:1092px;top:328px></i><i class=g style=left:1093px;top:327px></i><i class=g style=left:1095px;top:329px></i><i class=g style=left:1097px;top:317px></i><i class=g style=left:1098px;top:318px></i><i class=g style=left:1103px;top:319px></i><i class=g style=left:1104px;top:320px></i><i class=g style=left:1105px;top:319px></i><i class=g style=left:1105px;top:323px></i><i class=g style=left:1109px;top:439px></i><i class=g style=left:1111px;top:441px></i><i class=g style=left:1115px;top:441px></i><i class=g style=left:1116px;top:440px></i><i class=g style=left:1117px;top:441px></i><i class=g style=left:1118px;top:440px></i><i class=g style=left:1120px;top:208px></i><i class=g style=left:1120px;top:440px></i><i class=g style=left:1124px;top:222px></i><i class=g style=left:1124px;top:224px></i><i class=g style=left:1124px;top:438px></i><i class=g style=left:1125px;top:439px></i><i class=g style=left:1127px;top:441px></i><i class=g style=left:1129px;top:443px></i><i class=g style=left:1131px;top:445px></i><i class=g style=left:1132px;top:444px></i><i class=g style=left:1133px;top:445px></i><i class=g style=left:1134px;top:446px></i><i class=g style=left:1138px;top:446px></i><i class=g style=left:1146px;top:446px></i><i class=g style=left:1159px;top:273px></i><i class=g style=left:1175px;top:273px></i><i class=g style=left:1175px;top:275px></i><i class=g style=left:1176px;top:274px></i><i class=g style=left:1178px;top:272px></i><i class=g style=left:1179px;top:273px></i><i class=g style=left:1179px;top:275px></i><i class=g style=left:1180px;top:276px></i><i class=g style=left:1184px;top:268px></i><i class=g style=left:1186px;top:258px></i><i class=g style=left:1189px;top:263px></i><i class=g style=left:1192px;top:262px></i><i class=g style=left:1192px;top:264px></i><i class=g style=left:1193px;top:263px></i><i class=g style=left:1194px;top:262px></i><i class=g style=left:1196px;top:264px></i><i class=g style=left:1204px;top:252px></i><i class=g style=left:1205px;top:255px></i><i class=g style=left:1206px;top:254px></i><i class=g style=left:1206px;top:256px></i><i class=g style=left:1219px;top:253px></i><i class=g style=left:1221px;top:251px></i><i class=g style=left:1223px;top:249px></i><i class=g style=left:1224px;top:248px></i><i class=g style=left:1224px;top:250px></i><i class=g style=left:1228px;top:248px></i><i class=g style=left:1231px;top:245px></i><i class=g style=left:1233px;top:243px></i><i class=g style=left:1236px;top:236px></i><i class=g style=left:1236px;top:238px></i><i class=g style=left:1236px;top:240px></i><i class=g style=left:1240px;top:242px></i><i class=g style=left:1252px;top:242px></i><i class=g style=left:116px;top:903px></i><i class=g style=left:117px;top:902px></i><i class=g style=left:117px;top:904px></i><i class=g style=left:118px;top:903px></i><i class=g style=left:119px;top:902px></i><i class=g style=left:237px;top:858px></i><i class=g style=left:242px;top:859px></i><i class=g style=left:243px;top:860px></i><i class=g style=left:287px;top:840px></i><i class=g style=left:288px;top:839px></i><i class=g style=left:289px;top:838px></i><i class=g style=left:294px;top:823px></i><i class=g style=left:295px;top:822px></i><i class=g style=left:297px;top:822px></i><i class=g style=left:335px;top:804px></i><i class=g style=left:336px;top:803px></i><i class=g style=left:337px;top:802px></i><i class=g style=left:401px;top:768px></i><i class=g style=left:402px;top:767px></i><i class=g style=left:408px;top:761px></i><i class=g style=left:409px;top:762px></i><i class=g style=left:418px;top:757px></i><i class=g style=left:419px;top:756px></i><i class=g style=left:480px;top:727px></i><i class=g style=left:481px;top:726px></i><i class=g style=left:482px;top:725px></i><i class=g style=left:565px;top:646px></i><i class=g style=left:565px;top:656px></i><i class=g style=left:566px;top:647px></i><i class=g style=left:566px;top:657px></i><i class=g style=left:567px;top:646px></i><i class=g style=left:567px;top:656px></i><i class=g style=left:580px;top:689px></i><i class=g style=left:581px;top:688px></i><i class=g style=left:582px;top:689px></i><i class=g style=left:588px;top:685px></i><i class=g style=left:589px;top:684px></i><i class=g style=left:601px;top:678px></i><i class=g style=left:603px;top:676px></i><i class=g style=left:604px;top:675px></i><i class=g style=left:617px;top:658px></i><i class=g style=left:618px;top:659px></i><i class=g style=left:620px;top:643px></i><i class=g style=left:621px;top:644px></i><i class=g style=left:635px;top:634px></i><i class=g style=left:636px;top:633px></i><i class=g style=left:646px;top:625px></i><i class=g style=left:647px;top:624px></i><i class=g style=left:648px;top:623px></i><i class=g style=left:653px;top:624px></i><i class=g style=left:654px;top:623px></i><i class=g style=left:655px;top:624px></i><i class=g style=left:672px;top:613px></i><i class=g style=left:673px;top:614px></i><i class=g style=left:683px;top:608px></i><i class=g style=left:684px;top:607px></i><i class=g style=left:749px;top:572px></i><i class=g style=left:750px;top:571px></i><i class=g style=left:752px;top:573px></i><i class=g style=left:768px;top:565px></i><i class=g style=left:769px;top:564px></i><i class=g style=left:770px;top:565px></i><i class=g style=left:773px;top:562px></i><i class=g style=left:774px;top:561px></i><i class=g style=left:775px;top:562px></i><i class=g style=left:790px;top:555px></i><i class=g style=left:791px;top:554px></i><i class=g style=left:805px;top:536px></i><i class=g style=left:805px;top:540px></i><i class=g style=left:806px;top:539px></i><i class=g style=left:818px;top:549px></i><i class=g style=left:819px;top:548px></i><i class=g style=left:820px;top:547px></i><i class=g style=left:843px;top:514px></i><i class=g style=left:844px;top:513px></i><i class=g style=left:863px;top:508px></i><i class=g style=left:866px;top:505px></i><i class=g style=left:867px;top:504px></i><i class=g style=left:868px;top:505px></i><i class=g style=left:933px;top:470px></i><i class=g style=left:934px;top:469px></i><i class=g style=left:939px;top:466px></i><i class=g style=left:941px;top:466px></i><i class=g style=left:942px;top:465px></i><i class=g style=left:943px;top:464px></i><i class=g style=left:988px;top:435px></i><i class=g style=left:989px;top:434px></i><i class=g style=left:1016px;top:419px></i><i class=g style=left:1017px;top:418px></i><i class=g style=left:1018px;top:417px></i><i class=g style=left:1035px;top:416px></i><i class=g style=left:1036px;top:415px></i><i class=g style=left:1038px;top:409px></i><i class=g style=left:1039px;top:408px></i><i class=g style=left:1065px;top:398px></i><i class=g style=left:1071px;top:396px></i><i class=g style=left:1072px;top:397px></i><i class=g style=left:1087px;top:330px></i><i class=g style=left:1089px;top:328px></i><i class=g style=left:1090px;top:329px></i><i class=g style=left:1092px;top:327px></i><i class=g style=left:1093px;top:328px></i><i class=g style=left:1096px;top:329px></i><i class=g style=left:1104px;top:319px></i><i class=g style=left:1105px;top:320px></i><i class=g style=left:1106px;top:319px></i><i class=g style=left:1116px;top:441px></i><i class=g style=left:1117px;top:440px></i><i class=g style=left:1119px;top:440px></i><i class=g style=left:1121px;top:440px></i><i class=g style=left:1130px;top:443px></i><i class=g style=left:1134px;top:445px></i><i class=g style=left:1176px;top:275px></i><i class=g style=left:1179px;top:272px></i><i class=g style=left:1181px;top:276px></i><i class=g style=left:1193px;top:262px></i><i class=g style=left:1194px;top:263px></i><i class=g style=left:1195px;top:262px></i><i class=g style=left:1197px;top:264px></i><i class=g style=left:1206px;top:255px></i><i class=g style=left:1207px;top:254px></i><i class=g style=left:1207px;top:256px></i><i class=g style=left:1222px;top:251px></i><i class=g style=left:1224px;top:249px></i><i class=g style=left:1225px;top:248px></i><i class=g style=left:1225px;top:250px></i><i class=g style=left:1237px;top:236px></i><i class=g style=left:1237px;top:238px></i><i class=g style=left:1237px;top:240px></i>
<i class=a style=left:1227px;top:40px></i><i class=b style=left:1227px;top:51px></i><i class=c style=left:1227px;top:62px></i><i class=d style=left:1227px;top:73px></i><i class=e style=left:1227px;top:84px></i><i class=f style=left:1227px;top:95px></i><i class=g style=left:1227px;top:106px></i>
</div>
<svg width="1280" height="960" viewBox="0 0 1280 960">
<filter id="tf" x="0" y="0" width="100%" height="100%" filterUnits="userSpaceOnUse" color-interpolation-filters="sRGB"><feComponentTransfer><feFuncA type="discrete" tableValues="0 0 0 0 0 0 0 0 0 1 1 1 1 1 1 1 1 1 1 1"/></feComponentTransfer></filter>
<g filter="url(#tf)">
<text x="1207" y="46" text-anchor="end" style="fill:#ff4040">Genethon</text>
<text x="1207" y="57" text-anchor="end" style="fill:#40ff40">GM99 GB4</text>
<text x="1207" y="68" text-anchor="end" style="fill:#4040ff">Marshfield</text>
<text x="1207" y="79" text-anchor="end" style="fill:#ff40ff">TNG</text>
<text x="1207" y="90" text-anchor="end" style="fill:#40ffff">WI YAC</text>
<text x="1207" y="101" text-anchor="end" style="fill:#ffff40">WI RH</text>
<text x="1207" y="112" text-anchor="end" style="fill:#a00000">GM99 G3</text>
<text x="494" y="19">Chromosome 7 Markers vs Genome Sequence Assembly</text>
<text x="578" y="957">Genome Sequence Assembly</text>
<text transform="translate(14 523) rotate(-90)">Map Location</text>
<text x="58" y="45" text-anchor="end">chrY</text><text x="58" y="53" text-anchor="end">chrX</text><text x="58" y="62" text-anchor="end">chr22</text><text x="58" y="70" text-anchor="end">chr21</text><text x="58" y="79" text-anchor="end">chr20</text><text x="58" y="88" text-anchor="end">chr19</text><text x="58" y="96" text-anchor="end">chr18</text><text x="58" y="105" text-anchor="end">chr17</text><text x="58" y="113" text-anchor="end">chr16</text><text x="58" y="122" text-anchor="end">chr15</text><text x="58" y="131" text-anchor="end">chr14</text><text x="58" y="139" text-anchor="end">chr13</text><text x="58" y="148" text-anchor="end">chr12</text><text x="58" y="156" text-anchor="end">chr11</text><text x="58" y="165" text-anchor="end">chr10</text><text x="58" y="174" text-anchor="end">chr9</text><text x="58" y="182" text-anchor="end">chr8</text><text x="58" y="191" text-anchor="end">chr7</text><text x="58" y="199" text-anchor="end">chr6</text><text x="58" y="208" text-anchor="end">chr5</text><text x="58" y="217" text-anchor="end">chr4</text><text x="58" y="225" text-anchor="end">chr3</text><text x="58" y="234" text-anchor="end">chr2</text><text x="58" y="242" text-anchor="end">chr1</text>
<text x="290" y="941">34Mb</text><text x="529" y="941">69Mb</text><text x="765" y="941">103Mb</text><text x="1004" y="941">138Mb</text><text x="1243" y="941">172Mb</text>
</g>
</svg>
</body></html>
